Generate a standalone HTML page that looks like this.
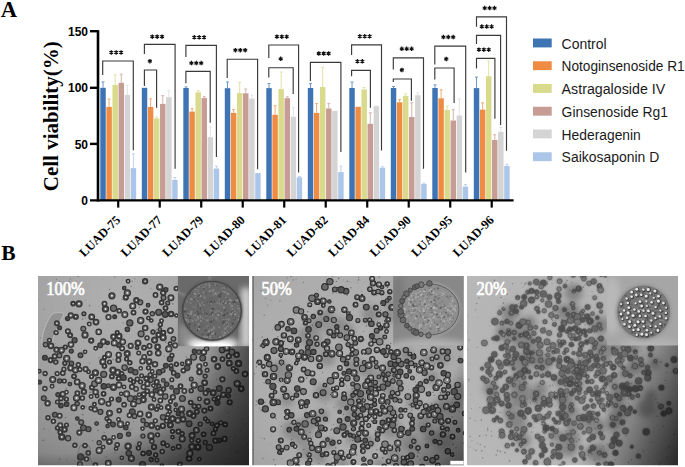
<!DOCTYPE html><html><head><meta charset="utf-8"><style>html,body{margin:0;padding:0;background:#fff;width:685px;height:467px;overflow:hidden}svg{display:block}</style></head><body><svg width="685" height="467" viewBox="0 0 685 467"><text x="0.7" y="16.5" font-family="Liberation Serif" font-weight="bold" font-size="22.6" fill="#000">A</text><text x="1.2" y="260.2" font-family="Liberation Serif" font-weight="bold" font-size="21.5" fill="#000">B</text><text transform="translate(57.6,191.2) rotate(-90)" font-family="Liberation Serif" font-weight="bold" font-size="21" fill="#000">Cell viability(%)</text><rect x="100.30" y="87.80" width="5.45" height="112.50" fill="#3e74b4"/><path d="M103.02 87.80V81.90M101.52 81.90H104.52" stroke="#6a97cf" stroke-width="1" fill="none"/><rect x="106.38" y="106.90" width="5.45" height="93.40" fill="#ef8c43"/><path d="M109.10 106.90V99.10M107.60 99.10H110.60" stroke="#f3aa76" stroke-width="1" fill="none"/><rect x="112.46" y="84.90" width="5.45" height="115.40" fill="#d9da8c"/><path d="M115.18 84.90V74.80M113.68 74.80H116.68" stroke="#e2e2a6" stroke-width="1" fill="none"/><rect x="118.54" y="82.80" width="5.45" height="117.50" fill="#c69c94"/><path d="M121.26 82.80V74.20M119.76 74.20H122.76" stroke="#d4b2ab" stroke-width="1" fill="none"/><rect x="124.62" y="94.90" width="5.45" height="105.40" fill="#d4d4d4"/><path d="M127.34 94.90V85.20M125.84 85.20H128.84" stroke="#e2e2e2" stroke-width="1" fill="none"/><rect x="130.70" y="168.10" width="5.45" height="32.20" fill="#abc6e9"/><path d="M133.42 168.10V153.90M131.92 153.90H134.92" stroke="#bcd2ee" stroke-width="1" fill="none"/><rect x="141.80" y="87.80" width="5.45" height="112.50" fill="#3e74b4"/><rect x="147.88" y="107.00" width="5.45" height="93.30" fill="#ef8c43"/><path d="M150.61 107.00V98.90M149.11 98.90H152.11" stroke="#f3aa76" stroke-width="1" fill="none"/><rect x="153.96" y="118.40" width="5.45" height="81.90" fill="#d9da8c"/><path d="M156.69 118.40V116.90M155.19 116.90H158.19" stroke="#e2e2a6" stroke-width="1" fill="none"/><rect x="160.04" y="103.90" width="5.45" height="96.40" fill="#c69c94"/><path d="M162.77 103.90V95.70M161.27 95.70H164.27" stroke="#d4b2ab" stroke-width="1" fill="none"/><rect x="166.12" y="97.20" width="5.45" height="103.10" fill="#d4d4d4"/><path d="M168.84 97.20V90.70M167.34 90.70H170.34" stroke="#e2e2e2" stroke-width="1" fill="none"/><rect x="172.20" y="180.00" width="5.45" height="20.30" fill="#abc6e9"/><path d="M174.93 180.00V177.60M173.43 177.60H176.43" stroke="#bcd2ee" stroke-width="1" fill="none"/><rect x="183.30" y="88.00" width="5.45" height="112.30" fill="#3e74b4"/><path d="M186.03 88.00V86.90M184.53 86.90H187.53" stroke="#6a97cf" stroke-width="1" fill="none"/><rect x="189.38" y="111.60" width="5.45" height="88.70" fill="#ef8c43"/><path d="M192.11 111.60V108.70M190.61 108.70H193.61" stroke="#f3aa76" stroke-width="1" fill="none"/><rect x="195.46" y="92.30" width="5.45" height="108.00" fill="#d9da8c"/><path d="M198.19 92.30V90.70M196.69 90.70H199.69" stroke="#e2e2a6" stroke-width="1" fill="none"/><rect x="201.54" y="98.10" width="5.45" height="102.20" fill="#c69c94"/><path d="M204.27 98.10V96.70M202.77 96.70H205.77" stroke="#d4b2ab" stroke-width="1" fill="none"/><rect x="207.62" y="137.10" width="5.45" height="63.20" fill="#d4d4d4"/><path d="M210.34 137.10V127.00M208.84 127.00H211.84" stroke="#e2e2e2" stroke-width="1" fill="none"/><rect x="213.70" y="168.50" width="5.45" height="31.80" fill="#abc6e9"/><path d="M216.43 168.50V166.10M214.93 166.10H217.93" stroke="#bcd2ee" stroke-width="1" fill="none"/><rect x="224.80" y="88.20" width="5.45" height="112.10" fill="#3e74b4"/><path d="M227.53 88.20V82.00M226.03 82.00H229.03" stroke="#6a97cf" stroke-width="1" fill="none"/><rect x="230.88" y="112.90" width="5.45" height="87.40" fill="#ef8c43"/><path d="M233.61 112.90V109.70M232.11 109.70H235.11" stroke="#f3aa76" stroke-width="1" fill="none"/><rect x="236.96" y="93.10" width="5.45" height="107.20" fill="#d9da8c"/><path d="M239.69 93.10V82.50M238.19 82.50H241.19" stroke="#e2e2a6" stroke-width="1" fill="none"/><rect x="243.04" y="93.30" width="5.45" height="107.00" fill="#c69c94"/><path d="M245.77 93.30V89.00M244.27 89.00H247.27" stroke="#d4b2ab" stroke-width="1" fill="none"/><rect x="249.12" y="98.60" width="5.45" height="101.70" fill="#d4d4d4"/><path d="M251.84 98.60V95.10M250.34 95.10H253.34" stroke="#e2e2e2" stroke-width="1" fill="none"/><rect x="255.20" y="173.10" width="5.45" height="27.20" fill="#abc6e9"/><rect x="266.30" y="88.10" width="5.45" height="112.20" fill="#3e74b4"/><path d="M269.03 88.10V83.60M267.53 83.60H270.53" stroke="#6a97cf" stroke-width="1" fill="none"/><rect x="272.38" y="114.80" width="5.45" height="85.50" fill="#ef8c43"/><path d="M275.11 114.80V105.80M273.61 105.80H276.61" stroke="#f3aa76" stroke-width="1" fill="none"/><rect x="278.46" y="89.10" width="5.45" height="111.20" fill="#d9da8c"/><path d="M281.19 89.10V72.10M279.69 72.10H282.69" stroke="#e2e2a6" stroke-width="1" fill="none"/><rect x="284.54" y="98.20" width="5.45" height="102.10" fill="#c69c94"/><path d="M287.27 98.20V96.80M285.77 96.80H288.77" stroke="#d4b2ab" stroke-width="1" fill="none"/><rect x="290.62" y="116.70" width="5.45" height="83.60" fill="#d4d4d4"/><path d="M293.35 116.70V107.70M291.85 107.70H294.85" stroke="#e2e2e2" stroke-width="1" fill="none"/><rect x="296.70" y="177.30" width="5.45" height="23.00" fill="#abc6e9"/><path d="M299.43 177.30V176.50M297.93 176.50H300.93" stroke="#bcd2ee" stroke-width="1" fill="none"/><rect x="307.80" y="88.00" width="5.45" height="112.30" fill="#3e74b4"/><path d="M310.53 88.00V83.70M309.03 83.70H312.03" stroke="#6a97cf" stroke-width="1" fill="none"/><rect x="313.88" y="112.90" width="5.45" height="87.40" fill="#ef8c43"/><path d="M316.61 112.90V103.60M315.11 103.60H318.11" stroke="#f3aa76" stroke-width="1" fill="none"/><rect x="319.96" y="87.00" width="5.45" height="113.30" fill="#d9da8c"/><path d="M322.69 87.00V67.40M321.19 67.40H324.19" stroke="#e2e2a6" stroke-width="1" fill="none"/><rect x="326.04" y="108.50" width="5.45" height="91.80" fill="#c69c94"/><path d="M328.77 108.50V103.60M327.27 103.60H330.27" stroke="#d4b2ab" stroke-width="1" fill="none"/><rect x="332.12" y="110.80" width="5.45" height="89.50" fill="#d4d4d4"/><rect x="338.20" y="172.10" width="5.45" height="28.20" fill="#abc6e9"/><path d="M340.93 172.10V166.10M339.43 166.10H342.43" stroke="#bcd2ee" stroke-width="1" fill="none"/><rect x="349.30" y="88.00" width="5.45" height="112.30" fill="#3e74b4"/><path d="M352.03 88.00V82.00M350.53 82.00H353.53" stroke="#6a97cf" stroke-width="1" fill="none"/><rect x="355.38" y="106.80" width="5.45" height="93.50" fill="#ef8c43"/><rect x="361.46" y="89.50" width="5.45" height="110.80" fill="#d9da8c"/><path d="M364.19 89.50V87.50M362.69 87.50H365.69" stroke="#e2e2a6" stroke-width="1" fill="none"/><rect x="367.54" y="123.80" width="5.45" height="76.50" fill="#c69c94"/><path d="M370.27 123.80V112.80M368.77 112.80H371.77" stroke="#d4b2ab" stroke-width="1" fill="none"/><rect x="373.62" y="106.30" width="5.45" height="94.00" fill="#d4d4d4"/><path d="M376.35 106.30V105.80M374.85 105.80H377.85" stroke="#e2e2e2" stroke-width="1" fill="none"/><rect x="379.70" y="167.70" width="5.45" height="32.60" fill="#abc6e9"/><path d="M382.43 167.70V166.80M380.93 166.80H383.93" stroke="#bcd2ee" stroke-width="1" fill="none"/><rect x="390.80" y="88.00" width="5.45" height="112.30" fill="#3e74b4"/><path d="M393.53 88.00V86.60M392.03 86.60H395.03" stroke="#6a97cf" stroke-width="1" fill="none"/><rect x="396.88" y="102.30" width="5.45" height="98.00" fill="#ef8c43"/><path d="M399.61 102.30V99.60M398.11 99.60H401.11" stroke="#f3aa76" stroke-width="1" fill="none"/><rect x="402.96" y="96.00" width="5.45" height="104.30" fill="#d9da8c"/><path d="M405.69 96.00V93.80M404.19 93.80H407.19" stroke="#e2e2a6" stroke-width="1" fill="none"/><rect x="409.04" y="117.00" width="5.45" height="83.30" fill="#c69c94"/><path d="M411.77 117.00V102.80M410.27 102.80H413.27" stroke="#d4b2ab" stroke-width="1" fill="none"/><rect x="415.12" y="95.20" width="5.45" height="105.10" fill="#d4d4d4"/><path d="M417.85 95.20V92.80M416.35 92.80H419.35" stroke="#e2e2e2" stroke-width="1" fill="none"/><rect x="421.20" y="184.00" width="5.45" height="16.30" fill="#abc6e9"/><path d="M423.93 184.00V183.20M422.43 183.20H425.43" stroke="#bcd2ee" stroke-width="1" fill="none"/><rect x="432.30" y="88.00" width="5.45" height="112.30" fill="#3e74b4"/><path d="M435.03 88.00V84.80M433.53 84.80H436.53" stroke="#6a97cf" stroke-width="1" fill="none"/><rect x="438.38" y="98.30" width="5.45" height="102.00" fill="#ef8c43"/><path d="M441.11 98.30V89.80M439.61 89.80H442.61" stroke="#f3aa76" stroke-width="1" fill="none"/><rect x="444.46" y="109.90" width="5.45" height="90.40" fill="#d9da8c"/><path d="M447.19 109.90V106.00M445.69 106.00H448.69" stroke="#e2e2a6" stroke-width="1" fill="none"/><rect x="450.54" y="120.50" width="5.45" height="79.80" fill="#c69c94"/><path d="M453.27 120.50V109.70M451.77 109.70H454.77" stroke="#d4b2ab" stroke-width="1" fill="none"/><rect x="456.62" y="115.50" width="5.45" height="84.80" fill="#d4d4d4"/><path d="M459.35 115.50V98.80M457.85 98.80H460.85" stroke="#e2e2e2" stroke-width="1" fill="none"/><rect x="462.70" y="186.50" width="5.45" height="13.80" fill="#abc6e9"/><path d="M465.43 186.50V184.50M463.93 184.50H466.93" stroke="#bcd2ee" stroke-width="1" fill="none"/><rect x="473.80" y="88.10" width="5.45" height="112.20" fill="#3e74b4"/><path d="M476.53 88.10V77.10M475.03 77.10H478.03" stroke="#6a97cf" stroke-width="1" fill="none"/><rect x="479.88" y="109.60" width="5.45" height="90.70" fill="#ef8c43"/><path d="M482.61 109.60V102.90M481.11 102.90H484.11" stroke="#f3aa76" stroke-width="1" fill="none"/><rect x="485.96" y="76.20" width="5.45" height="124.10" fill="#d9da8c"/><path d="M488.69 76.20V61.00M487.19 61.00H490.19" stroke="#e2e2a6" stroke-width="1" fill="none"/><rect x="492.04" y="140.00" width="5.45" height="60.30" fill="#c69c94"/><path d="M494.77 140.00V134.70M493.27 134.70H496.27" stroke="#d4b2ab" stroke-width="1" fill="none"/><rect x="498.12" y="131.80" width="5.45" height="68.50" fill="#d4d4d4"/><path d="M500.85 131.80V127.50M499.35 127.50H502.35" stroke="#e2e2e2" stroke-width="1" fill="none"/><rect x="504.20" y="165.90" width="5.45" height="34.40" fill="#abc6e9"/><path d="M506.93 165.90V164.20M505.43 164.20H508.43" stroke="#bcd2ee" stroke-width="1" fill="none"/><path d="M102.7 75.0V61.0H133.3V150.2" stroke="#3a3a3a" stroke-width="1.15" fill="none"/><path d="M111.30 50.15L111.30 54.65M113.25 51.27L109.35 53.52M113.25 53.52L109.35 51.27M116.20 50.15L116.20 54.65M118.15 51.27L114.25 53.52M118.15 53.52L114.25 51.27M121.10 50.15L121.10 54.65M123.05 51.27L119.15 53.52M123.05 53.52L119.15 51.27" stroke="#111" stroke-width="1.25" fill="none"/><path d="M144.4 54.0V44.4H175.1V168.8" stroke="#3a3a3a" stroke-width="1.15" fill="none"/><path d="M152.30 34.45L152.30 38.95M154.25 35.58L150.35 37.83M154.25 37.83L150.35 35.58M157.20 34.45L157.20 38.95M159.15 35.58L155.25 37.83M159.15 37.83L155.25 35.58M162.10 34.45L162.10 38.95M164.05 35.58L160.15 37.83M164.05 37.83L160.15 35.58" stroke="#111" stroke-width="1.25" fill="none"/><path d="M144.4 85.9V70.0H156.6V107.8" stroke="#3a3a3a" stroke-width="1.15" fill="none"/><path d="M149.90 58.95L149.90 63.45M151.85 60.08L147.95 62.33M151.85 62.33L147.95 60.08" stroke="#111" stroke-width="1.25" fill="none"/><path d="M185.9 56.9V45.4H216.4V156.9" stroke="#3a3a3a" stroke-width="1.15" fill="none"/><path d="M194.30 35.05L194.30 39.55M196.25 36.17L192.35 38.42M196.25 38.42L192.35 36.17M199.20 35.05L199.20 39.55M201.15 36.17L197.25 38.42M201.15 38.42L197.25 36.17M204.10 35.05L204.10 39.55M206.05 36.17L202.15 38.42M206.05 38.42L202.15 36.17" stroke="#111" stroke-width="1.25" fill="none"/><path d="M185.9 83.2V71.3H210.2V122.7" stroke="#3a3a3a" stroke-width="1.15" fill="none"/><path d="M191.40 60.85L191.40 65.35M193.35 61.98L189.45 64.23M193.35 64.22L189.45 61.98M196.30 60.85L196.30 65.35M198.25 61.98L194.35 64.23M198.25 64.22L194.35 61.98M201.20 60.85L201.20 65.35M203.15 61.98L199.25 64.23M203.15 64.22L199.25 61.98" stroke="#111" stroke-width="1.25" fill="none"/><path d="M227.2 78.1V59.2H257.6V169.2" stroke="#3a3a3a" stroke-width="1.15" fill="none"/><path d="M235.40 47.95L235.40 52.45M237.35 49.08L233.45 51.33M237.35 51.33L233.45 49.08M240.30 47.95L240.30 52.45M242.25 49.08L238.35 51.33M242.25 51.33L238.35 49.08M245.20 47.95L245.20 52.45M247.15 49.08L243.25 51.33M247.15 51.33L243.25 49.08" stroke="#111" stroke-width="1.25" fill="none"/><path d="M268.8 57.9V45.0H298.6V172.5" stroke="#3a3a3a" stroke-width="1.15" fill="none"/><path d="M276.90 34.45L276.90 38.95M278.85 35.58L274.95 37.83M278.85 37.83L274.95 35.58M281.80 34.45L281.80 38.95M283.75 35.58L279.85 37.83M283.75 37.83L279.85 35.58M286.70 34.45L286.70 38.95M288.65 35.58L284.75 37.83M288.65 37.83L284.75 35.58" stroke="#111" stroke-width="1.25" fill="none"/><path d="M268.8 77.5V67.7H293.2V93.9" stroke="#3a3a3a" stroke-width="1.15" fill="none"/><path d="M280.70 56.55L280.70 61.05M282.65 57.67L278.75 59.92M282.65 59.92L278.75 57.67" stroke="#111" stroke-width="1.25" fill="none"/><path d="M310.4 80.9V62.3H340.9V152.1" stroke="#3a3a3a" stroke-width="1.15" fill="none"/><path d="M318.80 51.25L318.80 55.75M320.75 52.38L316.85 54.62M320.75 54.62L316.85 52.38M323.70 51.25L323.70 55.75M325.65 52.38L321.75 54.62M325.65 54.62L321.75 52.38M328.60 51.25L328.60 55.75M330.55 52.38L326.65 54.62M330.55 54.62L326.65 52.38" stroke="#111" stroke-width="1.25" fill="none"/><path d="M351.6 55.0V44.8H381.5V150.4" stroke="#3a3a3a" stroke-width="1.15" fill="none"/><path d="M359.80 34.05L359.80 38.55M361.75 35.17L357.85 37.42M361.75 37.42L357.85 35.17M364.70 34.05L364.70 38.55M366.65 35.17L362.75 37.42M366.65 37.42L362.75 35.17M369.60 34.05L369.60 38.55M371.55 35.17L367.65 37.42M371.55 37.42L367.65 35.17" stroke="#111" stroke-width="1.25" fill="none"/><path d="M351.6 76.2V70.4H370.4V107.8" stroke="#3a3a3a" stroke-width="1.15" fill="none"/><path d="M357.45 59.05L357.45 63.55M359.40 60.17L355.50 62.42M359.40 62.42L355.50 60.17M362.35 59.05L362.35 63.55M364.30 60.17L360.40 62.42M364.30 62.42L360.40 60.17" stroke="#111" stroke-width="1.25" fill="none"/><path d="M393.3 69.4V57.9H423.5V168.7" stroke="#3a3a3a" stroke-width="1.15" fill="none"/><path d="M401.80 46.55L401.80 51.05M403.75 47.67L399.85 49.92M403.75 49.92L399.85 47.67M406.70 46.55L406.70 51.05M408.65 47.67L404.75 49.92M408.65 49.92L404.75 47.67M411.60 46.55L411.60 51.05M413.55 47.67L409.65 49.92M413.55 49.92L409.65 47.67" stroke="#111" stroke-width="1.25" fill="none"/><path d="M393.3 82.0V79.0H411.4V100.7" stroke="#3a3a3a" stroke-width="1.15" fill="none"/><path d="M401.90 67.75L401.90 72.25M403.85 68.88L399.95 71.12M403.85 71.12L399.95 68.88" stroke="#111" stroke-width="1.25" fill="none"/><path d="M434.8 64.6V46.1H465.7V172.5" stroke="#3a3a3a" stroke-width="1.15" fill="none"/><path d="M443.40 34.85L443.40 39.35M445.35 35.98L441.45 38.23M445.35 38.23L441.45 35.98M448.30 34.85L448.30 39.35M450.25 35.98L446.35 38.23M450.25 38.23L446.35 35.98M453.20 34.85L453.20 39.35M455.15 35.98L451.25 38.23M455.15 38.23L451.25 35.98" stroke="#111" stroke-width="1.25" fill="none"/><path d="M434.8 79.6V68.0H454.1V103.1" stroke="#3a3a3a" stroke-width="1.15" fill="none"/><path d="M446.30 56.75L446.30 61.25M448.25 57.88L444.35 60.12M448.25 60.12L444.35 57.88" stroke="#111" stroke-width="1.25" fill="none"/><path d="M476.5 26.7V16.8H506.5V150.8" stroke="#3a3a3a" stroke-width="1.15" fill="none"/><path d="M484.70 5.85L484.70 10.35M486.65 6.97L482.75 9.22M486.65 9.22L482.75 6.98M489.60 5.85L489.60 10.35M491.55 6.97L487.65 9.22M491.55 9.22L487.65 6.98M494.50 5.85L494.50 10.35M496.45 6.97L492.55 9.22M496.45 9.22L492.55 6.98" stroke="#111" stroke-width="1.25" fill="none"/><path d="M476.5 44.0V35.4H500.6V124.9" stroke="#3a3a3a" stroke-width="1.15" fill="none"/><path d="M481.80 24.35L481.80 28.85M483.75 25.48L479.85 27.73M483.75 27.73L479.85 25.48M486.70 24.35L486.70 28.85M488.65 25.48L484.75 27.73M488.65 27.73L484.75 25.48M491.60 24.35L491.60 28.85M493.55 25.48L489.65 27.73M493.55 27.73L489.65 25.48" stroke="#111" stroke-width="1.25" fill="none"/><path d="M476.5 68.6V58.4H494.9V118.8" stroke="#3a3a3a" stroke-width="1.15" fill="none"/><path d="M478.90 47.45L478.90 51.95M480.85 48.58L476.95 50.83M480.85 50.83L476.95 48.58M483.80 47.45L483.80 51.95M485.75 48.58L481.85 50.83M485.75 50.83L481.85 48.58M488.70 47.45L488.70 51.95M490.65 48.58L486.75 50.83M490.65 50.83L486.75 48.58" stroke="#111" stroke-width="1.25" fill="none"/><path d="M98 30.2V201.5" stroke="#000" stroke-width="2.6" fill="none"/><path d="M90 200.35H513.6" stroke="#000" stroke-width="2.4" fill="none"/><path d="M90 31.2H98" stroke="#000" stroke-width="2.4" fill="none"/><path d="M90 87.8H98" stroke="#000" stroke-width="2.4" fill="none"/><path d="M90 143.9H98" stroke="#000" stroke-width="2.4" fill="none"/><text x="88" y="35.80" text-anchor="end" font-family="Liberation Sans" font-weight="bold" font-size="12" fill="#000">150</text><text x="88" y="92.40" text-anchor="end" font-family="Liberation Sans" font-weight="bold" font-size="12" fill="#000">100</text><text x="88" y="148.50" text-anchor="end" font-family="Liberation Sans" font-weight="bold" font-size="12" fill="#000">50</text><text x="88" y="204.95" text-anchor="end" font-family="Liberation Sans" font-weight="bold" font-size="12" fill="#000">0</text><path d="M118.22 200V207.6" stroke="#000" stroke-width="2.2" fill="none"/><text transform="translate(121.12,220.70) rotate(-45)" text-anchor="end" font-family="Liberation Serif" font-weight="bold" font-size="12.5" fill="#000">LUAD-75</text><path d="M159.73 200V207.6" stroke="#000" stroke-width="2.2" fill="none"/><text transform="translate(162.63,220.70) rotate(-45)" text-anchor="end" font-family="Liberation Serif" font-weight="bold" font-size="12.5" fill="#000">LUAD-77</text><path d="M201.23 200V207.6" stroke="#000" stroke-width="2.2" fill="none"/><text transform="translate(204.13,220.70) rotate(-45)" text-anchor="end" font-family="Liberation Serif" font-weight="bold" font-size="12.5" fill="#000">LUAD-79</text><path d="M242.73 200V207.6" stroke="#000" stroke-width="2.2" fill="none"/><text transform="translate(245.63,220.70) rotate(-45)" text-anchor="end" font-family="Liberation Serif" font-weight="bold" font-size="12.5" fill="#000">LUAD-80</text><path d="M284.23 200V207.6" stroke="#000" stroke-width="2.2" fill="none"/><text transform="translate(287.12,220.70) rotate(-45)" text-anchor="end" font-family="Liberation Serif" font-weight="bold" font-size="12.5" fill="#000">LUAD-81</text><path d="M325.73 200V207.6" stroke="#000" stroke-width="2.2" fill="none"/><text transform="translate(328.62,220.70) rotate(-45)" text-anchor="end" font-family="Liberation Serif" font-weight="bold" font-size="12.5" fill="#000">LUAD-82</text><path d="M367.23 200V207.6" stroke="#000" stroke-width="2.2" fill="none"/><text transform="translate(370.12,220.70) rotate(-45)" text-anchor="end" font-family="Liberation Serif" font-weight="bold" font-size="12.5" fill="#000">LUAD-84</text><path d="M408.73 200V207.6" stroke="#000" stroke-width="2.2" fill="none"/><text transform="translate(411.62,220.70) rotate(-45)" text-anchor="end" font-family="Liberation Serif" font-weight="bold" font-size="12.5" fill="#000">LUAD-90</text><path d="M450.23 200V207.6" stroke="#000" stroke-width="2.2" fill="none"/><text transform="translate(453.12,220.70) rotate(-45)" text-anchor="end" font-family="Liberation Serif" font-weight="bold" font-size="12.5" fill="#000">LUAD-95</text><path d="M491.73 200V207.6" stroke="#000" stroke-width="2.2" fill="none"/><text transform="translate(494.62,220.70) rotate(-45)" text-anchor="end" font-family="Liberation Serif" font-weight="bold" font-size="12.5" fill="#000">LUAD-96</text><rect x="533" y="38.50" width="18.7" height="8.9" fill="#3e74b4"/><text x="561.6" y="48.70" font-family="Liberation Sans" font-size="14" textLength="45.0" lengthAdjust="spacingAndGlyphs" fill="#1a1a1a">Control</text><rect x="533" y="61.25" width="18.7" height="8.9" fill="#ef8c43"/><text x="561.6" y="71.45" font-family="Liberation Sans" font-size="14" textLength="123.0" lengthAdjust="spacingAndGlyphs" fill="#1a1a1a">Notoginsenoside R1</text><rect x="533" y="84.00" width="18.7" height="8.9" fill="#d9da8c"/><text x="561.6" y="94.20" font-family="Liberation Sans" font-size="14" textLength="103.6" lengthAdjust="spacingAndGlyphs" fill="#1a1a1a">Astragaloside IV</text><rect x="533" y="106.75" width="18.7" height="8.9" fill="#c69c94"/><text x="561.6" y="116.95" font-family="Liberation Sans" font-size="14" textLength="106.4" lengthAdjust="spacingAndGlyphs" fill="#1a1a1a">Ginsenoside Rg1</text><rect x="533" y="129.50" width="18.7" height="8.9" fill="#d4d4d4"/><text x="561.6" y="139.70" font-family="Liberation Sans" font-size="14" textLength="79.2" lengthAdjust="spacingAndGlyphs" fill="#1a1a1a">Hederagenin</text><rect x="533" y="152.25" width="18.7" height="8.9" fill="#abc6e9"/><text x="561.6" y="162.45" font-family="Liberation Sans" font-size="14" textLength="97.6" lengthAdjust="spacingAndGlyphs" fill="#1a1a1a">Saikosaponin D</text><defs><filter id="bl" x="-5%" y="-5%" width="110%" height="110%"><feGaussianBlur stdDeviation="0.55"/></filter><filter id="bl2" x="-20%" y="-20%" width="140%" height="140%"><feGaussianBlur stdDeviation="1.3"/></filter><filter id="bl3" x="-30%" y="-30%" width="160%" height="160%"><feGaussianBlur stdDeviation="3"/></filter><filter id="bump" x="-5%" y="-5%" width="110%" height="110%"><feTurbulence type="fractalNoise" baseFrequency="0.3" numOctaves="1" seed="3" result="t"/><feDisplacementMap in="SourceGraphic" in2="t" scale="2.0" xChannelSelector="R" yChannelSelector="G" result="d"/><feGaussianBlur in="d" stdDeviation="0.6"/></filter><clipPath id="c0"><rect x="38.0" y="276.0" width="211.0" height="189.4"/></clipPath><clipPath id="ci0"><rect x="177.7" y="276.0" width="71.3" height="70.3"/></clipPath><clipPath id="c1"><rect x="252.2" y="276.0" width="211.6" height="189.4"/></clipPath><clipPath id="ci1"><rect x="393.1" y="276.0" width="70.7" height="69.7"/></clipPath><clipPath id="c2"><rect x="467.0" y="276.0" width="211.0" height="189.4"/></clipPath><clipPath id="ci2"><rect x="606.9" y="276.0" width="71.1" height="69.4"/></clipPath><radialGradient id="g0" gradientUnits="userSpaceOnUse" cx="120" cy="300" r="185"><stop offset="0" stop-color="#b0b0b0"/><stop offset="0.35" stop-color="#a7a7a7"/><stop offset="0.6" stop-color="#9e9e9e"/><stop offset="0.8" stop-color="#929292"/><stop offset="1" stop-color="#808080"/></radialGradient><radialGradient id="l0" gradientUnits="userSpaceOnUse" cx="60" cy="300" r="255"><stop offset="0.6" stop-color="#000" stop-opacity="0"/><stop offset="0.68" stop-color="#000" stop-opacity="0.25"/><stop offset="0.78" stop-color="#000" stop-opacity="0.5"/><stop offset="1" stop-color="#000" stop-opacity="0.75"/></radialGradient><radialGradient id="g1" gradientUnits="userSpaceOnUse" cx="345" cy="365" r="180"><stop offset="0" stop-color="#b0b0b0"/><stop offset="0.5" stop-color="#adadad"/><stop offset="0.75" stop-color="#a4a4a4"/><stop offset="1" stop-color="#969696"/></radialGradient><linearGradient id="l1" gradientUnits="userSpaceOnUse" x1="468.0" y1="351.0" x2="521.6" y2="391.2"><stop offset="0.000" stop-color="#000" stop-opacity="0"/><stop offset="0.373" stop-color="#000" stop-opacity="0.25"/><stop offset="1.000" stop-color="#000" stop-opacity="0.56"/></linearGradient><radialGradient id="g2" gradientUnits="userSpaceOnUse" cx="560" cy="360" r="170"><stop offset="0" stop-color="#b0b0b0"/><stop offset="0.6" stop-color="#b6b6b6"/><stop offset="1" stop-color="#bcbcbc"/></radialGradient><linearGradient id="l2" gradientUnits="userSpaceOnUse" x1="657.7" y1="272.6" x2="739.0" y2="306.3"><stop offset="0.000" stop-color="#000" stop-opacity="0"/><stop offset="0.341" stop-color="#000" stop-opacity="0.25"/><stop offset="0.659" stop-color="#000" stop-opacity="0.52"/><stop offset="1.000" stop-color="#000" stop-opacity="0.76"/></linearGradient></defs><g clip-path="url(#c0)"><rect x="38.0" y="276.0" width="211.0" height="189.4" fill="url(#g0)"/><g filter="url(#bl)"><g fill="#505050" opacity="0.55"><circle cx="236.4" cy="452.4" r="0.80"/><circle cx="89.6" cy="363.1" r="0.67"/><circle cx="165.9" cy="342.2" r="0.85"/><circle cx="103.9" cy="279.7" r="0.40"/><circle cx="82.2" cy="414.4" r="0.77"/><circle cx="46.8" cy="320.9" r="0.47"/><circle cx="204.0" cy="446.0" r="0.48"/><circle cx="59.6" cy="459.1" r="0.84"/><circle cx="189.2" cy="365.5" r="0.72"/><circle cx="199.9" cy="372.5" r="0.49"/><circle cx="148.8" cy="401.4" r="0.51"/><circle cx="172.9" cy="303.8" r="0.84"/><circle cx="82.6" cy="318.9" r="0.83"/><circle cx="238.5" cy="451.2" r="0.77"/><circle cx="217.1" cy="431.5" r="0.63"/><circle cx="53.7" cy="414.6" r="0.77"/><circle cx="50.9" cy="414.4" r="0.59"/><circle cx="226.6" cy="463.6" r="0.57"/><circle cx="180.5" cy="402.0" r="0.70"/><circle cx="115.6" cy="397.1" r="0.38"/><circle cx="227.9" cy="413.0" r="0.75"/><circle cx="135.5" cy="314.8" r="0.58"/><circle cx="181.6" cy="379.8" r="0.40"/><circle cx="38.8" cy="351.3" r="0.47"/><circle cx="85.8" cy="317.9" r="0.56"/><circle cx="184.7" cy="448.9" r="0.69"/><circle cx="42.4" cy="440.3" r="0.65"/><circle cx="192.4" cy="392.2" r="0.53"/><circle cx="109.6" cy="289.5" r="0.68"/><circle cx="49.4" cy="405.0" r="0.81"/><circle cx="178.9" cy="390.8" r="0.75"/><circle cx="240.5" cy="429.9" r="0.85"/><circle cx="135.0" cy="278.8" r="0.66"/><circle cx="172.7" cy="439.5" r="0.66"/><circle cx="114.7" cy="276.9" r="0.77"/><circle cx="169.8" cy="462.6" r="0.65"/><circle cx="217.9" cy="422.3" r="0.85"/><circle cx="135.5" cy="445.9" r="0.55"/><circle cx="40.4" cy="337.7" r="0.53"/><circle cx="247.4" cy="350.8" r="0.49"/><circle cx="102.5" cy="350.8" r="0.41"/><circle cx="164.2" cy="356.1" r="0.75"/><circle cx="109.6" cy="461.1" r="0.45"/><circle cx="150.0" cy="318.9" r="0.36"/><circle cx="101.6" cy="445.6" r="0.50"/><circle cx="141.1" cy="375.2" r="0.48"/><circle cx="150.9" cy="288.4" r="0.52"/><circle cx="98.0" cy="430.4" r="0.74"/><circle cx="185.9" cy="388.7" r="0.78"/><circle cx="65.5" cy="417.7" r="0.77"/><circle cx="246.7" cy="422.8" r="0.43"/><circle cx="157.7" cy="394.2" r="0.65"/><circle cx="66.4" cy="459.4" r="0.61"/><circle cx="94.7" cy="461.8" r="0.54"/><circle cx="52.8" cy="402.7" r="0.48"/><circle cx="84.0" cy="333.3" r="0.65"/><circle cx="105.5" cy="401.9" r="0.80"/><circle cx="247.1" cy="444.4" r="0.81"/><circle cx="91.4" cy="432.1" r="0.39"/><circle cx="160.8" cy="290.3" r="0.40"/><circle cx="189.3" cy="375.8" r="0.35"/><circle cx="225.1" cy="431.0" r="0.60"/><circle cx="132.2" cy="281.3" r="0.70"/><circle cx="46.3" cy="375.6" r="0.81"/><circle cx="190.1" cy="408.9" r="0.51"/><circle cx="200.8" cy="385.6" r="0.56"/><circle cx="148.9" cy="328.2" r="0.49"/><circle cx="78.2" cy="276.3" r="0.83"/><circle cx="196.6" cy="462.0" r="0.64"/><circle cx="51.2" cy="306.9" r="0.37"/><circle cx="167.2" cy="393.8" r="0.83"/><circle cx="100.5" cy="320.2" r="0.46"/><circle cx="69.1" cy="281.4" r="0.60"/><circle cx="126.6" cy="345.7" r="0.83"/><circle cx="104.2" cy="432.7" r="0.62"/><circle cx="59.7" cy="281.6" r="0.65"/><circle cx="183.0" cy="433.8" r="0.71"/><circle cx="89.6" cy="305.6" r="0.83"/><circle cx="231.2" cy="450.9" r="0.62"/><circle cx="48.8" cy="345.8" r="0.81"/><circle cx="52.1" cy="331.9" r="0.37"/><circle cx="55.4" cy="343.5" r="0.45"/><circle cx="129.4" cy="392.7" r="0.68"/><circle cx="58.4" cy="377.2" r="0.38"/><circle cx="131.2" cy="429.0" r="0.48"/><circle cx="121.0" cy="426.1" r="0.35"/><circle cx="154.9" cy="377.6" r="0.71"/><circle cx="238.0" cy="407.5" r="0.46"/><circle cx="80.0" cy="367.3" r="0.49"/><circle cx="154.7" cy="293.0" r="0.70"/><circle cx="125.9" cy="285.5" r="0.41"/><circle cx="235.3" cy="436.8" r="0.79"/><circle cx="120.2" cy="462.4" r="0.44"/><circle cx="191.2" cy="454.4" r="0.45"/><circle cx="38.9" cy="299.9" r="0.39"/><circle cx="207.6" cy="390.8" r="0.59"/><circle cx="62.2" cy="397.7" r="0.42"/><circle cx="66.2" cy="388.5" r="0.67"/><circle cx="207.0" cy="432.6" r="0.42"/><circle cx="102.1" cy="303.3" r="0.60"/><circle cx="44.0" cy="440.3" r="0.69"/><circle cx="208.6" cy="368.5" r="0.81"/><circle cx="214.2" cy="433.0" r="0.75"/><circle cx="83.6" cy="341.4" r="0.38"/><circle cx="199.3" cy="365.7" r="0.84"/><circle cx="99.1" cy="357.7" r="0.78"/><circle cx="242.4" cy="419.4" r="0.79"/><circle cx="168.1" cy="288.0" r="0.69"/><circle cx="239.0" cy="371.8" r="0.42"/><circle cx="158.1" cy="288.4" r="0.58"/><circle cx="54.9" cy="355.1" r="0.76"/><circle cx="194.0" cy="437.7" r="0.58"/><circle cx="131.1" cy="286.4" r="0.74"/><circle cx="158.2" cy="353.3" r="0.42"/><circle cx="134.8" cy="287.9" r="0.41"/><circle cx="54.7" cy="356.5" r="0.42"/><circle cx="212.6" cy="391.5" r="0.78"/><circle cx="154.8" cy="306.2" r="0.49"/><circle cx="215.1" cy="386.8" r="0.67"/><circle cx="171.5" cy="285.1" r="0.45"/><circle cx="129.0" cy="435.9" r="0.82"/><circle cx="162.7" cy="325.1" r="0.37"/><circle cx="155.9" cy="353.5" r="0.82"/><circle cx="81.6" cy="314.8" r="0.36"/><circle cx="44.1" cy="428.9" r="0.79"/><circle cx="70.4" cy="278.9" r="0.64"/><circle cx="90.0" cy="392.4" r="0.81"/><circle cx="166.0" cy="330.8" r="0.73"/><circle cx="92.5" cy="440.7" r="0.69"/><circle cx="239.3" cy="386.3" r="0.48"/><circle cx="174.5" cy="334.8" r="0.41"/><circle cx="46.4" cy="391.6" r="0.47"/><circle cx="59.1" cy="423.1" r="0.42"/><circle cx="114.7" cy="452.6" r="0.76"/><circle cx="214.1" cy="461.7" r="0.65"/><circle cx="235.3" cy="393.9" r="0.64"/><circle cx="106.3" cy="347.8" r="0.63"/><circle cx="90.1" cy="397.6" r="0.78"/><circle cx="43.9" cy="345.5" r="0.57"/><circle cx="216.6" cy="379.6" r="0.61"/><circle cx="165.8" cy="380.7" r="0.69"/><circle cx="155.7" cy="380.7" r="0.47"/><circle cx="64.1" cy="359.3" r="0.79"/><circle cx="159.3" cy="374.2" r="0.58"/><circle cx="75.6" cy="425.5" r="0.39"/><circle cx="86.1" cy="328.8" r="0.45"/><circle cx="78.8" cy="291.1" r="0.61"/><circle cx="74.3" cy="397.7" r="0.65"/><circle cx="169.8" cy="367.0" r="0.66"/><circle cx="100.4" cy="363.9" r="0.69"/><circle cx="83.4" cy="414.9" r="0.64"/><circle cx="243.7" cy="392.7" r="0.62"/><circle cx="116.6" cy="357.9" r="0.72"/><circle cx="239.3" cy="462.0" r="0.60"/><circle cx="248.1" cy="393.7" r="0.54"/><circle cx="56.3" cy="279.3" r="0.65"/><circle cx="189.6" cy="392.6" r="0.74"/><circle cx="130.0" cy="416.5" r="0.65"/><circle cx="171.8" cy="379.9" r="0.68"/><circle cx="156.2" cy="293.2" r="0.69"/><circle cx="186.5" cy="357.0" r="0.83"/><circle cx="139.5" cy="307.5" r="0.61"/><circle cx="113.6" cy="307.3" r="0.79"/><circle cx="75.4" cy="410.9" r="0.44"/><circle cx="147.1" cy="464.8" r="0.39"/><circle cx="244.2" cy="448.1" r="0.57"/><circle cx="172.6" cy="363.1" r="0.43"/><circle cx="113.1" cy="359.5" r="0.78"/><circle cx="62.1" cy="378.1" r="0.59"/><circle cx="154.6" cy="426.1" r="0.65"/><circle cx="106.2" cy="456.8" r="0.65"/><circle cx="95.2" cy="379.7" r="0.78"/><circle cx="47.8" cy="398.7" r="0.59"/><circle cx="98.8" cy="306.2" r="0.47"/><circle cx="130.3" cy="355.9" r="0.65"/><circle cx="95.0" cy="393.4" r="0.59"/><circle cx="205.9" cy="428.4" r="0.47"/><circle cx="244.1" cy="379.5" r="0.52"/><circle cx="91.7" cy="411.0" r="0.57"/><circle cx="221.6" cy="359.0" r="0.55"/><circle cx="159.9" cy="375.0" r="0.62"/><circle cx="156.3" cy="455.9" r="0.72"/><circle cx="57.5" cy="463.1" r="0.36"/><circle cx="49.1" cy="431.0" r="0.49"/><circle cx="44.2" cy="309.3" r="0.60"/><circle cx="72.9" cy="278.4" r="0.38"/><circle cx="104.5" cy="369.0" r="0.83"/><circle cx="174.8" cy="437.9" r="0.65"/><circle cx="230.1" cy="403.5" r="0.47"/><circle cx="116.6" cy="366.8" r="0.40"/><circle cx="233.0" cy="367.5" r="0.45"/><circle cx="141.7" cy="428.5" r="0.49"/><circle cx="162.0" cy="293.3" r="0.47"/><circle cx="77.5" cy="371.7" r="0.69"/><circle cx="86.0" cy="406.5" r="0.64"/><circle cx="196.4" cy="464.6" r="0.52"/><circle cx="248.2" cy="362.2" r="0.60"/><circle cx="75.5" cy="292.1" r="0.67"/><circle cx="59.7" cy="282.6" r="0.39"/><circle cx="152.5" cy="313.1" r="0.48"/><circle cx="199.9" cy="360.5" r="0.42"/><circle cx="181.4" cy="464.4" r="0.66"/><circle cx="131.9" cy="377.9" r="0.70"/><circle cx="214.9" cy="424.8" r="0.47"/><circle cx="65.1" cy="372.1" r="0.44"/><circle cx="156.4" cy="329.8" r="0.82"/><circle cx="129.4" cy="430.5" r="0.82"/><circle cx="133.5" cy="421.6" r="0.60"/><circle cx="122.3" cy="299.5" r="0.68"/><circle cx="232.5" cy="406.3" r="0.51"/><circle cx="148.8" cy="343.5" r="0.55"/><circle cx="139.6" cy="373.0" r="0.42"/><circle cx="123.1" cy="322.9" r="0.65"/><circle cx="128.9" cy="405.5" r="0.56"/><circle cx="203.3" cy="380.4" r="0.40"/><circle cx="141.8" cy="323.9" r="0.50"/><circle cx="238.0" cy="366.9" r="0.72"/><circle cx="70.9" cy="395.2" r="0.41"/><circle cx="84.8" cy="300.1" r="0.36"/><circle cx="229.5" cy="458.7" r="0.53"/></g><path d="M52 314 C56 312 62 312 64 314 C60 322 55 332 52 342 C50 347 44 348 42 345 C41 336 46 322 52 314Z" fill="#929292" stroke="#bcbcbc" stroke-width="0.9"/><path d="M80 446 C86 442 92 446 90 452 C88 458 94 462 92 467 L78 467 C77 458 78 450 80 446Z" fill="#8a8a8a" stroke="#6a6a6a" stroke-width="0.7"/><g fill="#565656" stroke="#343434" stroke-width="1.25"><circle cx="154.6" cy="340.1" r="2.94"/><circle cx="135.3" cy="397.7" r="1.83"/><circle cx="151.3" cy="407.1" r="2.97"/><circle cx="57.9" cy="394.6" r="2.06"/><circle cx="113.5" cy="387.2" r="3.06"/><circle cx="149.2" cy="361.7" r="2.72"/><circle cx="173.1" cy="448.5" r="1.85"/><circle cx="189.1" cy="458.5" r="2.68"/><circle cx="60.3" cy="432.2" r="2.24"/><circle cx="182.1" cy="433.7" r="2.08"/><circle cx="151.2" cy="459.6" r="2.15"/><circle cx="213.3" cy="392.8" r="2.86"/><circle cx="132.3" cy="411.7" r="2.94"/><circle cx="157.7" cy="427.7" r="2.06"/><circle cx="104.2" cy="437.8" r="2.28"/><circle cx="188.5" cy="362.3" r="3.06"/><circle cx="128.5" cy="434.3" r="2.14"/><circle cx="119.2" cy="336.2" r="2.74"/><circle cx="144.1" cy="347.7" r="2.29"/><circle cx="128.1" cy="446.3" r="3.09"/><circle cx="214.1" cy="359.2" r="2.69"/><circle cx="91.0" cy="408.3" r="1.90"/><circle cx="176.4" cy="315.5" r="1.72"/><circle cx="119.9" cy="435.9" r="2.48"/><circle cx="138.4" cy="448.1" r="2.12"/><circle cx="162.8" cy="425.9" r="2.54"/><circle cx="116.1" cy="448.6" r="1.80"/><circle cx="175.7" cy="404.6" r="1.71"/><circle cx="204.6" cy="382.7" r="2.78"/><circle cx="176.5" cy="391.2" r="2.95"/><circle cx="105.5" cy="308.9" r="3.07"/><circle cx="71.3" cy="351.0" r="2.00"/><circle cx="124.2" cy="288.1" r="1.73"/><circle cx="148.4" cy="318.1" r="1.78"/><circle cx="126.6" cy="358.9" r="1.99"/><circle cx="127.4" cy="329.3" r="2.24"/><circle cx="91.9" cy="387.5" r="2.26"/><circle cx="117.6" cy="372.5" r="3.08"/><circle cx="199.5" cy="372.1" r="2.67"/><circle cx="113.5" cy="336.7" r="2.65"/><circle cx="208.0" cy="390.3" r="1.90"/><circle cx="65.3" cy="347.1" r="2.05"/><circle cx="219.3" cy="440.3" r="2.26"/><circle cx="97.1" cy="396.0" r="1.79"/><circle cx="77.3" cy="418.5" r="1.74"/><circle cx="95.4" cy="372.8" r="3.04"/><circle cx="148.8" cy="415.0" r="2.77"/><circle cx="48.0" cy="417.8" r="2.11"/><circle cx="138.0" cy="343.0" r="2.84"/><circle cx="100.2" cy="345.3" r="2.39"/><circle cx="57.5" cy="427.9" r="1.99"/><circle cx="111.9" cy="376.4" r="2.24"/><circle cx="165.5" cy="308.1" r="2.33"/><circle cx="107.6" cy="426.1" r="1.76"/><circle cx="88.5" cy="371.8" r="1.86"/><circle cx="165.2" cy="314.5" r="2.86"/><circle cx="119.0" cy="345.0" r="2.49"/><circle cx="106.9" cy="418.5" r="1.90"/><circle cx="148.1" cy="305.3" r="1.82"/><circle cx="137.1" cy="347.7" r="1.73"/><circle cx="130.8" cy="370.2" r="2.63"/><circle cx="163.1" cy="337.6" r="3.05"/><circle cx="229.7" cy="402.3" r="2.45"/><circle cx="142.5" cy="464.7" r="3.08"/><circle cx="113.1" cy="424.6" r="2.37"/><circle cx="187.1" cy="367.8" r="2.76"/><circle cx="166.7" cy="384.3" r="2.25"/><circle cx="145.5" cy="311.6" r="2.52"/><circle cx="112.9" cy="370.2" r="3.01"/><circle cx="170.0" cy="359.1" r="2.61"/><circle cx="159.1" cy="372.2" r="2.61"/><circle cx="74.6" cy="340.2" r="2.51"/><circle cx="171.9" cy="355.4" r="2.03"/><circle cx="125.8" cy="297.4" r="2.45"/><circle cx="121.8" cy="373.6" r="2.02"/><circle cx="172.5" cy="431.3" r="1.95"/><circle cx="178.4" cy="431.6" r="2.42"/><circle cx="193.5" cy="415.9" r="2.43"/><circle cx="151.3" cy="320.5" r="1.72"/><circle cx="171.4" cy="368.9" r="1.87"/><circle cx="147.2" cy="391.2" r="2.24"/><circle cx="217.7" cy="366.5" r="2.80"/><circle cx="95.5" cy="465.2" r="2.23"/><circle cx="205.3" cy="418.8" r="1.85"/><circle cx="83.9" cy="391.7" r="2.53"/></g><g fill="#626262" stroke="#343434" stroke-width="1.25"><circle cx="96.0" cy="322.1" r="2.78"/><circle cx="95.7" cy="348.3" r="1.85"/><circle cx="172.9" cy="397.2" r="2.48"/><circle cx="183.2" cy="419.3" r="2.72"/><circle cx="163.2" cy="292.9" r="2.50"/><circle cx="88.4" cy="429.1" r="2.55"/><circle cx="133.5" cy="312.6" r="2.32"/><circle cx="228.4" cy="395.8" r="2.03"/><circle cx="130.3" cy="379.8" r="2.02"/><circle cx="66.4" cy="399.1" r="1.99"/><circle cx="55.8" cy="362.1" r="2.15"/><circle cx="56.4" cy="349.7" r="2.49"/><circle cx="45.1" cy="373.5" r="2.06"/><circle cx="121.1" cy="393.8" r="1.71"/><circle cx="108.4" cy="385.7" r="1.86"/><circle cx="219.3" cy="388.6" r="2.88"/><circle cx="216.9" cy="425.4" r="2.26"/><circle cx="71.4" cy="363.5" r="2.30"/><circle cx="129.8" cy="322.9" r="3.07"/><circle cx="128.8" cy="453.3" r="2.72"/><circle cx="69.9" cy="384.1" r="1.80"/><circle cx="117.2" cy="444.7" r="2.17"/><circle cx="200.8" cy="388.6" r="2.82"/><circle cx="77.4" cy="393.2" r="2.32"/><circle cx="202.7" cy="358.1" r="2.89"/><circle cx="61.0" cy="398.5" r="2.20"/><circle cx="170.5" cy="401.4" r="1.92"/><circle cx="205.1" cy="376.1" r="2.07"/><circle cx="199.3" cy="459.1" r="1.71"/><circle cx="191.2" cy="390.8" r="2.07"/><circle cx="103.1" cy="447.0" r="1.75"/><circle cx="53.4" cy="421.3" r="2.15"/><circle cx="215.3" cy="440.7" r="2.46"/><circle cx="140.5" cy="381.8" r="2.04"/><circle cx="222.5" cy="359.1" r="2.28"/><circle cx="155.0" cy="364.3" r="2.67"/><circle cx="161.5" cy="320.7" r="1.86"/><circle cx="229.3" cy="363.2" r="2.79"/><circle cx="70.6" cy="368.0" r="2.78"/><circle cx="215.4" cy="428.9" r="1.94"/><circle cx="146.5" cy="424.6" r="2.18"/><circle cx="176.2" cy="288.5" r="2.12"/><circle cx="160.3" cy="324.6" r="2.06"/><circle cx="109.5" cy="413.2" r="2.84"/><circle cx="135.4" cy="372.3" r="2.57"/><circle cx="128.1" cy="281.2" r="1.87"/><circle cx="83.4" cy="427.8" r="2.77"/><circle cx="79.3" cy="432.6" r="2.46"/><circle cx="161.6" cy="302.6" r="2.26"/><circle cx="124.1" cy="404.7" r="2.22"/><circle cx="204.4" cy="410.6" r="2.51"/><circle cx="111.9" cy="295.8" r="3.02"/><circle cx="102.8" cy="361.8" r="2.92"/><circle cx="192.1" cy="435.6" r="2.96"/><circle cx="194.3" cy="406.1" r="2.26"/><circle cx="224.6" cy="438.9" r="2.49"/><circle cx="189.1" cy="423.7" r="2.83"/><circle cx="236.3" cy="371.1" r="2.38"/><circle cx="85.0" cy="334.9" r="3.01"/><circle cx="173.7" cy="372.9" r="2.25"/><circle cx="111.5" cy="399.0" r="2.00"/><circle cx="50.9" cy="345.8" r="2.77"/><circle cx="158.7" cy="312.3" r="2.98"/><circle cx="158.8" cy="386.1" r="2.07"/><circle cx="56.9" cy="323.2" r="2.34"/><circle cx="80.5" cy="355.3" r="2.39"/><circle cx="156.9" cy="460.1" r="1.91"/><circle cx="171.6" cy="387.4" r="1.73"/><circle cx="79.0" cy="303.8" r="3.02"/><circle cx="109.2" cy="421.3" r="2.05"/><circle cx="148.5" cy="367.8" r="2.05"/><circle cx="78.3" cy="364.7" r="2.13"/><circle cx="47.6" cy="403.3" r="2.64"/><circle cx="161.1" cy="407.7" r="1.74"/><circle cx="131.4" cy="458.4" r="2.91"/><circle cx="149.7" cy="353.1" r="2.35"/><circle cx="54.9" cy="414.8" r="2.37"/><circle cx="121.8" cy="457.8" r="1.76"/><circle cx="183.4" cy="370.6" r="2.31"/><circle cx="91.7" cy="316.9" r="2.79"/><circle cx="96.6" cy="423.6" r="1.83"/><circle cx="59.6" cy="380.9" r="2.12"/><circle cx="207.0" cy="401.6" r="2.81"/></g><g fill="#6e6e6e" stroke="#343434" stroke-width="1.25"><circle cx="212.1" cy="423.9" r="1.74"/><circle cx="141.6" cy="375.8" r="1.89"/><circle cx="61.5" cy="350.3" r="2.82"/><circle cx="62.8" cy="373.1" r="2.32"/><circle cx="228.8" cy="356.1" r="2.55"/><circle cx="163.3" cy="380.4" r="1.83"/><circle cx="108.5" cy="403.7" r="2.39"/><circle cx="119.2" cy="310.8" r="2.18"/><circle cx="223.3" cy="394.8" r="2.56"/><circle cx="163.0" cy="417.3" r="2.64"/><circle cx="155.5" cy="295.0" r="2.27"/><circle cx="145.2" cy="328.0" r="2.71"/><circle cx="150.2" cy="374.9" r="2.08"/><circle cx="66.7" cy="358.5" r="3.04"/><circle cx="103.4" cy="341.6" r="2.66"/><circle cx="120.5" cy="424.3" r="3.08"/><circle cx="64.3" cy="381.0" r="1.97"/><circle cx="137.3" cy="379.2" r="2.06"/><circle cx="160.6" cy="392.4" r="2.83"/><circle cx="44.9" cy="388.6" r="2.17"/><circle cx="170.9" cy="297.7" r="2.94"/><circle cx="191.3" cy="379.1" r="1.93"/><circle cx="66.5" cy="425.0" r="1.90"/><circle cx="245.1" cy="374.0" r="2.70"/><circle cx="130.7" cy="345.9" r="2.49"/><circle cx="163.0" cy="370.6" r="1.99"/><circle cx="67.9" cy="331.3" r="2.34"/><circle cx="159.8" cy="287.1" r="3.10"/><circle cx="222.1" cy="350.0" r="2.77"/><circle cx="132.0" cy="386.9" r="2.44"/><circle cx="226.8" cy="347.8" r="3.10"/><circle cx="178.7" cy="446.7" r="2.29"/><circle cx="100.4" cy="411.8" r="2.52"/><circle cx="182.4" cy="398.5" r="2.90"/><circle cx="103.7" cy="374.3" r="3.03"/><circle cx="85.6" cy="369.0" r="2.50"/><circle cx="171.8" cy="379.7" r="1.95"/><circle cx="70.8" cy="315.5" r="2.52"/><circle cx="85.1" cy="351.8" r="1.75"/><circle cx="133.5" cy="404.0" r="2.90"/><circle cx="222.4" cy="379.3" r="2.49"/><circle cx="118.4" cy="359.9" r="2.38"/><circle cx="147.4" cy="383.9" r="2.58"/><circle cx="218.5" cy="397.5" r="2.00"/><circle cx="157.6" cy="434.8" r="2.01"/><circle cx="86.5" cy="459.0" r="2.14"/><circle cx="113.6" cy="308.2" r="3.05"/><circle cx="143.1" cy="420.4" r="2.15"/><circle cx="198.2" cy="440.6" r="2.08"/><circle cx="108.3" cy="463.3" r="2.87"/><circle cx="139.5" cy="443.8" r="1.87"/><circle cx="139.2" cy="394.7" r="1.79"/><circle cx="43.8" cy="398.3" r="2.40"/><circle cx="154.0" cy="399.5" r="1.85"/><circle cx="91.5" cy="376.6" r="1.99"/><circle cx="79.9" cy="369.5" r="2.01"/><circle cx="52.1" cy="386.3" r="1.84"/><circle cx="95.6" cy="392.0" r="2.64"/><circle cx="200.2" cy="424.1" r="2.07"/><circle cx="191.9" cy="446.7" r="3.05"/><circle cx="158.3" cy="353.1" r="2.77"/><circle cx="54.8" cy="356.2" r="2.37"/><circle cx="127.4" cy="292.9" r="3.04"/><circle cx="214.0" cy="399.1" r="1.90"/><circle cx="57.4" cy="402.0" r="1.91"/><circle cx="82.1" cy="385.8" r="3.06"/><circle cx="151.8" cy="394.6" r="2.65"/><circle cx="151.0" cy="435.9" r="3.09"/><circle cx="181.5" cy="409.2" r="2.99"/><circle cx="153.4" cy="385.6" r="1.79"/><circle cx="52.7" cy="379.5" r="3.00"/><circle cx="75.4" cy="370.1" r="2.80"/><circle cx="39.3" cy="371.3" r="1.81"/><circle cx="77.1" cy="403.8" r="2.17"/><circle cx="77.2" cy="381.9" r="2.77"/><circle cx="109.5" cy="362.0" r="1.95"/><circle cx="62.8" cy="394.1" r="2.60"/><circle cx="166.6" cy="421.0" r="1.96"/><circle cx="49.4" cy="340.2" r="1.94"/><circle cx="82.3" cy="398.0" r="2.22"/><circle cx="198.9" cy="352.0" r="2.22"/><circle cx="203.8" cy="352.2" r="2.68"/></g><g fill="#7a7a7a" stroke="#343434" stroke-width="1.25"><circle cx="68.1" cy="438.3" r="2.60"/><circle cx="199.3" cy="366.4" r="2.50"/><circle cx="140.1" cy="413.9" r="2.74"/><circle cx="108.5" cy="354.5" r="2.98"/><circle cx="141.1" cy="333.8" r="3.00"/><circle cx="142.9" cy="436.1" r="2.05"/><circle cx="167.7" cy="303.0" r="1.98"/><circle cx="134.5" cy="416.2" r="2.28"/><circle cx="94.6" cy="383.7" r="2.87"/><circle cx="124.1" cy="386.9" r="1.74"/><circle cx="59.4" cy="355.6" r="2.38"/><circle cx="70.9" cy="344.6" r="2.76"/><circle cx="193.6" cy="357.1" r="2.99"/><circle cx="66.5" cy="392.2" r="1.73"/><circle cx="124.6" cy="367.6" r="2.72"/><circle cx="152.3" cy="313.8" r="2.14"/><circle cx="213.5" cy="433.3" r="2.29"/><circle cx="177.9" cy="420.4" r="2.66"/><circle cx="191.7" cy="440.3" r="1.81"/><circle cx="81.2" cy="422.3" r="2.41"/><circle cx="129.5" cy="415.3" r="2.27"/><circle cx="168.0" cy="414.5" r="1.88"/><circle cx="155.3" cy="420.8" r="2.04"/><circle cx="136.1" cy="388.9" r="2.22"/><circle cx="122.7" cy="341.8" r="2.79"/><circle cx="114.3" cy="343.0" r="2.97"/><circle cx="73.9" cy="407.7" r="2.96"/><circle cx="98.7" cy="331.9" r="2.69"/><circle cx="101.6" cy="401.6" r="3.06"/><circle cx="104.5" cy="303.8" r="2.32"/><circle cx="181.9" cy="414.8" r="2.35"/><circle cx="119.0" cy="384.9" r="2.87"/><circle cx="118.5" cy="419.5" r="1.84"/><circle cx="144.2" cy="357.1" r="2.37"/><circle cx="130.4" cy="398.6" r="2.92"/><circle cx="140.7" cy="320.5" r="3.09"/><circle cx="173.4" cy="338.9" r="2.31"/><circle cx="175.1" cy="345.3" r="2.46"/><circle cx="89.3" cy="324.1" r="1.87"/><circle cx="233.4" cy="368.5" r="1.95"/><circle cx="113.6" cy="437.4" r="1.74"/><circle cx="149.5" cy="346.1" r="2.38"/><circle cx="124.8" cy="314.6" r="2.92"/><circle cx="143.5" cy="387.0" r="2.39"/><circle cx="167.3" cy="417.8" r="1.76"/><circle cx="150.9" cy="380.0" r="2.39"/><circle cx="163.5" cy="297.7" r="2.37"/><circle cx="179.8" cy="464.4" r="2.20"/><circle cx="126.6" cy="393.9" r="2.94"/><circle cx="184.3" cy="391.0" r="2.29"/><circle cx="209.4" cy="447.5" r="2.98"/><circle cx="152.2" cy="371.4" r="1.75"/><circle cx="162.2" cy="451.6" r="2.11"/><circle cx="205.6" cy="393.0" r="2.38"/><circle cx="158.2" cy="406.0" r="1.85"/><circle cx="98.5" cy="380.4" r="3.09"/><circle cx="159.8" cy="329.4" r="1.73"/><circle cx="118.7" cy="354.9" r="2.56"/><circle cx="45.5" cy="344.6" r="2.23"/><circle cx="99.2" cy="442.8" r="2.13"/><circle cx="122.1" cy="348.4" r="2.28"/><circle cx="142.5" cy="361.2" r="2.62"/><circle cx="165.2" cy="396.6" r="2.61"/><circle cx="220.8" cy="422.7" r="1.90"/><circle cx="205.2" cy="442.5" r="2.02"/><circle cx="170.4" cy="330.5" r="2.75"/><circle cx="194.2" cy="385.1" r="3.05"/><circle cx="59.6" cy="415.7" r="2.42"/><circle cx="228.6" cy="390.2" r="2.61"/><circle cx="83.3" cy="328.7" r="2.40"/><circle cx="140.2" cy="302.3" r="2.52"/><circle cx="237.2" cy="383.6" r="3.05"/><circle cx="132.7" cy="306.0" r="2.93"/><circle cx="207.1" cy="370.3" r="1.89"/><circle cx="99.2" cy="450.4" r="3.01"/><circle cx="231.9" cy="352.1" r="2.90"/><circle cx="108.5" cy="317.1" r="2.53"/><circle cx="91.1" cy="396.6" r="1.87"/><circle cx="154.9" cy="376.0" r="1.96"/><circle cx="138.6" cy="401.2" r="2.62"/><circle cx="80.0" cy="464.3" r="2.38"/><circle cx="138.7" cy="353.0" r="1.90"/><circle cx="160.3" cy="400.5" r="2.30"/><circle cx="56.1" cy="332.6" r="2.08"/><circle cx="206.6" cy="348.7" r="2.17"/><circle cx="168.8" cy="348.9" r="3.04"/><circle cx="189.8" cy="453.5" r="3.03"/><circle cx="76.6" cy="398.1" r="3.09"/><circle cx="151.9" cy="441.3" r="2.14"/><circle cx="94.9" cy="409.4" r="2.41"/><circle cx="57.1" cy="373.6" r="1.97"/><circle cx="205.5" cy="364.2" r="1.84"/><circle cx="140.7" cy="368.3" r="1.75"/><circle cx="182.2" cy="438.8" r="2.98"/><circle cx="198.8" cy="406.4" r="2.02"/><circle cx="60.2" cy="425.2" r="2.38"/><circle cx="127.6" cy="423.6" r="1.81"/><circle cx="63.9" cy="369.2" r="2.00"/><circle cx="167.4" cy="445.5" r="1.89"/><circle cx="199.5" cy="398.9" r="1.82"/><circle cx="147.0" cy="337.9" r="2.08"/><circle cx="196.4" cy="430.1" r="2.85"/></g><g fill="#4c4c4c" stroke="#343434" stroke-width="1.25"><circle cx="143.1" cy="453.4" r="2.22"/><circle cx="104.5" cy="357.4" r="1.95"/><circle cx="180.5" cy="386.2" r="2.32"/><circle cx="114.7" cy="316.7" r="1.90"/><circle cx="194.4" cy="351.3" r="2.14"/><circle cx="156.7" cy="381.9" r="2.46"/><circle cx="165.7" cy="289.7" r="2.19"/><circle cx="103.8" cy="386.4" r="2.68"/><circle cx="67.6" cy="318.6" r="2.06"/><circle cx="172.5" cy="418.7" r="2.95"/><circle cx="83.9" cy="313.8" r="1.94"/><circle cx="217.4" cy="402.7" r="2.50"/><circle cx="107.6" cy="342.9" r="1.81"/><circle cx="157.6" cy="346.9" r="2.70"/><circle cx="44.9" cy="357.8" r="2.40"/><circle cx="171.1" cy="314.0" r="2.70"/><circle cx="170.1" cy="343.6" r="1.82"/><circle cx="75.8" cy="316.8" r="2.45"/><circle cx="118.7" cy="378.6" r="2.29"/><circle cx="168.3" cy="407.3" r="2.68"/><circle cx="50.6" cy="360.1" r="2.45"/><circle cx="154.0" cy="447.0" r="2.52"/><circle cx="151.6" cy="425.5" r="2.85"/><circle cx="60.9" cy="405.6" r="2.27"/><circle cx="172.5" cy="437.0" r="1.72"/><circle cx="196.8" cy="411.7" r="2.40"/><circle cx="225.2" cy="424.4" r="2.30"/><circle cx="177.4" cy="375.6" r="2.43"/><circle cx="143.7" cy="394.3" r="2.44"/><circle cx="158.6" cy="334.8" r="2.62"/><circle cx="109.4" cy="441.6" r="2.74"/><circle cx="94.4" cy="404.3" r="1.84"/><circle cx="155.7" cy="390.5" r="2.49"/><circle cx="118.7" cy="399.6" r="2.53"/><circle cx="189.6" cy="413.4" r="2.90"/><circle cx="175.7" cy="409.9" r="1.74"/><circle cx="88.2" cy="452.9" r="2.17"/><circle cx="64.5" cy="429.5" r="2.63"/><circle cx="61.8" cy="436.9" r="3.01"/><circle cx="197.9" cy="447.1" r="3.07"/><circle cx="103.6" cy="393.8" r="2.29"/><circle cx="133.6" cy="381.8" r="1.96"/><circle cx="241.2" cy="388.7" r="2.82"/><circle cx="125.8" cy="427.5" r="2.25"/><circle cx="91.2" cy="340.6" r="2.50"/><circle cx="85.0" cy="445.5" r="2.21"/><circle cx="190.7" cy="402.5" r="2.21"/><circle cx="171.1" cy="365.7" r="1.92"/><circle cx="70.1" cy="335.2" r="2.36"/><circle cx="236.6" cy="354.8" r="2.68"/><circle cx="74.9" cy="445.3" r="2.12"/><circle cx="163.2" cy="443.2" r="2.28"/><circle cx="127.2" cy="353.6" r="2.90"/><circle cx="176.4" cy="364.2" r="2.08"/><circle cx="64.9" cy="363.2" r="2.08"/><circle cx="163.5" cy="389.1" r="2.13"/><circle cx="66.6" cy="404.2" r="2.29"/><circle cx="148.9" cy="452.8" r="2.50"/><circle cx="59.6" cy="327.7" r="1.91"/><circle cx="73.1" cy="303.6" r="2.20"/><circle cx="163.3" cy="332.7" r="2.34"/><circle cx="161.9" cy="465.7" r="1.72"/><circle cx="238.6" cy="363.5" r="3.09"/><circle cx="203.6" cy="434.3" r="2.23"/><circle cx="143.4" cy="399.8" r="2.81"/><circle cx="207.8" cy="421.2" r="1.90"/><circle cx="156.6" cy="409.3" r="1.94"/><circle cx="178.2" cy="413.8" r="1.94"/><circle cx="170.4" cy="425.1" r="2.85"/><circle cx="155.7" cy="455.0" r="2.08"/><circle cx="169.8" cy="411.6" r="1.85"/><circle cx="119.2" cy="410.5" r="2.25"/><circle cx="123.4" cy="377.7" r="2.77"/><circle cx="80.7" cy="457.0" r="3.09"/><circle cx="153.0" cy="331.9" r="2.10"/><circle cx="146.3" cy="378.5" r="2.42"/><circle cx="145.1" cy="281.2" r="2.57"/><circle cx="39.5" cy="382.1" r="2.02"/><circle cx="142.5" cy="428.6" r="1.80"/><circle cx="136.4" cy="300.2" r="2.57"/><circle cx="82.7" cy="407.4" r="1.77"/><circle cx="117.2" cy="332.6" r="1.92"/><circle cx="74.0" cy="376.3" r="2.26"/><circle cx="182.2" cy="363.8" r="1.71"/><circle cx="104.4" cy="366.0" r="2.18"/><circle cx="210.5" cy="408.6" r="2.37"/><circle cx="165.9" cy="365.8" r="2.39"/><circle cx="129.8" cy="362.8" r="2.17"/></g><g fill="#efefef"><circle cx="154.6" cy="340.1" r="0.94"/><circle cx="96.0" cy="322.1" r="0.89"/><circle cx="143.1" cy="453.4" r="0.71"/><circle cx="199.3" cy="366.4" r="0.80"/><circle cx="151.3" cy="407.1" r="0.95"/><circle cx="140.1" cy="413.9" r="0.88"/><circle cx="95.7" cy="348.3" r="0.60"/><circle cx="104.5" cy="357.4" r="0.62"/><circle cx="172.9" cy="397.2" r="0.79"/><circle cx="108.5" cy="354.5" r="0.95"/><circle cx="180.5" cy="386.2" r="0.74"/><circle cx="113.5" cy="387.2" r="0.98"/><circle cx="183.2" cy="419.3" r="0.87"/><circle cx="156.7" cy="381.9" r="0.79"/><circle cx="163.2" cy="292.9" r="0.80"/><circle cx="149.2" cy="361.7" r="0.87"/><circle cx="133.5" cy="312.6" r="0.74"/><circle cx="172.5" cy="418.7" r="0.95"/><circle cx="83.9" cy="313.8" r="0.62"/><circle cx="124.1" cy="386.9" r="0.60"/><circle cx="141.6" cy="375.8" r="0.60"/><circle cx="173.1" cy="448.5" r="0.60"/><circle cx="157.6" cy="346.9" r="0.86"/><circle cx="130.3" cy="379.8" r="0.65"/><circle cx="189.1" cy="458.5" r="0.86"/><circle cx="60.3" cy="432.2" r="0.72"/><circle cx="61.5" cy="350.3" r="0.90"/><circle cx="66.4" cy="399.1" r="0.64"/><circle cx="171.1" cy="314.0" r="0.87"/><circle cx="55.8" cy="362.1" r="0.69"/><circle cx="170.1" cy="343.6" r="0.60"/><circle cx="75.8" cy="316.8" r="0.78"/><circle cx="62.8" cy="373.1" r="0.74"/><circle cx="70.9" cy="344.6" r="0.88"/><circle cx="56.4" cy="349.7" r="0.80"/><circle cx="45.1" cy="373.5" r="0.66"/><circle cx="228.8" cy="356.1" r="0.82"/><circle cx="182.1" cy="433.7" r="0.67"/><circle cx="121.1" cy="393.8" r="0.60"/><circle cx="108.5" cy="403.7" r="0.76"/><circle cx="118.7" cy="378.6" r="0.73"/><circle cx="66.5" cy="392.2" r="0.60"/><circle cx="168.3" cy="407.3" r="0.86"/><circle cx="213.3" cy="392.8" r="0.91"/><circle cx="50.6" cy="360.1" r="0.78"/><circle cx="154.0" cy="447.0" r="0.81"/><circle cx="213.5" cy="433.3" r="0.73"/><circle cx="177.9" cy="420.4" r="0.85"/><circle cx="151.6" cy="425.5" r="0.91"/><circle cx="119.2" cy="310.8" r="0.70"/><circle cx="223.3" cy="394.8" r="0.82"/><circle cx="191.7" cy="440.3" r="0.60"/><circle cx="172.5" cy="437.0" r="0.60"/><circle cx="155.5" cy="295.0" r="0.73"/><circle cx="145.2" cy="328.0" r="0.87"/><circle cx="150.2" cy="374.9" r="0.67"/><circle cx="129.5" cy="415.3" r="0.73"/><circle cx="196.8" cy="411.7" r="0.77"/><circle cx="216.9" cy="425.4" r="0.72"/><circle cx="157.7" cy="427.7" r="0.66"/><circle cx="104.2" cy="437.8" r="0.73"/><circle cx="66.7" cy="358.5" r="0.97"/><circle cx="188.5" cy="362.3" r="0.98"/><circle cx="103.4" cy="341.6" r="0.85"/><circle cx="120.5" cy="424.3" r="0.99"/><circle cx="225.2" cy="424.4" r="0.74"/><circle cx="143.7" cy="394.3" r="0.78"/><circle cx="119.2" cy="336.2" r="0.88"/><circle cx="168.0" cy="414.5" r="0.60"/><circle cx="155.3" cy="420.8" r="0.65"/><circle cx="64.3" cy="381.0" r="0.63"/><circle cx="137.3" cy="379.2" r="0.66"/><circle cx="136.1" cy="388.9" r="0.71"/><circle cx="160.6" cy="392.4" r="0.91"/><circle cx="144.1" cy="347.7" r="0.73"/><circle cx="158.6" cy="334.8" r="0.84"/><circle cx="109.4" cy="441.6" r="0.88"/><circle cx="94.4" cy="404.3" r="0.60"/><circle cx="122.7" cy="341.8" r="0.89"/><circle cx="114.3" cy="343.0" r="0.95"/><circle cx="73.9" cy="407.7" r="0.95"/><circle cx="128.1" cy="446.3" r="0.99"/><circle cx="189.6" cy="413.4" r="0.93"/><circle cx="117.2" cy="444.7" r="0.69"/><circle cx="175.7" cy="409.9" r="0.60"/><circle cx="44.9" cy="388.6" r="0.70"/><circle cx="88.2" cy="452.9" r="0.69"/><circle cx="214.1" cy="359.2" r="0.86"/><circle cx="64.5" cy="429.5" r="0.84"/><circle cx="170.9" cy="297.7" r="0.94"/><circle cx="98.7" cy="331.9" r="0.86"/><circle cx="91.0" cy="408.3" r="0.61"/><circle cx="101.6" cy="401.6" r="0.98"/><circle cx="77.4" cy="393.2" r="0.74"/><circle cx="61.8" cy="436.9" r="0.96"/><circle cx="197.9" cy="447.1" r="0.98"/><circle cx="103.6" cy="393.8" r="0.73"/><circle cx="66.5" cy="425.0" r="0.61"/><circle cx="245.1" cy="374.0" r="0.87"/><circle cx="133.6" cy="381.8" r="0.63"/><circle cx="104.5" cy="303.8" r="0.74"/><circle cx="61.0" cy="398.5" r="0.71"/><circle cx="176.4" cy="315.5" r="0.60"/><circle cx="130.7" cy="345.9" r="0.80"/><circle cx="241.2" cy="388.7" r="0.90"/><circle cx="119.0" cy="384.9" r="0.92"/><circle cx="170.5" cy="401.4" r="0.61"/><circle cx="205.1" cy="376.1" r="0.66"/><circle cx="118.5" cy="419.5" r="0.60"/><circle cx="138.4" cy="448.1" r="0.68"/><circle cx="91.2" cy="340.6" r="0.80"/><circle cx="144.2" cy="357.1" r="0.76"/><circle cx="199.3" cy="459.1" r="0.60"/><circle cx="85.0" cy="445.5" r="0.71"/><circle cx="67.9" cy="331.3" r="0.75"/><circle cx="159.8" cy="287.1" r="0.99"/><circle cx="132.0" cy="386.9" r="0.78"/><circle cx="191.2" cy="390.8" r="0.66"/><circle cx="103.1" cy="447.0" r="0.60"/><circle cx="140.7" cy="320.5" r="0.99"/><circle cx="53.4" cy="421.3" r="0.69"/><circle cx="162.8" cy="425.9" r="0.81"/><circle cx="116.1" cy="448.6" r="0.60"/><circle cx="215.3" cy="440.7" r="0.79"/><circle cx="226.8" cy="347.8" r="0.99"/><circle cx="175.1" cy="345.3" r="0.79"/><circle cx="178.7" cy="446.7" r="0.73"/><circle cx="89.3" cy="324.1" r="0.60"/><circle cx="140.5" cy="381.8" r="0.65"/><circle cx="222.5" cy="359.1" r="0.73"/><circle cx="155.0" cy="364.3" r="0.85"/><circle cx="161.5" cy="320.7" r="0.60"/><circle cx="233.4" cy="368.5" r="0.62"/><circle cx="85.6" cy="369.0" r="0.80"/><circle cx="171.8" cy="379.7" r="0.62"/><circle cx="70.8" cy="315.5" r="0.81"/><circle cx="229.3" cy="363.2" r="0.89"/><circle cx="113.6" cy="437.4" r="0.60"/><circle cx="70.6" cy="368.0" r="0.89"/><circle cx="204.6" cy="382.7" r="0.89"/><circle cx="149.5" cy="346.1" r="0.76"/><circle cx="85.1" cy="351.8" r="0.60"/><circle cx="124.8" cy="314.6" r="0.94"/><circle cx="143.5" cy="387.0" r="0.77"/><circle cx="167.3" cy="417.8" r="0.60"/><circle cx="215.4" cy="428.9" r="0.62"/><circle cx="190.7" cy="402.5" r="0.71"/><circle cx="105.5" cy="308.9" r="0.98"/><circle cx="133.5" cy="404.0" r="0.93"/><circle cx="171.1" cy="365.7" r="0.62"/><circle cx="222.4" cy="379.3" r="0.80"/><circle cx="70.1" cy="335.2" r="0.76"/><circle cx="118.4" cy="359.9" r="0.76"/><circle cx="179.8" cy="464.4" r="0.71"/><circle cx="126.6" cy="393.9" r="0.94"/><circle cx="148.4" cy="318.1" r="0.60"/><circle cx="184.3" cy="391.0" r="0.73"/><circle cx="126.6" cy="358.9" r="0.64"/><circle cx="147.4" cy="383.9" r="0.83"/><circle cx="176.2" cy="288.5" r="0.68"/><circle cx="236.6" cy="354.8" r="0.86"/><circle cx="160.3" cy="324.6" r="0.66"/><circle cx="74.9" cy="445.3" r="0.68"/><circle cx="152.2" cy="371.4" r="0.60"/><circle cx="109.5" cy="413.2" r="0.91"/><circle cx="218.5" cy="397.5" r="0.64"/><circle cx="163.2" cy="443.2" r="0.73"/><circle cx="157.6" cy="434.8" r="0.64"/><circle cx="86.5" cy="459.0" r="0.68"/><circle cx="91.9" cy="387.5" r="0.72"/><circle cx="127.2" cy="353.6" r="0.93"/><circle cx="117.6" cy="372.5" r="0.98"/><circle cx="198.2" cy="440.6" r="0.66"/><circle cx="162.2" cy="451.6" r="0.67"/><circle cx="199.5" cy="372.1" r="0.85"/><circle cx="176.4" cy="364.2" r="0.67"/><circle cx="113.5" cy="336.7" r="0.85"/><circle cx="128.1" cy="281.2" r="0.60"/><circle cx="205.6" cy="393.0" r="0.76"/><circle cx="108.3" cy="463.3" r="0.92"/><circle cx="79.3" cy="432.6" r="0.79"/><circle cx="139.5" cy="443.8" r="0.60"/><circle cx="139.2" cy="394.7" r="0.60"/><circle cx="65.3" cy="347.1" r="0.66"/><circle cx="64.9" cy="363.2" r="0.67"/><circle cx="161.6" cy="302.6" r="0.72"/><circle cx="98.5" cy="380.4" r="0.99"/><circle cx="97.1" cy="396.0" r="0.60"/><circle cx="163.5" cy="389.1" r="0.68"/><circle cx="124.1" cy="404.7" r="0.71"/><circle cx="204.4" cy="410.6" r="0.80"/><circle cx="118.7" cy="354.9" r="0.82"/><circle cx="154.0" cy="399.5" r="0.60"/><circle cx="91.5" cy="376.6" r="0.64"/><circle cx="79.9" cy="369.5" r="0.64"/><circle cx="95.4" cy="372.8" r="0.97"/><circle cx="111.9" cy="295.8" r="0.97"/><circle cx="148.8" cy="415.0" r="0.89"/><circle cx="73.1" cy="303.6" r="0.71"/><circle cx="163.3" cy="332.7" r="0.75"/><circle cx="102.8" cy="361.8" r="0.93"/><circle cx="48.0" cy="417.8" r="0.68"/><circle cx="122.1" cy="348.4" r="0.73"/><circle cx="52.1" cy="386.3" r="0.60"/><circle cx="142.5" cy="361.2" r="0.84"/><circle cx="161.9" cy="465.7" r="0.60"/><circle cx="192.1" cy="435.6" r="0.95"/><circle cx="95.6" cy="392.0" r="0.84"/><circle cx="238.6" cy="363.5" r="0.99"/><circle cx="194.3" cy="406.1" r="0.72"/><circle cx="138.0" cy="343.0" r="0.91"/><circle cx="224.6" cy="438.9" r="0.80"/><circle cx="220.8" cy="422.7" r="0.61"/><circle cx="203.6" cy="434.3" r="0.71"/><circle cx="57.5" cy="427.9" r="0.64"/><circle cx="200.2" cy="424.1" r="0.66"/><circle cx="143.4" cy="399.8" r="0.90"/><circle cx="111.9" cy="376.4" r="0.72"/><circle cx="170.4" cy="330.5" r="0.88"/><circle cx="194.2" cy="385.1" r="0.98"/><circle cx="191.9" cy="446.7" r="0.98"/><circle cx="158.3" cy="353.1" r="0.89"/><circle cx="54.8" cy="356.2" r="0.76"/><circle cx="207.8" cy="421.2" r="0.61"/><circle cx="127.4" cy="292.9" r="0.97"/><circle cx="214.0" cy="399.1" r="0.61"/><circle cx="59.6" cy="415.7" r="0.77"/><circle cx="165.5" cy="308.1" r="0.75"/><circle cx="57.4" cy="402.0" r="0.61"/><circle cx="88.5" cy="371.8" r="0.60"/><circle cx="82.1" cy="385.8" r="0.98"/><circle cx="156.6" cy="409.3" r="0.62"/><circle cx="170.4" cy="425.1" r="0.91"/><circle cx="155.7" cy="455.0" r="0.67"/><circle cx="237.2" cy="383.6" r="0.97"/><circle cx="106.9" cy="418.5" r="0.61"/><circle cx="151.8" cy="394.6" r="0.85"/><circle cx="132.7" cy="306.0" r="0.94"/><circle cx="236.3" cy="371.1" r="0.76"/><circle cx="207.1" cy="370.3" r="0.60"/><circle cx="99.2" cy="450.4" r="0.96"/><circle cx="85.0" cy="334.9" r="0.96"/><circle cx="169.8" cy="411.6" r="0.60"/><circle cx="173.7" cy="372.9" r="0.72"/><circle cx="119.2" cy="410.5" r="0.72"/><circle cx="111.5" cy="399.0" r="0.64"/><circle cx="108.5" cy="317.1" r="0.81"/><circle cx="151.0" cy="435.9" r="0.99"/><circle cx="153.0" cy="331.9" r="0.67"/><circle cx="91.1" cy="396.6" r="0.60"/><circle cx="154.9" cy="376.0" r="0.63"/><circle cx="138.7" cy="353.0" r="0.61"/><circle cx="50.9" cy="345.8" r="0.89"/><circle cx="181.5" cy="409.2" r="0.96"/><circle cx="146.3" cy="378.5" r="0.77"/><circle cx="145.1" cy="281.2" r="0.82"/><circle cx="160.3" cy="400.5" r="0.74"/><circle cx="163.1" cy="337.6" r="0.98"/><circle cx="229.7" cy="402.3" r="0.78"/><circle cx="142.5" cy="428.6" r="0.60"/><circle cx="56.1" cy="332.6" r="0.66"/><circle cx="153.4" cy="385.6" r="0.60"/><circle cx="136.4" cy="300.2" r="0.82"/><circle cx="52.7" cy="379.5" r="0.96"/><circle cx="56.9" cy="323.2" r="0.75"/><circle cx="168.8" cy="348.9" r="0.97"/><circle cx="82.7" cy="407.4" r="0.60"/><circle cx="117.2" cy="332.6" r="0.61"/><circle cx="189.8" cy="453.5" r="0.97"/><circle cx="76.6" cy="398.1" r="0.99"/><circle cx="156.9" cy="460.1" r="0.61"/><circle cx="74.0" cy="376.3" r="0.72"/><circle cx="151.9" cy="441.3" r="0.68"/><circle cx="79.0" cy="303.8" r="0.97"/><circle cx="109.2" cy="421.3" r="0.66"/><circle cx="94.9" cy="409.4" r="0.77"/><circle cx="75.4" cy="370.1" r="0.90"/><circle cx="57.1" cy="373.6" r="0.63"/><circle cx="148.5" cy="367.8" r="0.65"/><circle cx="78.3" cy="364.7" r="0.68"/><circle cx="145.5" cy="311.6" r="0.80"/><circle cx="47.6" cy="403.3" r="0.85"/><circle cx="205.5" cy="364.2" r="0.60"/><circle cx="140.7" cy="368.3" r="0.60"/><circle cx="161.1" cy="407.7" r="0.60"/><circle cx="112.9" cy="370.2" r="0.96"/><circle cx="182.2" cy="363.8" r="0.60"/><circle cx="182.2" cy="438.8" r="0.95"/><circle cx="77.2" cy="381.9" r="0.89"/><circle cx="109.5" cy="362.0" r="0.62"/><circle cx="104.4" cy="366.0" r="0.70"/><circle cx="171.9" cy="355.4" r="0.65"/><circle cx="131.4" cy="458.4" r="0.93"/><circle cx="62.8" cy="394.1" r="0.83"/><circle cx="149.7" cy="353.1" r="0.75"/><circle cx="125.8" cy="297.4" r="0.79"/><circle cx="210.5" cy="408.6" r="0.76"/><circle cx="121.8" cy="373.6" r="0.65"/><circle cx="166.6" cy="421.0" r="0.63"/><circle cx="172.5" cy="431.3" r="0.62"/><circle cx="178.4" cy="431.6" r="0.77"/><circle cx="198.8" cy="406.4" r="0.65"/><circle cx="60.2" cy="425.2" r="0.76"/><circle cx="193.5" cy="415.9" r="0.78"/><circle cx="121.8" cy="457.8" r="0.60"/><circle cx="49.4" cy="340.2" r="0.62"/><circle cx="151.3" cy="320.5" r="0.60"/><circle cx="127.6" cy="423.6" r="0.60"/><circle cx="183.4" cy="370.6" r="0.74"/><circle cx="63.9" cy="369.2" r="0.64"/><circle cx="167.4" cy="445.5" r="0.61"/><circle cx="91.7" cy="316.9" r="0.89"/><circle cx="82.3" cy="398.0" r="0.71"/><circle cx="147.2" cy="391.2" r="0.72"/><circle cx="199.5" cy="398.9" r="0.60"/><circle cx="147.0" cy="337.9" r="0.67"/><circle cx="207.0" cy="401.6" r="0.90"/><circle cx="217.7" cy="366.5" r="0.90"/><circle cx="196.4" cy="430.1" r="0.91"/><circle cx="95.5" cy="465.2" r="0.71"/><circle cx="203.8" cy="352.2" r="0.86"/><circle cx="205.3" cy="418.8" r="0.60"/><circle cx="129.8" cy="362.8" r="0.69"/><circle cx="83.9" cy="391.7" r="0.81"/></g></g><rect x="38.0" y="276.0" width="211.0" height="189.4" fill="url(#l0)"/></g><g clip-path="url(#ci0)"><rect x="177.7" y="276.0" width="71.3" height="70.3" fill="#6a6a6a"/><rect x="178" y="325" width="20" height="22" fill="#8a8a8a" filter="url(#bl3)"/><rect x="241" y="288" width="10" height="60" fill="#d0d0d0" filter="url(#bl3)"/><ellipse cx="213" cy="344" rx="26" ry="6" fill="#fafafa" filter="url(#bl3)"/><ellipse cx="213" cy="346" rx="20" ry="3" fill="#fff" filter="url(#bl2)"/><circle cx="190" cy="276" r="20" fill="none" stroke="#8a8a8a" stroke-width="2" filter="url(#bl2)"/><circle cx="212" cy="310.8" r="30.5" fill="#555" filter="url(#bl2)"/><circle cx="212" cy="310.8" r="29" fill="#686868"/><g filter="url(#bl)"><g fill="#7c7c7c" ><circle cx="209.1" cy="309.4" r="0.67"/><circle cx="204.7" cy="319.5" r="0.62"/><circle cx="237.9" cy="320.5" r="0.52"/><circle cx="225.7" cy="319.7" r="0.99"/><circle cx="201.6" cy="284.9" r="0.63"/><circle cx="208.9" cy="283.7" r="1.00"/><circle cx="185.2" cy="318.9" r="1.18"/><circle cx="230.6" cy="308.0" r="0.89"/><circle cx="239.4" cy="308.8" r="1.00"/><circle cx="204.2" cy="289.4" r="1.11"/><circle cx="196.6" cy="328.6" r="0.72"/><circle cx="189.0" cy="314.1" r="1.08"/><circle cx="211.1" cy="306.2" r="0.63"/><circle cx="191.0" cy="319.0" r="0.68"/><circle cx="222.5" cy="322.5" r="0.65"/><circle cx="196.0" cy="325.8" r="0.97"/><circle cx="214.0" cy="337.3" r="0.50"/><circle cx="220.7" cy="290.1" r="0.80"/><circle cx="238.6" cy="303.5" r="0.99"/><circle cx="196.3" cy="332.1" r="0.50"/><circle cx="228.4" cy="324.0" r="0.99"/><circle cx="226.1" cy="328.0" r="1.21"/><circle cx="234.7" cy="301.0" r="0.70"/><circle cx="198.7" cy="293.6" r="1.09"/><circle cx="196.1" cy="307.4" r="0.74"/><circle cx="227.8" cy="297.4" r="0.51"/><circle cx="219.4" cy="300.8" r="0.74"/><circle cx="191.4" cy="313.6" r="0.90"/><circle cx="222.6" cy="288.2" r="1.03"/><circle cx="219.2" cy="299.8" r="1.02"/><circle cx="204.9" cy="336.7" r="0.62"/><circle cx="207.3" cy="315.5" r="1.06"/><circle cx="222.2" cy="332.2" r="1.02"/><circle cx="227.3" cy="326.0" r="0.69"/><circle cx="222.3" cy="314.4" r="1.26"/><circle cx="213.5" cy="326.9" r="0.99"/><circle cx="223.0" cy="291.1" r="1.14"/><circle cx="213.6" cy="316.1" r="1.21"/><circle cx="187.8" cy="313.7" r="0.50"/><circle cx="186.1" cy="315.7" r="1.00"/><circle cx="194.8" cy="319.1" r="0.58"/><circle cx="218.3" cy="320.0" r="0.80"/><circle cx="185.2" cy="315.6" r="0.59"/><circle cx="218.9" cy="311.1" r="1.12"/><circle cx="212.3" cy="317.1" r="0.82"/><circle cx="225.2" cy="316.0" r="0.83"/><circle cx="231.1" cy="300.5" r="1.19"/><circle cx="187.1" cy="301.7" r="1.02"/><circle cx="221.6" cy="314.0" r="0.79"/><circle cx="210.5" cy="313.5" r="0.97"/><circle cx="215.0" cy="283.9" r="0.93"/><circle cx="233.2" cy="306.7" r="0.58"/><circle cx="217.0" cy="310.1" r="0.96"/><circle cx="237.5" cy="308.0" r="1.18"/><circle cx="198.9" cy="298.8" r="0.61"/><circle cx="222.1" cy="303.5" r="1.14"/><circle cx="219.0" cy="326.8" r="0.75"/><circle cx="219.3" cy="314.7" r="0.78"/><circle cx="190.6" cy="299.0" r="1.07"/><circle cx="202.6" cy="336.1" r="0.72"/><circle cx="198.8" cy="286.8" r="1.22"/><circle cx="202.2" cy="302.6" r="0.91"/><circle cx="195.1" cy="306.0" r="0.50"/><circle cx="202.9" cy="318.3" r="1.02"/><circle cx="224.7" cy="287.8" r="1.08"/><circle cx="202.4" cy="303.5" r="0.65"/><circle cx="225.3" cy="292.6" r="1.24"/><circle cx="216.7" cy="317.9" r="0.62"/><circle cx="205.8" cy="284.6" r="1.27"/><circle cx="217.7" cy="315.1" r="0.67"/><circle cx="195.5" cy="306.2" r="0.59"/><circle cx="198.0" cy="301.0" r="1.05"/><circle cx="203.9" cy="287.3" r="0.96"/><circle cx="207.4" cy="326.4" r="1.18"/><circle cx="194.0" cy="317.6" r="0.57"/><circle cx="215.3" cy="292.6" r="0.97"/><circle cx="216.2" cy="311.8" r="1.12"/><circle cx="237.3" cy="313.8" r="1.27"/><circle cx="209.5" cy="302.8" r="0.59"/><circle cx="213.2" cy="331.9" r="0.71"/><circle cx="214.4" cy="292.8" r="0.90"/><circle cx="206.5" cy="310.8" r="0.81"/><circle cx="229.0" cy="332.4" r="0.71"/><circle cx="208.0" cy="335.3" r="1.09"/><circle cx="221.4" cy="303.7" r="0.61"/><circle cx="208.6" cy="303.0" r="0.55"/><circle cx="217.4" cy="302.7" r="1.10"/><circle cx="213.0" cy="290.7" r="1.22"/><circle cx="204.8" cy="293.5" r="0.96"/><circle cx="194.6" cy="289.6" r="0.59"/><circle cx="194.6" cy="291.8" r="0.97"/><circle cx="185.0" cy="308.8" r="1.26"/><circle cx="191.2" cy="318.1" r="1.19"/><circle cx="224.1" cy="330.8" r="0.58"/><circle cx="213.4" cy="294.6" r="0.97"/><circle cx="225.0" cy="303.6" r="0.77"/><circle cx="198.3" cy="290.6" r="1.08"/><circle cx="239.2" cy="311.0" r="0.75"/><circle cx="225.7" cy="292.6" r="0.84"/><circle cx="211.0" cy="310.8" r="1.13"/><circle cx="215.5" cy="285.4" r="0.53"/><circle cx="190.2" cy="318.7" r="0.55"/><circle cx="215.2" cy="312.0" r="1.11"/><circle cx="218.3" cy="292.5" r="0.92"/></g><g fill="#4c4c4c" ><circle cx="234.5" cy="302.3" r="1.24"/><circle cx="198.4" cy="313.5" r="0.94"/><circle cx="225.4" cy="331.9" r="0.61"/><circle cx="204.6" cy="304.1" r="0.50"/><circle cx="220.9" cy="301.5" r="0.67"/><circle cx="219.6" cy="336.9" r="1.05"/><circle cx="202.7" cy="334.4" r="0.88"/><circle cx="212.0" cy="285.1" r="0.51"/><circle cx="236.6" cy="299.2" r="0.78"/><circle cx="199.6" cy="326.8" r="1.12"/><circle cx="226.2" cy="302.8" r="1.24"/><circle cx="197.0" cy="306.4" r="0.75"/><circle cx="220.7" cy="294.0" r="0.84"/><circle cx="186.4" cy="311.8" r="0.60"/><circle cx="214.2" cy="301.9" r="0.85"/><circle cx="208.5" cy="335.3" r="1.19"/><circle cx="219.8" cy="296.2" r="1.17"/><circle cx="210.6" cy="299.3" r="1.12"/><circle cx="198.9" cy="313.2" r="0.54"/><circle cx="233.4" cy="315.7" r="0.58"/><circle cx="238.0" cy="304.3" r="0.98"/><circle cx="197.0" cy="311.6" r="0.88"/><circle cx="210.8" cy="321.7" r="1.29"/><circle cx="215.2" cy="292.8" r="0.96"/><circle cx="205.7" cy="293.5" r="0.73"/><circle cx="198.2" cy="299.3" r="0.63"/><circle cx="210.3" cy="331.5" r="0.70"/><circle cx="231.7" cy="322.5" r="0.57"/><circle cx="201.9" cy="325.0" r="0.61"/><circle cx="194.3" cy="299.1" r="1.09"/><circle cx="233.5" cy="302.0" r="1.04"/><circle cx="189.5" cy="326.9" r="0.79"/><circle cx="207.0" cy="314.0" r="0.94"/><circle cx="213.6" cy="320.2" r="0.75"/><circle cx="233.0" cy="323.7" r="1.16"/><circle cx="210.1" cy="305.0" r="0.66"/><circle cx="208.2" cy="327.5" r="0.58"/><circle cx="218.6" cy="294.8" r="0.60"/><circle cx="222.5" cy="315.4" r="0.71"/><circle cx="223.1" cy="289.7" r="0.58"/><circle cx="200.6" cy="308.6" r="1.07"/><circle cx="223.6" cy="321.5" r="1.23"/><circle cx="212.9" cy="327.4" r="0.70"/><circle cx="221.6" cy="293.7" r="0.53"/><circle cx="232.0" cy="312.1" r="0.97"/><circle cx="227.4" cy="313.4" r="0.81"/><circle cx="203.9" cy="289.3" r="0.93"/><circle cx="210.4" cy="303.5" r="1.10"/><circle cx="222.9" cy="302.5" r="1.28"/><circle cx="209.6" cy="332.7" r="1.22"/><circle cx="224.7" cy="302.1" r="0.72"/><circle cx="190.3" cy="293.9" r="0.65"/><circle cx="225.9" cy="287.2" r="0.75"/><circle cx="215.1" cy="334.0" r="1.17"/><circle cx="211.6" cy="302.7" r="0.82"/><circle cx="184.5" cy="311.6" r="1.26"/><circle cx="197.4" cy="329.9" r="1.23"/><circle cx="212.7" cy="308.9" r="1.11"/><circle cx="224.4" cy="315.1" r="1.28"/><circle cx="207.0" cy="337.7" r="1.05"/><circle cx="205.6" cy="310.5" r="0.81"/><circle cx="189.6" cy="324.4" r="1.16"/><circle cx="226.8" cy="302.1" r="1.30"/><circle cx="213.0" cy="284.4" r="0.62"/><circle cx="225.0" cy="310.3" r="0.84"/><circle cx="207.1" cy="302.3" r="0.64"/><circle cx="204.7" cy="312.8" r="0.80"/><circle cx="233.1" cy="295.0" r="0.66"/><circle cx="235.8" cy="297.8" r="0.52"/><circle cx="201.4" cy="297.4" r="0.79"/><circle cx="209.7" cy="314.2" r="0.74"/><circle cx="190.4" cy="317.8" r="1.24"/><circle cx="205.7" cy="330.6" r="1.16"/><circle cx="222.7" cy="323.4" r="0.90"/><circle cx="219.7" cy="313.8" r="0.77"/><circle cx="195.0" cy="325.1" r="0.70"/><circle cx="234.8" cy="318.5" r="0.95"/><circle cx="185.9" cy="311.7" r="0.53"/><circle cx="211.2" cy="326.1" r="0.50"/><circle cx="201.2" cy="313.2" r="0.67"/><circle cx="217.5" cy="285.8" r="0.73"/><circle cx="238.3" cy="319.3" r="0.81"/><circle cx="233.8" cy="320.1" r="0.83"/><circle cx="227.8" cy="298.7" r="0.58"/><circle cx="198.2" cy="304.8" r="0.59"/><circle cx="227.4" cy="324.4" r="0.57"/><circle cx="227.1" cy="302.3" r="1.01"/><circle cx="206.9" cy="334.4" r="0.70"/><circle cx="188.0" cy="315.3" r="0.98"/><circle cx="210.8" cy="301.9" r="1.30"/><circle cx="219.7" cy="319.3" r="0.57"/><circle cx="199.4" cy="295.8" r="1.20"/><circle cx="188.2" cy="324.9" r="0.60"/><circle cx="193.2" cy="294.4" r="0.63"/><circle cx="195.1" cy="325.7" r="0.68"/><circle cx="211.6" cy="313.6" r="1.03"/><circle cx="236.7" cy="314.7" r="1.11"/><circle cx="193.7" cy="292.9" r="0.99"/><circle cx="225.8" cy="320.8" r="0.57"/><circle cx="212.3" cy="312.4" r="0.84"/></g><g fill="#6e6e6e" ><circle cx="194.7" cy="294.0" r="1.14"/><circle cx="226.1" cy="316.9" r="0.98"/><circle cx="204.2" cy="328.6" r="1.06"/><circle cx="230.9" cy="326.0" r="1.14"/><circle cx="215.4" cy="306.7" r="1.26"/><circle cx="215.4" cy="317.8" r="0.62"/><circle cx="200.7" cy="318.4" r="0.98"/><circle cx="237.2" cy="320.0" r="0.53"/><circle cx="203.2" cy="316.9" r="0.80"/><circle cx="196.0" cy="329.8" r="1.12"/><circle cx="187.5" cy="313.0" r="1.05"/><circle cx="209.4" cy="309.3" r="0.94"/><circle cx="221.2" cy="290.2" r="1.14"/><circle cx="194.4" cy="293.5" r="1.01"/><circle cx="213.8" cy="315.8" r="0.87"/><circle cx="199.8" cy="319.1" r="0.83"/><circle cx="196.3" cy="306.2" r="0.96"/><circle cx="236.5" cy="304.2" r="0.84"/><circle cx="225.6" cy="327.6" r="0.95"/><circle cx="198.4" cy="318.8" r="1.29"/><circle cx="205.4" cy="334.7" r="1.16"/><circle cx="206.1" cy="331.8" r="0.88"/><circle cx="230.0" cy="327.3" r="0.74"/><circle cx="211.3" cy="289.3" r="0.53"/><circle cx="206.2" cy="289.3" r="0.89"/><circle cx="215.5" cy="304.5" r="1.17"/><circle cx="217.1" cy="284.6" r="0.61"/><circle cx="214.8" cy="304.0" r="0.68"/><circle cx="235.4" cy="310.6" r="0.54"/><circle cx="207.8" cy="306.7" r="0.59"/><circle cx="206.5" cy="316.0" r="0.55"/><circle cx="190.5" cy="299.8" r="1.20"/><circle cx="196.2" cy="299.3" r="1.25"/><circle cx="213.4" cy="306.2" r="1.08"/><circle cx="206.5" cy="298.8" r="0.59"/><circle cx="234.5" cy="306.9" r="1.16"/><circle cx="205.1" cy="316.1" r="0.53"/><circle cx="192.2" cy="328.1" r="0.62"/><circle cx="211.6" cy="325.5" r="0.63"/><circle cx="208.9" cy="324.0" r="0.89"/><circle cx="225.3" cy="312.9" r="0.56"/><circle cx="204.7" cy="328.5" r="0.73"/><circle cx="232.1" cy="309.5" r="0.78"/><circle cx="185.0" cy="312.3" r="0.54"/><circle cx="223.7" cy="308.7" r="0.91"/><circle cx="195.3" cy="322.6" r="0.57"/><circle cx="208.4" cy="319.3" r="0.93"/><circle cx="205.4" cy="328.3" r="1.16"/><circle cx="212.3" cy="318.9" r="0.84"/><circle cx="199.7" cy="304.3" r="0.55"/><circle cx="221.2" cy="290.1" r="1.26"/><circle cx="208.8" cy="287.6" r="0.71"/><circle cx="229.4" cy="289.8" r="0.99"/><circle cx="219.1" cy="294.1" r="0.54"/><circle cx="185.9" cy="313.8" r="0.81"/><circle cx="215.2" cy="325.2" r="0.66"/><circle cx="196.5" cy="304.4" r="1.10"/><circle cx="201.6" cy="331.5" r="1.19"/><circle cx="188.8" cy="314.3" r="0.82"/><circle cx="237.1" cy="308.0" r="1.24"/><circle cx="217.1" cy="294.7" r="0.97"/><circle cx="202.2" cy="287.1" r="1.09"/><circle cx="233.6" cy="295.0" r="0.99"/><circle cx="205.0" cy="316.8" r="1.05"/><circle cx="189.6" cy="303.0" r="0.80"/><circle cx="223.0" cy="330.1" r="1.11"/><circle cx="213.1" cy="317.7" r="0.95"/><circle cx="193.3" cy="298.2" r="1.05"/><circle cx="205.2" cy="304.8" r="1.11"/><circle cx="192.6" cy="291.3" r="0.58"/><circle cx="233.9" cy="321.5" r="1.08"/><circle cx="209.3" cy="320.0" r="0.88"/><circle cx="205.8" cy="310.0" r="0.84"/><circle cx="210.9" cy="319.4" r="0.88"/><circle cx="232.5" cy="308.8" r="0.81"/><circle cx="219.8" cy="307.4" r="0.78"/><circle cx="209.7" cy="313.5" r="0.70"/><circle cx="230.4" cy="297.9" r="1.01"/><circle cx="209.5" cy="329.8" r="0.73"/><circle cx="212.4" cy="293.7" r="1.12"/><circle cx="223.6" cy="327.3" r="1.28"/><circle cx="189.0" cy="304.1" r="0.61"/><circle cx="192.8" cy="294.8" r="0.54"/><circle cx="198.0" cy="325.6" r="1.07"/><circle cx="208.3" cy="321.6" r="1.25"/><circle cx="194.8" cy="307.7" r="1.24"/><circle cx="209.8" cy="336.9" r="0.85"/><circle cx="217.8" cy="311.2" r="1.16"/><circle cx="203.9" cy="305.7" r="1.08"/><circle cx="220.9" cy="307.9" r="0.55"/><circle cx="190.1" cy="316.4" r="1.21"/><circle cx="210.7" cy="303.5" r="1.01"/><circle cx="209.7" cy="337.9" r="0.66"/><circle cx="216.7" cy="320.1" r="0.89"/><circle cx="196.4" cy="292.8" r="0.71"/><circle cx="198.5" cy="319.5" r="0.58"/><circle cx="216.8" cy="305.7" r="0.74"/><circle cx="203.2" cy="312.7" r="1.11"/><circle cx="220.4" cy="320.2" r="1.06"/><circle cx="193.1" cy="306.5" r="0.60"/><circle cx="213.9" cy="336.2" r="1.02"/><circle cx="196.9" cy="326.3" r="1.11"/><circle cx="210.3" cy="336.4" r="0.62"/><circle cx="206.5" cy="285.6" r="0.99"/><circle cx="238.1" cy="314.1" r="1.29"/><circle cx="214.2" cy="317.7" r="0.77"/></g><g fill="#888" ><circle cx="230.8" cy="314.3" r="1.25"/><circle cx="196.2" cy="289.4" r="0.59"/><circle cx="207.1" cy="337.1" r="1.11"/><circle cx="238.0" cy="307.9" r="0.73"/><circle cx="232.0" cy="305.9" r="1.04"/><circle cx="237.9" cy="305.3" r="0.74"/><circle cx="235.0" cy="311.3" r="0.77"/><circle cx="216.0" cy="294.3" r="0.96"/><circle cx="218.0" cy="311.1" r="0.64"/><circle cx="223.9" cy="307.4" r="1.10"/><circle cx="238.5" cy="319.2" r="0.93"/><circle cx="227.2" cy="331.5" r="0.74"/><circle cx="209.5" cy="291.6" r="0.73"/><circle cx="195.7" cy="310.9" r="0.57"/><circle cx="204.6" cy="337.0" r="1.02"/><circle cx="211.9" cy="333.7" r="0.87"/><circle cx="199.0" cy="329.2" r="1.09"/><circle cx="227.9" cy="293.9" r="1.28"/><circle cx="231.4" cy="305.4" r="0.92"/><circle cx="224.9" cy="332.9" r="1.25"/><circle cx="192.0" cy="299.7" r="0.84"/><circle cx="203.3" cy="290.3" r="0.53"/><circle cx="231.1" cy="327.7" r="0.80"/><circle cx="198.9" cy="323.7" r="0.68"/><circle cx="204.9" cy="337.5" r="0.80"/><circle cx="210.3" cy="338.5" r="0.90"/><circle cx="227.9" cy="326.1" r="0.85"/><circle cx="232.4" cy="312.5" r="0.72"/><circle cx="193.3" cy="307.2" r="0.79"/><circle cx="211.7" cy="329.7" r="1.23"/><circle cx="226.8" cy="301.6" r="0.81"/><circle cx="206.7" cy="320.4" r="0.97"/><circle cx="235.5" cy="314.6" r="1.28"/><circle cx="234.6" cy="303.8" r="0.61"/><circle cx="224.2" cy="324.5" r="0.75"/><circle cx="225.0" cy="328.9" r="0.90"/><circle cx="229.6" cy="299.7" r="1.00"/><circle cx="212.1" cy="290.7" r="0.61"/><circle cx="213.7" cy="327.8" r="1.09"/><circle cx="225.9" cy="297.2" r="0.76"/><circle cx="226.1" cy="327.8" r="0.78"/><circle cx="188.4" cy="321.3" r="0.91"/><circle cx="238.4" cy="316.2" r="0.80"/><circle cx="204.6" cy="297.6" r="1.04"/><circle cx="210.5" cy="299.6" r="0.66"/><circle cx="209.4" cy="287.2" r="0.63"/><circle cx="213.4" cy="333.7" r="1.25"/><circle cx="200.8" cy="296.2" r="1.28"/><circle cx="218.2" cy="315.0" r="1.22"/><circle cx="209.8" cy="316.8" r="0.53"/><circle cx="212.8" cy="314.4" r="0.93"/><circle cx="190.9" cy="312.6" r="0.80"/><circle cx="195.1" cy="293.9" r="1.23"/><circle cx="208.1" cy="320.1" r="0.57"/><circle cx="198.2" cy="318.3" r="1.10"/><circle cx="213.3" cy="289.6" r="0.85"/><circle cx="205.3" cy="297.4" r="0.55"/><circle cx="213.8" cy="290.0" r="0.52"/><circle cx="214.2" cy="329.0" r="0.79"/><circle cx="186.4" cy="319.8" r="1.14"/><circle cx="194.1" cy="315.3" r="0.85"/><circle cx="216.3" cy="318.5" r="1.07"/><circle cx="194.1" cy="293.3" r="0.80"/><circle cx="203.3" cy="292.5" r="0.73"/><circle cx="221.8" cy="302.4" r="0.74"/><circle cx="196.2" cy="319.9" r="0.92"/><circle cx="221.3" cy="312.6" r="0.95"/><circle cx="211.1" cy="303.9" r="0.89"/><circle cx="203.2" cy="312.1" r="0.65"/><circle cx="209.8" cy="285.6" r="1.14"/><circle cx="198.6" cy="324.3" r="1.04"/><circle cx="200.9" cy="321.0" r="0.90"/><circle cx="213.7" cy="333.6" r="0.56"/><circle cx="195.3" cy="315.3" r="0.91"/><circle cx="215.5" cy="293.0" r="1.28"/><circle cx="203.6" cy="304.8" r="0.69"/><circle cx="219.3" cy="327.6" r="0.71"/><circle cx="190.9" cy="313.8" r="1.27"/><circle cx="188.6" cy="313.6" r="0.51"/><circle cx="237.2" cy="300.3" r="1.29"/><circle cx="228.6" cy="319.6" r="1.09"/><circle cx="200.3" cy="305.7" r="0.86"/><circle cx="210.1" cy="336.2" r="1.00"/><circle cx="195.2" cy="296.7" r="0.68"/><circle cx="226.1" cy="319.6" r="0.56"/><circle cx="192.3" cy="320.8" r="1.02"/><circle cx="221.1" cy="305.2" r="0.71"/><circle cx="191.5" cy="311.6" r="1.22"/><circle cx="190.6" cy="303.0" r="0.84"/><circle cx="223.1" cy="319.7" r="0.79"/><circle cx="223.1" cy="301.6" r="1.00"/><circle cx="214.0" cy="294.7" r="0.58"/><circle cx="223.6" cy="335.4" r="1.13"/><circle cx="200.5" cy="317.5" r="0.52"/><circle cx="232.6" cy="309.1" r="0.85"/><circle cx="209.1" cy="331.4" r="1.28"/><circle cx="200.5" cy="316.4" r="0.91"/><circle cx="225.9" cy="303.0" r="1.15"/><circle cx="201.7" cy="308.9" r="0.54"/><circle cx="229.7" cy="303.7" r="0.85"/><circle cx="230.4" cy="300.3" r="0.90"/><circle cx="199.7" cy="304.0" r="0.79"/><circle cx="234.5" cy="318.5" r="0.60"/><circle cx="219.3" cy="303.7" r="0.84"/><circle cx="224.0" cy="291.2" r="0.77"/><circle cx="209.7" cy="291.0" r="1.07"/><circle cx="220.1" cy="337.2" r="1.18"/><circle cx="190.9" cy="299.0" r="0.90"/><circle cx="197.8" cy="317.0" r="1.09"/><circle cx="226.9" cy="322.5" r="0.85"/></g></g><circle cx="212" cy="310.8" r="29.3" fill="none" stroke="#444" stroke-width="1.2" filter="url(#bl)"/></g><g clip-path="url(#c1)"><rect x="252.2" y="276.0" width="211.6" height="189.4" fill="url(#g1)"/><rect x="252.2" y="276.0" width="1.6" height="189.4" fill="#5a5a5a" opacity="0.8"/><g fill="#5a5a5a" opacity="0.4" filter="url(#bl3)"><circle cx="354.1" cy="365.2" r="8.13"/><circle cx="392.5" cy="452.2" r="7.54"/><circle cx="365.3" cy="389.6" r="6.14"/><circle cx="432.3" cy="377.7" r="6.75"/><circle cx="427.0" cy="359.5" r="6.13"/><circle cx="292.0" cy="430.1" r="9.90"/><circle cx="342.3" cy="403.5" r="6.70"/><circle cx="325.8" cy="316.9" r="8.07"/><circle cx="390.6" cy="370.7" r="7.68"/><circle cx="379.7" cy="465.5" r="6.76"/><circle cx="377.7" cy="335.9" r="5.29"/><circle cx="323.1" cy="415.2" r="6.04"/><circle cx="302.4" cy="425.0" r="6.14"/><circle cx="391.8" cy="304.9" r="6.63"/><circle cx="312.6" cy="341.4" r="9.80"/><circle cx="367.8" cy="370.6" r="8.00"/><circle cx="422.3" cy="423.1" r="9.12"/><circle cx="326.9" cy="357.4" r="8.91"/><circle cx="340.5" cy="325.5" r="8.15"/><circle cx="443.2" cy="406.6" r="7.98"/><circle cx="412.6" cy="447.0" r="5.31"/><circle cx="316.1" cy="325.1" r="7.68"/><circle cx="383.7" cy="379.2" r="9.45"/><circle cx="391.7" cy="390.9" r="7.60"/><circle cx="305.1" cy="334.4" r="7.71"/><circle cx="407.8" cy="441.1" r="9.59"/><circle cx="307.7" cy="452.2" r="7.01"/><circle cx="432.0" cy="409.7" r="5.83"/><circle cx="351.5" cy="439.2" r="5.63"/><circle cx="442.3" cy="439.8" r="9.76"/><circle cx="391.3" cy="429.2" r="9.98"/><circle cx="330.1" cy="330.2" r="5.19"/><circle cx="406.3" cy="355.9" r="7.56"/><circle cx="287.1" cy="399.8" r="7.02"/><circle cx="368.6" cy="441.1" r="6.04"/><circle cx="343.2" cy="426.9" r="5.93"/><circle cx="412.2" cy="403.0" r="6.00"/><circle cx="279.7" cy="370.6" r="10.00"/><circle cx="354.4" cy="414.0" r="9.62"/><circle cx="464.8" cy="390.4" r="9.89"/><circle cx="329.5" cy="443.8" r="6.01"/><circle cx="370.7" cy="313.9" r="8.67"/><circle cx="388.8" cy="413.8" r="9.24"/><circle cx="342.3" cy="464.9" r="6.55"/><circle cx="357.6" cy="396.7" r="9.62"/><circle cx="397.5" cy="466.3" r="8.25"/><circle cx="346.3" cy="331.3" r="8.17"/><circle cx="430.8" cy="436.3" r="6.57"/><circle cx="454.1" cy="403.7" r="5.32"/><circle cx="391.0" cy="317.3" r="5.72"/><circle cx="310.5" cy="423.3" r="8.20"/><circle cx="320.0" cy="457.8" r="6.78"/><circle cx="301.9" cy="436.6" r="9.54"/><circle cx="440.0" cy="356.7" r="8.67"/><circle cx="324.3" cy="392.3" r="9.39"/></g><g fill="#444" opacity="0.55" filter="url(#bl)"><circle cx="314.8" cy="379.7" r="0.47"/><circle cx="459.2" cy="356.5" r="0.53"/><circle cx="434.2" cy="395.4" r="0.67"/><circle cx="357.8" cy="377.6" r="0.44"/><circle cx="409.4" cy="404.5" r="0.82"/><circle cx="252.3" cy="403.8" r="0.51"/><circle cx="380.5" cy="310.5" r="0.65"/><circle cx="387.1" cy="323.0" r="0.53"/><circle cx="363.7" cy="421.8" r="0.45"/><circle cx="327.9" cy="288.0" r="0.38"/><circle cx="313.8" cy="414.4" r="0.61"/><circle cx="350.9" cy="287.7" r="0.75"/><circle cx="452.3" cy="406.5" r="0.84"/><circle cx="407.1" cy="354.9" r="0.52"/><circle cx="270.3" cy="444.7" r="0.39"/><circle cx="384.1" cy="344.8" r="0.59"/><circle cx="275.3" cy="464.9" r="0.83"/><circle cx="332.0" cy="335.6" r="0.79"/><circle cx="363.4" cy="443.9" r="0.44"/><circle cx="312.4" cy="325.2" r="0.77"/><circle cx="435.0" cy="455.6" r="0.68"/><circle cx="315.3" cy="416.9" r="0.40"/><circle cx="337.1" cy="413.3" r="0.41"/><circle cx="366.4" cy="369.1" r="0.78"/><circle cx="350.8" cy="320.0" r="0.54"/><circle cx="286.4" cy="350.3" r="0.58"/><circle cx="303.8" cy="449.6" r="0.77"/><circle cx="290.9" cy="276.4" r="0.78"/><circle cx="264.1" cy="382.9" r="0.59"/><circle cx="281.9" cy="458.4" r="0.45"/><circle cx="463.5" cy="443.0" r="0.69"/><circle cx="297.9" cy="358.0" r="0.66"/><circle cx="366.4" cy="326.0" r="0.66"/><circle cx="327.6" cy="421.1" r="0.80"/><circle cx="350.1" cy="368.5" r="0.48"/><circle cx="371.7" cy="400.1" r="0.72"/><circle cx="346.6" cy="386.1" r="0.50"/><circle cx="293.8" cy="311.4" r="0.84"/><circle cx="306.6" cy="378.2" r="0.83"/><circle cx="273.1" cy="293.4" r="0.61"/><circle cx="293.1" cy="399.0" r="0.37"/><circle cx="418.2" cy="452.4" r="0.81"/><circle cx="390.0" cy="414.4" r="0.81"/><circle cx="346.6" cy="324.7" r="0.74"/><circle cx="438.8" cy="388.4" r="0.76"/><circle cx="331.9" cy="425.1" r="0.35"/><circle cx="303.1" cy="282.4" r="0.37"/><circle cx="260.3" cy="345.9" r="0.82"/><circle cx="356.3" cy="448.9" r="0.55"/><circle cx="312.7" cy="436.2" r="0.47"/><circle cx="416.7" cy="374.9" r="0.40"/><circle cx="263.3" cy="282.3" r="0.50"/><circle cx="295.5" cy="330.2" r="0.53"/><circle cx="333.2" cy="424.5" r="0.47"/><circle cx="366.3" cy="418.2" r="0.62"/><circle cx="272.8" cy="329.8" r="0.49"/><circle cx="317.2" cy="290.3" r="0.43"/><circle cx="283.7" cy="354.7" r="0.40"/><circle cx="409.5" cy="373.9" r="0.41"/><circle cx="433.1" cy="392.2" r="0.70"/><circle cx="452.3" cy="417.1" r="0.79"/><circle cx="389.6" cy="313.8" r="0.38"/><circle cx="303.6" cy="282.4" r="0.55"/><circle cx="408.2" cy="422.4" r="0.35"/><circle cx="322.5" cy="386.1" r="0.48"/><circle cx="347.1" cy="295.3" r="0.71"/><circle cx="253.2" cy="449.5" r="0.59"/><circle cx="264.3" cy="438.8" r="0.82"/><circle cx="370.1" cy="437.6" r="0.65"/><circle cx="293.2" cy="279.8" r="0.66"/><circle cx="254.4" cy="373.8" r="0.71"/><circle cx="291.7" cy="439.3" r="0.73"/><circle cx="304.4" cy="411.3" r="0.36"/><circle cx="403.7" cy="414.5" r="0.62"/><circle cx="374.8" cy="332.5" r="0.53"/><circle cx="447.9" cy="436.7" r="0.46"/><circle cx="411.8" cy="407.4" r="0.65"/><circle cx="311.9" cy="464.6" r="0.68"/><circle cx="395.6" cy="460.3" r="0.47"/><circle cx="382.7" cy="300.1" r="0.39"/><circle cx="312.2" cy="351.9" r="0.85"/><circle cx="330.9" cy="430.1" r="0.79"/><circle cx="350.1" cy="403.5" r="0.83"/><circle cx="354.6" cy="337.9" r="0.43"/><circle cx="289.4" cy="324.8" r="0.82"/><circle cx="454.0" cy="397.5" r="0.68"/><circle cx="326.2" cy="278.4" r="0.37"/><circle cx="321.8" cy="297.3" r="0.50"/><circle cx="422.2" cy="350.1" r="0.35"/><circle cx="458.8" cy="378.0" r="0.53"/><circle cx="414.3" cy="363.4" r="0.60"/><circle cx="308.2" cy="395.6" r="0.43"/><circle cx="357.4" cy="438.2" r="0.52"/><circle cx="420.3" cy="459.7" r="0.60"/><circle cx="336.5" cy="281.4" r="0.70"/><circle cx="254.3" cy="326.1" r="0.40"/><circle cx="449.4" cy="397.4" r="0.36"/><circle cx="276.3" cy="398.6" r="0.66"/><circle cx="325.7" cy="404.0" r="0.52"/><circle cx="446.4" cy="378.6" r="0.79"/><circle cx="310.1" cy="432.4" r="0.68"/><circle cx="266.0" cy="283.8" r="0.61"/><circle cx="376.4" cy="294.9" r="0.62"/><circle cx="363.7" cy="331.6" r="0.53"/><circle cx="377.8" cy="456.6" r="0.51"/><circle cx="304.8" cy="388.9" r="0.46"/><circle cx="341.8" cy="348.3" r="0.84"/><circle cx="426.0" cy="439.4" r="0.45"/><circle cx="333.4" cy="289.3" r="0.47"/><circle cx="388.2" cy="413.5" r="0.44"/><circle cx="360.4" cy="413.2" r="0.81"/><circle cx="322.5" cy="372.6" r="0.55"/><circle cx="285.0" cy="387.3" r="0.42"/><circle cx="345.4" cy="383.9" r="0.52"/><circle cx="256.0" cy="405.0" r="0.67"/><circle cx="316.8" cy="414.2" r="0.43"/><circle cx="454.7" cy="460.0" r="0.59"/><circle cx="314.9" cy="395.0" r="0.69"/><circle cx="297.8" cy="343.7" r="0.85"/><circle cx="361.4" cy="366.2" r="0.69"/><circle cx="284.6" cy="364.6" r="0.56"/><circle cx="335.1" cy="390.9" r="0.54"/><circle cx="262.2" cy="337.0" r="0.77"/><circle cx="357.0" cy="282.8" r="0.48"/><circle cx="345.7" cy="337.7" r="0.51"/><circle cx="352.4" cy="391.9" r="0.58"/><circle cx="417.5" cy="456.4" r="0.78"/><circle cx="370.4" cy="345.2" r="0.83"/><circle cx="253.3" cy="376.4" r="0.41"/><circle cx="377.0" cy="449.7" r="0.72"/><circle cx="274.5" cy="289.6" r="0.66"/><circle cx="298.3" cy="342.1" r="0.47"/><circle cx="422.7" cy="379.9" r="0.37"/><circle cx="386.8" cy="344.5" r="0.70"/><circle cx="335.7" cy="448.1" r="0.73"/><circle cx="437.5" cy="382.3" r="0.77"/><circle cx="290.9" cy="423.4" r="0.72"/><circle cx="390.9" cy="456.1" r="0.47"/><circle cx="446.0" cy="390.5" r="0.54"/><circle cx="319.6" cy="419.5" r="0.85"/><circle cx="283.4" cy="343.2" r="0.72"/><circle cx="335.1" cy="320.0" r="0.74"/><circle cx="360.4" cy="388.5" r="0.37"/><circle cx="333.0" cy="276.2" r="0.73"/><circle cx="302.7" cy="391.9" r="0.39"/><circle cx="368.3" cy="389.9" r="0.74"/><circle cx="440.5" cy="392.9" r="0.78"/><circle cx="265.3" cy="401.7" r="0.47"/><circle cx="375.1" cy="368.4" r="0.52"/><circle cx="309.4" cy="415.9" r="0.83"/><circle cx="287.5" cy="430.2" r="0.73"/><circle cx="331.8" cy="428.9" r="0.83"/><circle cx="416.7" cy="388.1" r="0.77"/><circle cx="450.8" cy="424.7" r="0.38"/><circle cx="280.1" cy="403.8" r="0.45"/><circle cx="428.7" cy="405.8" r="0.60"/><circle cx="372.1" cy="319.1" r="0.46"/><circle cx="318.7" cy="463.3" r="0.59"/><circle cx="456.9" cy="451.4" r="0.45"/><circle cx="299.3" cy="305.4" r="0.48"/><circle cx="433.0" cy="361.4" r="0.46"/><circle cx="352.7" cy="446.9" r="0.64"/><circle cx="314.7" cy="385.0" r="0.67"/><circle cx="324.7" cy="303.1" r="0.65"/><circle cx="333.7" cy="407.7" r="0.56"/><circle cx="420.3" cy="430.5" r="0.55"/><circle cx="361.3" cy="449.0" r="0.84"/><circle cx="379.3" cy="277.2" r="0.82"/><circle cx="333.0" cy="398.6" r="0.37"/><circle cx="305.7" cy="404.2" r="0.73"/><circle cx="348.1" cy="419.0" r="0.76"/><circle cx="336.3" cy="353.4" r="0.69"/><circle cx="298.5" cy="393.9" r="0.43"/><circle cx="352.4" cy="465.4" r="0.42"/><circle cx="314.7" cy="393.4" r="0.68"/><circle cx="321.3" cy="359.5" r="0.81"/><circle cx="457.3" cy="429.2" r="0.64"/><circle cx="273.8" cy="459.7" r="0.77"/><circle cx="356.8" cy="455.1" r="0.76"/><circle cx="358.8" cy="277.6" r="0.67"/><circle cx="307.7" cy="311.8" r="0.77"/><circle cx="429.5" cy="368.5" r="0.59"/><circle cx="287.8" cy="381.5" r="0.47"/><circle cx="294.3" cy="419.5" r="0.41"/><circle cx="317.3" cy="415.5" r="0.43"/><circle cx="343.1" cy="279.9" r="0.48"/><circle cx="441.1" cy="354.5" r="0.73"/><circle cx="262.1" cy="331.4" r="0.41"/><circle cx="365.2" cy="459.3" r="0.54"/><circle cx="257.6" cy="339.0" r="0.46"/><circle cx="301.0" cy="363.6" r="0.62"/><circle cx="416.0" cy="366.6" r="0.58"/><circle cx="434.0" cy="364.0" r="0.76"/><circle cx="297.7" cy="340.8" r="0.40"/><circle cx="350.1" cy="425.6" r="0.59"/><circle cx="376.3" cy="338.8" r="0.38"/><circle cx="281.4" cy="426.4" r="0.65"/><circle cx="261.0" cy="438.1" r="0.50"/><circle cx="427.0" cy="426.9" r="0.60"/><circle cx="314.0" cy="382.7" r="0.55"/><circle cx="415.3" cy="381.8" r="0.51"/><circle cx="361.2" cy="291.5" r="0.44"/><circle cx="376.4" cy="339.8" r="0.61"/><circle cx="441.3" cy="411.0" r="0.68"/><circle cx="264.7" cy="402.5" r="0.75"/><circle cx="379.9" cy="326.8" r="0.40"/><circle cx="383.8" cy="382.0" r="0.84"/><circle cx="314.1" cy="317.6" r="0.55"/><circle cx="459.5" cy="411.4" r="0.50"/><circle cx="276.8" cy="391.8" r="0.57"/><circle cx="420.0" cy="382.9" r="0.56"/><circle cx="353.5" cy="309.8" r="0.44"/><circle cx="311.1" cy="423.0" r="0.81"/><circle cx="362.3" cy="304.9" r="0.36"/><circle cx="345.7" cy="392.4" r="0.72"/><circle cx="375.4" cy="430.9" r="0.83"/><circle cx="366.2" cy="443.0" r="0.54"/><circle cx="332.8" cy="293.1" r="0.80"/><circle cx="447.3" cy="398.0" r="0.47"/><circle cx="279.9" cy="300.9" r="0.69"/><circle cx="256.5" cy="400.9" r="0.72"/><circle cx="351.1" cy="424.1" r="0.38"/><circle cx="338.7" cy="278.4" r="0.79"/><circle cx="336.9" cy="293.0" r="0.56"/><circle cx="341.9" cy="310.0" r="0.42"/><circle cx="275.9" cy="418.8" r="0.80"/><circle cx="315.4" cy="338.8" r="0.85"/><circle cx="271.6" cy="360.1" r="0.57"/><circle cx="274.7" cy="366.9" r="0.37"/><circle cx="341.1" cy="459.2" r="0.66"/><circle cx="369.7" cy="343.9" r="0.56"/><circle cx="453.0" cy="444.2" r="0.85"/><circle cx="296.1" cy="279.3" r="0.45"/><circle cx="364.2" cy="339.8" r="0.77"/><circle cx="422.6" cy="352.2" r="0.54"/><circle cx="336.0" cy="335.6" r="0.61"/><circle cx="367.5" cy="434.2" r="0.79"/><circle cx="382.7" cy="457.8" r="0.84"/><circle cx="408.4" cy="435.5" r="0.70"/><circle cx="262.9" cy="458.5" r="0.63"/><circle cx="271.6" cy="436.1" r="0.43"/><circle cx="270.9" cy="300.2" r="0.50"/><circle cx="369.0" cy="432.6" r="0.45"/><circle cx="394.2" cy="441.5" r="0.59"/><circle cx="385.8" cy="389.0" r="0.42"/><circle cx="339.0" cy="356.0" r="0.56"/><circle cx="428.3" cy="408.4" r="0.40"/><circle cx="384.8" cy="306.4" r="0.50"/><circle cx="369.8" cy="349.1" r="0.82"/><circle cx="287.2" cy="278.0" r="0.56"/><circle cx="332.7" cy="390.0" r="0.50"/><circle cx="292.0" cy="343.1" r="0.66"/><circle cx="390.7" cy="343.5" r="0.71"/><circle cx="252.4" cy="340.0" r="0.74"/><circle cx="350.3" cy="282.7" r="0.40"/><circle cx="344.8" cy="329.9" r="0.48"/><circle cx="256.4" cy="366.8" r="0.70"/><circle cx="352.9" cy="440.5" r="0.80"/><circle cx="377.1" cy="411.4" r="0.66"/><circle cx="271.1" cy="428.5" r="0.50"/><circle cx="442.6" cy="393.2" r="0.69"/><circle cx="364.2" cy="447.3" r="0.61"/><circle cx="277.8" cy="336.8" r="0.79"/><circle cx="368.4" cy="343.9" r="0.63"/><circle cx="347.4" cy="281.4" r="0.78"/><circle cx="352.2" cy="388.7" r="0.79"/><circle cx="361.4" cy="440.8" r="0.43"/><circle cx="386.5" cy="321.5" r="0.40"/><circle cx="343.5" cy="414.6" r="0.77"/><circle cx="408.3" cy="389.5" r="0.46"/><circle cx="403.4" cy="383.6" r="0.65"/><circle cx="287.3" cy="460.8" r="0.72"/><circle cx="456.7" cy="360.4" r="0.43"/><circle cx="426.8" cy="418.1" r="0.75"/><circle cx="261.2" cy="410.2" r="0.83"/><circle cx="259.5" cy="408.0" r="0.59"/><circle cx="387.7" cy="399.4" r="0.85"/><circle cx="261.7" cy="370.2" r="0.49"/><circle cx="331.5" cy="440.8" r="0.78"/><circle cx="363.3" cy="435.7" r="0.40"/><circle cx="377.6" cy="378.4" r="0.46"/><circle cx="354.2" cy="453.8" r="0.36"/><circle cx="294.2" cy="314.2" r="0.64"/><circle cx="370.5" cy="339.7" r="0.83"/><circle cx="397.2" cy="461.7" r="0.66"/><circle cx="372.6" cy="428.3" r="0.42"/><circle cx="358.0" cy="347.9" r="0.39"/><circle cx="351.1" cy="379.9" r="0.44"/><circle cx="315.7" cy="342.7" r="0.45"/><circle cx="411.6" cy="410.3" r="0.51"/><circle cx="305.3" cy="319.0" r="0.61"/><circle cx="371.4" cy="452.0" r="0.43"/><circle cx="431.7" cy="403.8" r="0.68"/><circle cx="277.0" cy="338.6" r="0.64"/><circle cx="358.5" cy="279.9" r="0.81"/><circle cx="265.7" cy="298.2" r="0.53"/><circle cx="368.9" cy="415.4" r="0.61"/><circle cx="309.2" cy="402.5" r="0.66"/><circle cx="391.1" cy="317.5" r="0.46"/><circle cx="431.1" cy="348.2" r="0.45"/><circle cx="302.6" cy="320.5" r="0.85"/><circle cx="352.2" cy="390.9" r="0.37"/><circle cx="457.7" cy="392.2" r="0.40"/><circle cx="278.1" cy="439.0" r="0.41"/><circle cx="387.6" cy="297.4" r="0.83"/><circle cx="267.5" cy="305.1" r="0.53"/><circle cx="369.2" cy="301.4" r="0.48"/><circle cx="414.5" cy="358.5" r="0.63"/><circle cx="354.2" cy="411.8" r="0.39"/><circle cx="456.0" cy="447.8" r="0.70"/><circle cx="312.0" cy="345.0" r="0.53"/><circle cx="385.4" cy="403.5" r="0.72"/><circle cx="386.5" cy="407.3" r="0.50"/><circle cx="455.7" cy="463.5" r="0.57"/><circle cx="264.2" cy="315.1" r="0.64"/><circle cx="358.2" cy="396.8" r="0.77"/><circle cx="444.6" cy="426.2" r="0.61"/><circle cx="261.0" cy="290.7" r="0.55"/><circle cx="452.6" cy="399.0" r="0.53"/><circle cx="288.4" cy="390.4" r="0.43"/></g><g filter="url(#bump)"><g fill="#5e5e5e" stroke="#2e2e2e" stroke-width="1.1"><circle cx="411.3" cy="455.7" r="3.02"/><circle cx="292.5" cy="444.3" r="2.21"/><circle cx="318.2" cy="449.6" r="3.28"/><circle cx="358.7" cy="400.8" r="2.10"/><circle cx="331.8" cy="353.8" r="3.28"/><circle cx="371.4" cy="323.7" r="2.79"/><circle cx="363.5" cy="400.4" r="1.85"/><circle cx="454.9" cy="422.3" r="2.01"/><circle cx="393.9" cy="356.7" r="3.01"/><circle cx="452.4" cy="409.0" r="3.29"/><circle cx="384.8" cy="337.1" r="1.94"/><circle cx="278.0" cy="402.2" r="2.41"/><circle cx="309.1" cy="454.9" r="2.06"/><circle cx="325.8" cy="354.2" r="2.31"/><circle cx="428.5" cy="393.7" r="2.25"/><circle cx="381.8" cy="292.7" r="2.21"/><circle cx="382.6" cy="422.7" r="2.61"/><circle cx="343.0" cy="427.0" r="3.10"/><circle cx="319.8" cy="366.0" r="2.70"/><circle cx="307.7" cy="347.5" r="2.28"/><circle cx="308.0" cy="335.8" r="2.30"/><circle cx="406.3" cy="375.8" r="2.35"/><circle cx="385.2" cy="452.3" r="1.97"/><circle cx="460.2" cy="347.6" r="2.48"/><circle cx="279.6" cy="452.3" r="2.07"/><circle cx="313.3" cy="316.6" r="2.18"/><circle cx="296.5" cy="395.1" r="2.36"/><circle cx="454.2" cy="391.7" r="3.14"/><circle cx="458.2" cy="430.3" r="1.90"/><circle cx="360.3" cy="393.7" r="3.21"/><circle cx="387.9" cy="383.8" r="2.56"/><circle cx="327.4" cy="341.7" r="2.68"/><circle cx="428.1" cy="425.0" r="2.05"/><circle cx="341.7" cy="379.7" r="2.00"/><circle cx="407.4" cy="457.4" r="2.05"/><circle cx="396.0" cy="466.0" r="2.56"/><circle cx="354.4" cy="414.6" r="2.23"/><circle cx="426.1" cy="381.3" r="2.19"/><circle cx="352.1" cy="354.3" r="2.16"/><circle cx="259.3" cy="362.4" r="2.40"/><circle cx="324.1" cy="344.6" r="2.74"/><circle cx="416.2" cy="395.4" r="3.07"/><circle cx="327.5" cy="439.7" r="1.83"/><circle cx="436.1" cy="387.4" r="3.15"/><circle cx="374.0" cy="292.5" r="2.37"/><circle cx="367.7" cy="446.7" r="2.19"/><circle cx="368.5" cy="391.9" r="2.10"/><circle cx="374.8" cy="421.8" r="2.01"/><circle cx="361.5" cy="428.6" r="2.52"/><circle cx="371.3" cy="388.7" r="2.46"/><circle cx="401.4" cy="428.9" r="2.70"/><circle cx="344.0" cy="373.2" r="1.96"/><circle cx="297.7" cy="360.1" r="1.81"/><circle cx="377.5" cy="439.2" r="2.16"/><circle cx="316.0" cy="395.2" r="2.72"/><circle cx="325.4" cy="419.1" r="2.08"/><circle cx="298.2" cy="339.9" r="2.86"/><circle cx="355.6" cy="392.4" r="2.20"/><circle cx="382.0" cy="287.1" r="1.90"/><circle cx="336.3" cy="461.4" r="1.87"/><circle cx="308.0" cy="352.5" r="3.03"/><circle cx="382.6" cy="407.3" r="2.21"/><circle cx="362.0" cy="298.6" r="2.97"/><circle cx="422.1" cy="467.0" r="2.77"/><circle cx="412.6" cy="419.1" r="2.02"/><circle cx="307.1" cy="415.2" r="2.55"/><circle cx="375.9" cy="307.7" r="2.30"/><circle cx="304.5" cy="317.3" r="2.86"/><circle cx="429.2" cy="415.2" r="2.49"/><circle cx="448.5" cy="386.2" r="2.23"/><circle cx="400.9" cy="409.9" r="2.11"/><circle cx="417.6" cy="386.7" r="1.81"/><circle cx="353.0" cy="395.3" r="2.22"/><circle cx="456.9" cy="404.9" r="2.77"/><circle cx="313.2" cy="381.7" r="3.00"/><circle cx="280.9" cy="348.9" r="2.52"/><circle cx="452.5" cy="436.7" r="2.43"/><circle cx="374.6" cy="404.4" r="2.13"/><circle cx="265.4" cy="408.9" r="3.03"/><circle cx="348.9" cy="456.2" r="2.21"/><circle cx="331.5" cy="309.6" r="3.29"/><circle cx="287.9" cy="328.8" r="2.36"/><circle cx="431.7" cy="378.3" r="2.51"/><circle cx="322.3" cy="454.8" r="2.09"/><circle cx="389.4" cy="298.2" r="1.83"/><circle cx="355.5" cy="304.7" r="2.42"/><circle cx="366.3" cy="307.1" r="2.92"/><circle cx="287.3" cy="411.8" r="2.45"/><circle cx="281.9" cy="450.1" r="1.80"/><circle cx="353.7" cy="447.1" r="2.83"/><circle cx="271.6" cy="395.7" r="2.38"/><circle cx="388.1" cy="319.6" r="2.39"/><circle cx="415.3" cy="364.9" r="1.84"/><circle cx="415.6" cy="400.2" r="2.42"/><circle cx="291.3" cy="415.3" r="2.66"/><circle cx="383.1" cy="374.4" r="1.99"/><circle cx="357.7" cy="439.2" r="2.98"/><circle cx="309.5" cy="342.6" r="3.00"/><circle cx="390.7" cy="363.7" r="2.81"/><circle cx="363.8" cy="459.2" r="2.15"/><circle cx="333.2" cy="388.9" r="1.86"/><circle cx="432.3" cy="407.5" r="2.09"/><circle cx="333.7" cy="335.7" r="2.36"/><circle cx="390.9" cy="351.9" r="2.26"/><circle cx="346.0" cy="291.2" r="2.84"/></g><g fill="#6a6a6a" stroke="#2e2e2e" stroke-width="1.1"><circle cx="385.4" cy="314.3" r="2.62"/><circle cx="439.7" cy="442.5" r="2.30"/><circle cx="329.9" cy="281.6" r="3.13"/><circle cx="370.6" cy="397.1" r="3.23"/><circle cx="381.8" cy="400.7" r="3.13"/><circle cx="295.7" cy="460.8" r="3.28"/><circle cx="375.5" cy="386.3" r="1.86"/><circle cx="447.8" cy="451.2" r="2.65"/><circle cx="348.3" cy="313.6" r="1.86"/><circle cx="464.8" cy="413.5" r="2.51"/><circle cx="290.7" cy="321.8" r="3.27"/><circle cx="448.1" cy="420.8" r="2.57"/><circle cx="387.6" cy="402.0" r="2.51"/><circle cx="317.0" cy="344.2" r="2.10"/><circle cx="420.4" cy="383.7" r="2.23"/><circle cx="452.3" cy="454.6" r="1.92"/><circle cx="401.2" cy="364.0" r="2.90"/><circle cx="268.2" cy="381.6" r="2.42"/><circle cx="420.7" cy="415.8" r="2.81"/><circle cx="344.2" cy="398.0" r="2.63"/><circle cx="382.9" cy="387.1" r="3.09"/><circle cx="431.4" cy="367.6" r="2.35"/><circle cx="323.1" cy="392.7" r="2.96"/><circle cx="373.0" cy="283.3" r="2.69"/><circle cx="405.3" cy="410.3" r="1.93"/><circle cx="318.7" cy="324.6" r="2.92"/><circle cx="305.1" cy="423.9" r="3.17"/><circle cx="354.1" cy="408.5" r="2.86"/><circle cx="334.8" cy="289.4" r="2.38"/><circle cx="442.3" cy="427.7" r="2.02"/><circle cx="316.8" cy="424.1" r="1.81"/><circle cx="326.3" cy="319.0" r="2.55"/><circle cx="431.6" cy="433.1" r="2.20"/><circle cx="324.9" cy="286.9" r="3.26"/><circle cx="394.7" cy="375.5" r="1.82"/><circle cx="353.4" cy="428.7" r="2.15"/><circle cx="386.4" cy="325.4" r="2.69"/><circle cx="274.0" cy="350.6" r="3.03"/><circle cx="365.9" cy="385.4" r="3.23"/><circle cx="377.7" cy="434.4" r="2.50"/><circle cx="417.4" cy="406.5" r="2.40"/><circle cx="357.1" cy="297.2" r="2.39"/><circle cx="445.3" cy="397.1" r="2.27"/><circle cx="360.6" cy="415.4" r="2.20"/><circle cx="319.2" cy="358.4" r="3.00"/><circle cx="382.6" cy="449.0" r="2.37"/><circle cx="356.6" cy="378.4" r="2.82"/><circle cx="326.4" cy="453.9" r="2.32"/><circle cx="353.6" cy="436.0" r="2.03"/><circle cx="394.3" cy="430.3" r="2.29"/><circle cx="344.0" cy="394.0" r="2.12"/><circle cx="355.3" cy="342.9" r="2.34"/><circle cx="275.0" cy="392.1" r="1.84"/><circle cx="287.1" cy="380.3" r="3.11"/><circle cx="387.1" cy="300.6" r="1.91"/><circle cx="385.4" cy="379.3" r="2.38"/><circle cx="353.9" cy="373.0" r="3.10"/><circle cx="395.1" cy="416.2" r="1.84"/><circle cx="443.8" cy="389.9" r="2.25"/><circle cx="370.2" cy="462.3" r="2.39"/><circle cx="382.3" cy="430.3" r="2.61"/><circle cx="318.5" cy="434.7" r="3.05"/><circle cx="388.5" cy="461.3" r="2.32"/><circle cx="439.9" cy="416.6" r="3.26"/><circle cx="276.0" cy="341.8" r="3.20"/><circle cx="323.2" cy="301.0" r="3.03"/><circle cx="346.5" cy="327.8" r="2.16"/><circle cx="424.5" cy="372.8" r="2.78"/><circle cx="335.4" cy="375.5" r="3.21"/><circle cx="333.1" cy="465.3" r="2.52"/><circle cx="447.8" cy="351.8" r="2.72"/><circle cx="368.8" cy="365.3" r="3.20"/><circle cx="436.0" cy="406.2" r="2.17"/><circle cx="283.9" cy="335.4" r="2.67"/><circle cx="404.0" cy="462.3" r="2.91"/><circle cx="283.6" cy="389.2" r="2.96"/><circle cx="286.2" cy="396.3" r="2.93"/><circle cx="365.5" cy="433.2" r="2.97"/><circle cx="376.7" cy="330.7" r="2.45"/><circle cx="316.5" cy="295.3" r="2.01"/><circle cx="321.3" cy="427.9" r="2.97"/><circle cx="400.3" cy="434.6" r="3.14"/><circle cx="359.8" cy="405.8" r="2.94"/><circle cx="371.1" cy="411.7" r="2.95"/><circle cx="333.8" cy="452.5" r="2.07"/><circle cx="392.6" cy="424.9" r="3.06"/><circle cx="339.6" cy="420.7" r="2.30"/><circle cx="299.2" cy="455.2" r="2.40"/><circle cx="329.8" cy="332.2" r="2.93"/><circle cx="312.6" cy="413.7" r="3.26"/><circle cx="263.3" cy="366.5" r="1.85"/><circle cx="301.2" cy="406.9" r="1.85"/><circle cx="336.8" cy="430.7" r="2.96"/><circle cx="351.1" cy="346.3" r="2.04"/></g><g fill="#767676" stroke="#2e2e2e" stroke-width="1.1"><circle cx="434.9" cy="420.9" r="2.09"/><circle cx="412.4" cy="378.0" r="1.96"/><circle cx="351.4" cy="332.8" r="2.84"/><circle cx="281.4" cy="324.3" r="2.88"/><circle cx="330.5" cy="380.8" r="3.29"/><circle cx="378.9" cy="284.6" r="2.61"/><circle cx="419.5" cy="369.8" r="3.14"/><circle cx="378.8" cy="376.9" r="1.86"/><circle cx="382.8" cy="395.8" r="2.33"/><circle cx="376.9" cy="349.9" r="2.68"/><circle cx="338.9" cy="347.3" r="3.27"/><circle cx="436.7" cy="357.1" r="2.33"/><circle cx="356.2" cy="363.9" r="2.27"/><circle cx="447.8" cy="374.9" r="2.73"/><circle cx="393.1" cy="412.7" r="2.67"/><circle cx="398.4" cy="376.2" r="2.56"/><circle cx="372.3" cy="359.3" r="2.64"/><circle cx="378.7" cy="324.7" r="1.88"/><circle cx="432.6" cy="460.3" r="2.86"/><circle cx="278.6" cy="447.2" r="2.42"/><circle cx="386.5" cy="331.5" r="1.87"/><circle cx="337.3" cy="457.1" r="3.21"/><circle cx="358.9" cy="433.4" r="2.27"/><circle cx="344.4" cy="309.8" r="2.70"/><circle cx="389.9" cy="447.9" r="2.77"/><circle cx="306.1" cy="406.1" r="1.92"/><circle cx="336.8" cy="387.9" r="2.01"/><circle cx="382.5" cy="368.2" r="3.04"/><circle cx="405.8" cy="350.1" r="2.64"/><circle cx="368.4" cy="351.1" r="3.03"/><circle cx="388.2" cy="374.1" r="2.28"/><circle cx="357.2" cy="386.7" r="3.07"/><circle cx="426.0" cy="458.6" r="2.07"/><circle cx="301.5" cy="402.8" r="3.00"/><circle cx="418.0" cy="448.1" r="2.24"/><circle cx="370.8" cy="443.6" r="2.41"/><circle cx="400.9" cy="416.2" r="2.13"/><circle cx="433.5" cy="349.9" r="2.95"/><circle cx="312.0" cy="298.3" r="3.28"/><circle cx="313.9" cy="421.2" r="2.58"/><circle cx="369.9" cy="289.2" r="2.28"/><circle cx="301.3" cy="351.9" r="2.19"/><circle cx="327.9" cy="465.7" r="2.07"/><circle cx="399.5" cy="382.8" r="2.76"/><circle cx="355.7" cy="352.4" r="2.84"/><circle cx="447.2" cy="429.2" r="2.11"/><circle cx="346.8" cy="337.6" r="2.79"/><circle cx="303.6" cy="369.5" r="2.35"/><circle cx="397.7" cy="443.2" r="3.10"/><circle cx="304.2" cy="436.9" r="2.42"/><circle cx="410.6" cy="463.8" r="2.94"/><circle cx="371.2" cy="406.1" r="1.96"/><circle cx="425.8" cy="406.2" r="2.52"/><circle cx="421.7" cy="362.8" r="2.86"/><circle cx="442.6" cy="351.4" r="2.49"/><circle cx="365.3" cy="320.2" r="1.95"/><circle cx="375.2" cy="382.5" r="2.26"/><circle cx="307.8" cy="372.7" r="2.92"/><circle cx="309.5" cy="439.8" r="1.82"/><circle cx="347.4" cy="378.2" r="2.71"/><circle cx="263.0" cy="345.6" r="2.07"/><circle cx="301.2" cy="432.1" r="2.97"/><circle cx="412.0" cy="423.5" r="2.38"/><circle cx="269.1" cy="364.1" r="2.77"/><circle cx="385.6" cy="426.6" r="3.02"/><circle cx="337.0" cy="331.2" r="2.16"/><circle cx="423.8" cy="352.5" r="3.28"/><circle cx="365.8" cy="418.9" r="2.54"/><circle cx="395.2" cy="399.7" r="2.28"/><circle cx="375.1" cy="456.1" r="2.43"/><circle cx="356.4" cy="359.6" r="2.45"/><circle cx="298.5" cy="424.7" r="1.87"/><circle cx="390.1" cy="408.6" r="2.84"/><circle cx="366.9" cy="406.4" r="2.81"/><circle cx="352.7" cy="384.0" r="2.01"/><circle cx="432.0" cy="359.0" r="1.94"/><circle cx="277.8" cy="327.4" r="2.79"/><circle cx="369.6" cy="319.9" r="1.97"/><circle cx="323.0" cy="444.4" r="3.02"/><circle cx="441.3" cy="421.6" r="2.80"/><circle cx="348.1" cy="344.6" r="2.17"/><circle cx="388.1" cy="347.1" r="2.01"/><circle cx="384.7" cy="411.0" r="3.00"/><circle cx="446.4" cy="406.4" r="2.81"/><circle cx="457.7" cy="396.5" r="3.03"/><circle cx="310.8" cy="443.4" r="2.09"/><circle cx="400.7" cy="388.4" r="2.53"/><circle cx="397.8" cy="449.4" r="2.13"/><circle cx="376.4" cy="366.8" r="1.99"/><circle cx="341.7" cy="384.2" r="2.32"/><circle cx="309.8" cy="460.2" r="2.05"/><circle cx="362.9" cy="451.1" r="2.39"/><circle cx="413.8" cy="441.3" r="2.15"/><circle cx="370.7" cy="377.9" r="2.94"/><circle cx="290.3" cy="338.9" r="2.94"/><circle cx="343.1" cy="359.3" r="2.69"/><circle cx="321.4" cy="411.3" r="2.28"/><circle cx="309.7" cy="304.8" r="2.02"/><circle cx="288.4" cy="374.9" r="3.22"/></g><g fill="#828282" stroke="#2e2e2e" stroke-width="1.1"><circle cx="348.0" cy="357.6" r="2.24"/><circle cx="295.2" cy="446.6" r="1.85"/><circle cx="372.1" cy="278.7" r="2.43"/><circle cx="441.0" cy="397.4" r="2.42"/><circle cx="426.7" cy="366.1" r="3.23"/><circle cx="339.6" cy="353.4" r="3.03"/><circle cx="352.3" cy="349.6" r="2.05"/><circle cx="281.5" cy="362.2" r="2.24"/><circle cx="362.6" cy="368.4" r="3.18"/><circle cx="327.0" cy="348.4" r="2.56"/><circle cx="301.3" cy="379.6" r="2.69"/><circle cx="394.7" cy="458.1" r="3.28"/><circle cx="410.2" cy="415.3" r="2.35"/><circle cx="296.4" cy="310.1" r="3.22"/><circle cx="399.9" cy="400.8" r="2.08"/><circle cx="386.0" cy="355.2" r="2.26"/><circle cx="371.0" cy="344.0" r="2.20"/><circle cx="375.7" cy="393.5" r="2.83"/><circle cx="292.3" cy="398.2" r="1.92"/><circle cx="303.4" cy="391.6" r="3.02"/><circle cx="392.4" cy="392.7" r="2.14"/><circle cx="447.0" cy="380.5" r="3.22"/><circle cx="334.6" cy="394.5" r="3.04"/><circle cx="421.4" cy="389.2" r="3.14"/><circle cx="311.1" cy="359.0" r="2.70"/><circle cx="364.2" cy="362.5" r="1.91"/><circle cx="339.9" cy="368.0" r="2.36"/><circle cx="357.9" cy="320.5" r="2.04"/><circle cx="385.0" cy="444.3" r="3.24"/><circle cx="298.5" cy="355.9" r="2.87"/><circle cx="286.7" cy="417.1" r="2.28"/><circle cx="370.1" cy="384.2" r="2.16"/><circle cx="273.1" cy="429.3" r="2.54"/><circle cx="403.0" cy="457.9" r="1.85"/><circle cx="407.8" cy="396.6" r="2.92"/><circle cx="290.5" cy="462.9" r="3.20"/><circle cx="379.7" cy="341.8" r="3.25"/><circle cx="316.1" cy="338.0" r="2.30"/><circle cx="436.7" cy="457.3" r="2.13"/><circle cx="352.6" cy="451.9" r="3.18"/><circle cx="398.5" cy="360.5" r="2.51"/><circle cx="333.8" cy="320.0" r="2.57"/><circle cx="423.7" cy="412.0" r="2.59"/><circle cx="447.3" cy="358.1" r="2.81"/><circle cx="293.9" cy="422.3" r="2.11"/><circle cx="286.7" cy="447.6" r="2.41"/><circle cx="340.2" cy="335.3" r="2.46"/><circle cx="411.1" cy="363.3" r="2.46"/><circle cx="343.3" cy="458.1" r="2.05"/><circle cx="457.6" cy="384.9" r="2.69"/><circle cx="374.9" cy="416.7" r="2.03"/><circle cx="378.2" cy="291.5" r="2.21"/><circle cx="434.4" cy="414.3" r="3.16"/><circle cx="312.1" cy="447.9" r="2.57"/><circle cx="437.9" cy="410.4" r="2.81"/><circle cx="374.3" cy="340.6" r="2.05"/><circle cx="272.9" cy="415.6" r="2.36"/><circle cx="350.8" cy="402.0" r="3.15"/><circle cx="392.9" cy="381.1" r="2.31"/><circle cx="354.3" cy="338.6" r="2.49"/><circle cx="301.1" cy="311.4" r="2.60"/><circle cx="363.8" cy="351.9" r="2.36"/><circle cx="419.7" cy="403.2" r="2.54"/><circle cx="412.9" cy="405.0" r="1.94"/><circle cx="376.1" cy="362.4" r="1.88"/><circle cx="312.4" cy="373.5" r="2.54"/><circle cx="286.2" cy="351.5" r="2.96"/><circle cx="339.3" cy="442.0" r="1.87"/><circle cx="384.2" cy="466.5" r="2.41"/><circle cx="309.0" cy="320.8" r="1.98"/><circle cx="397.7" cy="393.4" r="2.19"/><circle cx="341.0" cy="453.1" r="2.81"/><circle cx="274.0" cy="368.3" r="3.19"/><circle cx="281.2" cy="379.8" r="1.87"/><circle cx="368.7" cy="425.6" r="1.95"/><circle cx="362.1" cy="423.5" r="2.19"/><circle cx="439.0" cy="383.0" r="3.25"/></g><g fill="#525252" stroke="#2e2e2e" stroke-width="1.1"><circle cx="280.8" cy="440.5" r="2.47"/><circle cx="397.2" cy="352.7" r="3.23"/><circle cx="305.4" cy="323.0" r="2.07"/><circle cx="336.8" cy="326.8" r="2.13"/><circle cx="400.1" cy="372.0" r="2.83"/><circle cx="308.5" cy="329.4" r="2.75"/><circle cx="364.2" cy="467.1" r="3.29"/><circle cx="465.3" cy="433.1" r="2.06"/><circle cx="304.5" cy="357.2" r="3.00"/><circle cx="437.8" cy="465.3" r="2.33"/><circle cx="293.9" cy="330.9" r="2.88"/><circle cx="265.0" cy="374.2" r="2.75"/><circle cx="347.6" cy="419.1" r="2.44"/><circle cx="369.3" cy="416.3" r="2.05"/><circle cx="367.6" cy="381.0" r="2.49"/><circle cx="391.8" cy="307.5" r="2.97"/><circle cx="273.3" cy="402.4" r="3.29"/><circle cx="273.5" cy="376.5" r="3.19"/><circle cx="407.6" cy="367.1" r="1.94"/><circle cx="376.0" cy="411.5" r="2.70"/><circle cx="393.8" cy="370.3" r="2.52"/><circle cx="443.7" cy="373.3" r="2.67"/><circle cx="296.4" cy="428.8" r="2.46"/><circle cx="280.9" cy="343.2" r="2.61"/><circle cx="378.7" cy="314.5" r="2.47"/><circle cx="344.3" cy="434.9" r="2.29"/><circle cx="346.6" cy="408.0" r="1.90"/><circle cx="320.1" cy="312.5" r="2.30"/><circle cx="339.7" cy="411.8" r="1.83"/><circle cx="410.9" cy="446.5" r="1.80"/><circle cx="313.4" cy="352.1" r="2.70"/><circle cx="440.4" cy="365.4" r="2.76"/><circle cx="297.6" cy="466.4" r="2.07"/><circle cx="348.9" cy="371.4" r="2.56"/><circle cx="353.4" cy="462.1" r="2.48"/><circle cx="289.4" cy="367.8" r="3.04"/><circle cx="412.3" cy="428.8" r="2.43"/><circle cx="390.8" cy="396.8" r="2.03"/><circle cx="267.3" cy="357.4" r="3.07"/><circle cx="266.0" cy="342.4" r="3.20"/><circle cx="406.0" cy="466.3" r="2.26"/><circle cx="346.5" cy="363.6" r="2.32"/><circle cx="460.5" cy="360.6" r="2.42"/><circle cx="423.2" cy="429.0" r="2.79"/><circle cx="323.3" cy="305.6" r="1.88"/><circle cx="318.0" cy="419.2" r="2.32"/><circle cx="289.3" cy="429.7" r="2.37"/><circle cx="349.5" cy="317.6" r="3.12"/><circle cx="383.3" cy="303.0" r="2.54"/><circle cx="362.8" cy="446.1" r="2.39"/><circle cx="325.2" cy="429.1" r="2.11"/><circle cx="296.6" cy="345.0" r="2.25"/><circle cx="360.7" cy="339.0" r="2.59"/><circle cx="371.9" cy="336.1" r="2.48"/><circle cx="380.7" cy="328.1" r="2.20"/><circle cx="393.6" cy="419.8" r="2.58"/><circle cx="362.9" cy="409.3" r="2.84"/><circle cx="374.5" cy="400.3" r="2.00"/><circle cx="409.8" cy="353.9" r="1.93"/><circle cx="350.2" cy="435.1" r="1.98"/><circle cx="379.9" cy="414.0" r="2.20"/><circle cx="413.5" cy="356.8" r="2.42"/><circle cx="341.1" cy="289.8" r="3.17"/><circle cx="426.9" cy="445.9" r="1.93"/><circle cx="292.0" cy="351.8" r="2.84"/><circle cx="447.9" cy="393.6" r="1.91"/><circle cx="324.9" cy="385.3" r="1.90"/><circle cx="272.9" cy="386.4" r="3.09"/><circle cx="329.3" cy="301.5" r="1.80"/><circle cx="296.2" cy="363.2" r="1.84"/><circle cx="308.1" cy="463.6" r="2.54"/><circle cx="297.3" cy="388.6" r="2.79"/><circle cx="408.2" cy="432.8" r="2.75"/><circle cx="389.8" cy="291.7" r="2.22"/><circle cx="435.0" cy="441.3" r="2.08"/><circle cx="383.3" cy="351.5" r="2.86"/><circle cx="280.7" cy="355.0" r="1.81"/><circle cx="415.5" cy="389.9" r="2.53"/><circle cx="357.5" cy="417.7" r="2.06"/><circle cx="307.1" cy="401.9" r="2.46"/><circle cx="442.9" cy="434.5" r="2.73"/><circle cx="429.0" cy="409.1" r="2.33"/><circle cx="378.7" cy="388.8" r="2.12"/><circle cx="365.2" cy="440.6" r="2.48"/><circle cx="409.7" cy="371.4" r="1.91"/><circle cx="387.1" cy="283.9" r="2.21"/><circle cx="353.7" cy="423.1" r="3.13"/><circle cx="260.9" cy="401.7" r="2.69"/><circle cx="332.5" cy="442.7" r="2.61"/><circle cx="317.5" cy="301.7" r="2.85"/><circle cx="346.9" cy="432.6" r="1.94"/><circle cx="406.9" cy="361.2" r="2.18"/><circle cx="379.1" cy="428.4" r="1.90"/><circle cx="395.0" cy="364.6" r="2.52"/><circle cx="388.3" cy="420.2" r="2.35"/></g></g><g fill="#e8e8e8" filter="url(#bl)"><circle cx="281.1" cy="440.2" r="0.69"/><circle cx="351.7" cy="332.5" r="0.80"/><circle cx="348.3" cy="357.3" r="0.63"/><circle cx="440.0" cy="442.2" r="0.64"/><circle cx="397.5" cy="352.4" r="0.90"/><circle cx="370.9" cy="396.8" r="0.91"/><circle cx="295.5" cy="446.3" r="0.55"/><circle cx="372.4" cy="278.4" r="0.68"/><circle cx="281.7" cy="324.0" r="0.81"/><circle cx="441.3" cy="397.1" r="0.68"/><circle cx="382.1" cy="400.4" r="0.88"/><circle cx="379.2" cy="284.3" r="0.73"/><circle cx="296.0" cy="460.5" r="0.92"/><circle cx="318.5" cy="449.3" r="0.92"/><circle cx="359.0" cy="400.5" r="0.59"/><circle cx="305.7" cy="322.7" r="0.58"/><circle cx="332.1" cy="353.5" r="0.92"/><circle cx="419.8" cy="369.5" r="0.88"/><circle cx="383.1" cy="395.5" r="0.65"/><circle cx="377.2" cy="349.6" r="0.75"/><circle cx="437.0" cy="356.8" r="0.65"/><circle cx="356.5" cy="363.6" r="0.64"/><circle cx="427.0" cy="365.8" r="0.91"/><circle cx="339.9" cy="353.1" r="0.85"/><circle cx="291.0" cy="321.5" r="0.92"/><circle cx="363.8" cy="400.1" r="0.55"/><circle cx="352.6" cy="349.3" r="0.57"/><circle cx="448.4" cy="420.5" r="0.72"/><circle cx="317.3" cy="343.9" r="0.59"/><circle cx="465.6" cy="432.8" r="0.58"/><circle cx="455.2" cy="422.0" r="0.56"/><circle cx="304.8" cy="356.9" r="0.84"/><circle cx="438.1" cy="465.0" r="0.65"/><circle cx="421.0" cy="415.5" r="0.79"/><circle cx="327.3" cy="348.1" r="0.72"/><circle cx="301.6" cy="379.3" r="0.75"/><circle cx="398.7" cy="375.9" r="0.72"/><circle cx="395.0" cy="457.8" r="0.92"/><circle cx="452.7" cy="408.7" r="0.92"/><circle cx="372.6" cy="359.0" r="0.74"/><circle cx="379.0" cy="324.4" r="0.55"/><circle cx="385.1" cy="336.8" r="0.55"/><circle cx="309.4" cy="454.6" r="0.58"/><circle cx="265.3" cy="373.9" r="0.77"/><circle cx="326.1" cy="353.9" r="0.65"/><circle cx="382.1" cy="292.4" r="0.62"/><circle cx="431.7" cy="367.3" r="0.66"/><circle cx="373.3" cy="283.0" r="0.75"/><circle cx="369.6" cy="416.0" r="0.58"/><circle cx="320.1" cy="365.7" r="0.76"/><circle cx="367.9" cy="380.7" r="0.70"/><circle cx="392.1" cy="307.2" r="0.83"/><circle cx="273.6" cy="402.1" r="0.92"/><circle cx="371.3" cy="343.7" r="0.62"/><circle cx="376.0" cy="393.2" r="0.79"/><circle cx="292.6" cy="397.9" r="0.55"/><circle cx="405.6" cy="410.0" r="0.55"/><circle cx="308.3" cy="335.5" r="0.64"/><circle cx="273.8" cy="376.2" r="0.89"/><circle cx="385.5" cy="452.0" r="0.55"/><circle cx="447.3" cy="380.2" r="0.90"/><circle cx="386.8" cy="331.2" r="0.55"/><circle cx="334.9" cy="394.2" r="0.85"/><circle cx="460.5" cy="347.3" r="0.69"/><circle cx="376.3" cy="411.2" r="0.76"/><circle cx="359.2" cy="433.1" r="0.64"/><circle cx="344.7" cy="309.5" r="0.76"/><circle cx="394.1" cy="370.0" r="0.71"/><circle cx="390.2" cy="447.6" r="0.77"/><circle cx="354.4" cy="408.2" r="0.80"/><circle cx="442.6" cy="427.4" r="0.57"/><circle cx="340.2" cy="367.7" r="0.66"/><circle cx="281.2" cy="342.9" r="0.73"/><circle cx="337.1" cy="387.6" r="0.56"/><circle cx="382.8" cy="367.9" r="0.85"/><circle cx="379.0" cy="314.2" r="0.69"/><circle cx="298.8" cy="355.6" r="0.80"/><circle cx="344.6" cy="434.6" r="0.64"/><circle cx="320.4" cy="312.2" r="0.64"/><circle cx="287.0" cy="416.8" r="0.64"/><circle cx="428.4" cy="424.7" r="0.58"/><circle cx="342.0" cy="379.4" r="0.56"/><circle cx="407.7" cy="457.1" r="0.57"/><circle cx="440.7" cy="365.1" r="0.77"/><circle cx="396.3" cy="465.7" r="0.72"/><circle cx="386.7" cy="325.1" r="0.75"/><circle cx="297.9" cy="466.1" r="0.58"/><circle cx="273.4" cy="429.0" r="0.71"/><circle cx="352.4" cy="354.0" r="0.61"/><circle cx="353.7" cy="461.8" r="0.70"/><circle cx="426.3" cy="458.3" r="0.58"/><circle cx="403.3" cy="457.6" r="0.55"/><circle cx="366.2" cy="385.1" r="0.90"/><circle cx="301.8" cy="402.5" r="0.84"/><circle cx="418.3" cy="447.8" r="0.63"/><circle cx="378.0" cy="434.1" r="0.70"/><circle cx="417.7" cy="406.2" r="0.67"/><circle cx="259.6" cy="362.1" r="0.67"/><circle cx="324.4" cy="344.3" r="0.77"/><circle cx="401.2" cy="415.9" r="0.60"/><circle cx="289.7" cy="367.5" r="0.85"/><circle cx="433.8" cy="349.6" r="0.83"/><circle cx="357.4" cy="296.9" r="0.67"/><circle cx="416.5" cy="395.1" r="0.86"/><circle cx="267.6" cy="357.1" r="0.86"/><circle cx="266.3" cy="342.1" r="0.89"/><circle cx="370.2" cy="288.9" r="0.64"/><circle cx="445.6" cy="396.8" r="0.64"/><circle cx="436.4" cy="387.1" r="0.88"/><circle cx="406.3" cy="466.0" r="0.63"/><circle cx="360.9" cy="415.1" r="0.62"/><circle cx="319.5" cy="358.1" r="0.84"/><circle cx="382.9" cy="448.7" r="0.66"/><circle cx="316.4" cy="337.7" r="0.64"/><circle cx="323.6" cy="305.3" r="0.55"/><circle cx="374.3" cy="292.2" r="0.66"/><circle cx="368.0" cy="446.4" r="0.61"/><circle cx="303.9" cy="369.2" r="0.66"/><circle cx="326.7" cy="453.6" r="0.65"/><circle cx="361.8" cy="428.3" r="0.71"/><circle cx="352.9" cy="451.6" r="0.89"/><circle cx="318.3" cy="418.9" r="0.65"/><circle cx="398.0" cy="442.9" r="0.87"/><circle cx="316.3" cy="394.9" r="0.76"/><circle cx="394.6" cy="430.0" r="0.64"/><circle cx="344.3" cy="393.7" r="0.59"/><circle cx="298.5" cy="339.6" r="0.80"/><circle cx="304.5" cy="436.6" r="0.68"/><circle cx="355.9" cy="392.1" r="0.62"/><circle cx="363.1" cy="445.8" r="0.67"/><circle cx="294.2" cy="422.0" r="0.59"/><circle cx="362.3" cy="298.3" r="0.83"/><circle cx="422.4" cy="466.7" r="0.78"/><circle cx="376.2" cy="307.4" r="0.65"/><circle cx="304.8" cy="317.0" r="0.80"/><circle cx="429.5" cy="414.9" r="0.70"/><circle cx="287.4" cy="380.0" r="0.87"/><circle cx="426.1" cy="405.9" r="0.70"/><circle cx="325.5" cy="428.8" r="0.59"/><circle cx="422.0" cy="362.5" r="0.80"/><circle cx="442.9" cy="351.1" r="0.70"/><circle cx="361.0" cy="338.7" r="0.72"/><circle cx="385.7" cy="379.0" r="0.67"/><circle cx="343.6" cy="457.8" r="0.57"/><circle cx="375.2" cy="416.4" r="0.57"/><circle cx="393.9" cy="419.5" r="0.72"/><circle cx="309.8" cy="439.5" r="0.55"/><circle cx="452.8" cy="436.4" r="0.68"/><circle cx="374.8" cy="400.0" r="0.56"/><circle cx="354.2" cy="372.7" r="0.87"/><circle cx="349.2" cy="455.9" r="0.62"/><circle cx="331.8" cy="309.3" r="0.92"/><circle cx="301.5" cy="431.8" r="0.83"/><circle cx="410.1" cy="353.6" r="0.55"/><circle cx="412.3" cy="423.2" r="0.67"/><circle cx="395.4" cy="415.9" r="0.55"/><circle cx="434.7" cy="414.0" r="0.88"/><circle cx="385.9" cy="426.3" r="0.85"/><circle cx="337.3" cy="330.9" r="0.61"/><circle cx="380.2" cy="413.7" r="0.62"/><circle cx="424.1" cy="352.2" r="0.92"/><circle cx="444.1" cy="389.6" r="0.63"/><circle cx="366.1" cy="418.6" r="0.71"/><circle cx="292.3" cy="351.5" r="0.79"/><circle cx="355.8" cy="304.4" r="0.68"/><circle cx="448.2" cy="393.3" r="0.55"/><circle cx="325.2" cy="385.0" r="0.55"/><circle cx="375.4" cy="455.8" r="0.68"/><circle cx="382.6" cy="430.0" r="0.73"/><circle cx="296.5" cy="362.9" r="0.55"/><circle cx="388.8" cy="461.0" r="0.65"/><circle cx="287.6" cy="411.5" r="0.69"/><circle cx="276.3" cy="341.5" r="0.89"/><circle cx="323.5" cy="300.7" r="0.85"/><circle cx="346.8" cy="327.5" r="0.60"/><circle cx="354.6" cy="338.3" r="0.70"/><circle cx="271.9" cy="395.4" r="0.67"/><circle cx="388.4" cy="319.3" r="0.67"/><circle cx="390.1" cy="291.4" r="0.62"/><circle cx="335.7" cy="375.2" r="0.90"/><circle cx="364.1" cy="351.6" r="0.66"/><circle cx="432.3" cy="358.7" r="0.55"/><circle cx="333.4" cy="465.0" r="0.70"/><circle cx="369.9" cy="319.6" r="0.55"/><circle cx="323.3" cy="444.1" r="0.85"/><circle cx="441.6" cy="421.3" r="0.79"/><circle cx="388.4" cy="346.8" r="0.56"/><circle cx="281.0" cy="354.7" r="0.55"/><circle cx="312.7" cy="373.2" r="0.71"/><circle cx="385.0" cy="410.7" r="0.84"/><circle cx="369.1" cy="365.0" r="0.90"/><circle cx="286.5" cy="351.2" r="0.83"/><circle cx="436.3" cy="405.9" r="0.61"/><circle cx="339.6" cy="441.7" r="0.55"/><circle cx="284.2" cy="335.1" r="0.75"/><circle cx="446.7" cy="406.1" r="0.79"/><circle cx="384.5" cy="466.2" r="0.67"/><circle cx="311.1" cy="443.1" r="0.59"/><circle cx="443.2" cy="434.2" r="0.77"/><circle cx="283.9" cy="388.9" r="0.83"/><circle cx="398.0" cy="393.1" r="0.61"/><circle cx="379.0" cy="388.5" r="0.59"/><circle cx="342.0" cy="383.9" r="0.65"/><circle cx="310.1" cy="459.9" r="0.57"/><circle cx="286.5" cy="396.0" r="0.82"/><circle cx="363.2" cy="450.8" r="0.67"/><circle cx="387.4" cy="283.6" r="0.62"/><circle cx="365.8" cy="432.9" r="0.83"/><circle cx="341.3" cy="452.8" r="0.79"/><circle cx="414.1" cy="441.0" r="0.60"/><circle cx="354.0" cy="422.8" r="0.88"/><circle cx="371.0" cy="377.6" r="0.82"/><circle cx="400.6" cy="434.3" r="0.88"/><circle cx="360.1" cy="405.5" r="0.82"/><circle cx="290.6" cy="338.6" r="0.82"/><circle cx="371.4" cy="411.4" r="0.83"/><circle cx="334.1" cy="452.2" r="0.58"/><circle cx="333.5" cy="388.6" r="0.55"/><circle cx="317.8" cy="301.4" r="0.80"/><circle cx="310.0" cy="304.5" r="0.57"/><circle cx="299.5" cy="454.9" r="0.67"/><circle cx="330.1" cy="331.9" r="0.82"/><circle cx="391.2" cy="351.6" r="0.63"/><circle cx="312.9" cy="413.4" r="0.91"/><circle cx="362.4" cy="423.2" r="0.61"/><circle cx="388.6" cy="419.9" r="0.66"/><circle cx="263.6" cy="366.2" r="0.55"/><circle cx="301.5" cy="406.6" r="0.55"/><circle cx="439.3" cy="382.7" r="0.91"/></g><rect x="252.2" y="276.0" width="211.6" height="189.4" fill="url(#l1)"/><rect x="450.3" y="460.8" width="13.5" height="3.8" fill="#fff"/></g><g clip-path="url(#ci1)"><rect x="393.1" y="276.0" width="70.7" height="69.7" fill="#888"/><ellipse cx="430" cy="350" rx="45" ry="12" fill="#b0b0b0" filter="url(#bl3)"/><ellipse cx="398" cy="300" rx="6" ry="25" fill="#7a7a7a" filter="url(#bl3)"/><ellipse cx="430" cy="309.5" rx="30.5" ry="27" fill="#a4a4a4" filter="url(#bl2)"/><ellipse cx="430" cy="309.5" rx="29" ry="25.5" fill="#8e8e8e" stroke="#555" stroke-width="0.9"/><g filter="url(#bl)"><g fill="#a8a8a8" ><circle cx="432.4" cy="295.7" r="1.02"/><circle cx="413.3" cy="320.2" r="0.57"/><circle cx="420.5" cy="305.0" r="0.93"/><circle cx="422.1" cy="304.1" r="0.69"/><circle cx="443.1" cy="316.4" r="1.10"/><circle cx="414.9" cy="301.9" r="0.78"/><circle cx="447.5" cy="319.0" r="0.57"/><circle cx="436.5" cy="294.7" r="1.00"/><circle cx="413.2" cy="324.4" r="0.76"/><circle cx="424.7" cy="301.4" r="1.09"/><circle cx="441.8" cy="328.9" r="1.19"/><circle cx="411.8" cy="323.7" r="0.62"/><circle cx="455.4" cy="310.7" r="0.91"/><circle cx="455.5" cy="306.2" r="1.08"/><circle cx="433.6" cy="308.3" r="0.57"/><circle cx="442.7" cy="313.7" r="0.71"/><circle cx="424.7" cy="319.7" r="0.92"/><circle cx="410.3" cy="313.7" r="0.90"/><circle cx="424.3" cy="297.0" r="0.69"/><circle cx="423.6" cy="309.6" r="1.07"/><circle cx="409.4" cy="304.9" r="1.18"/><circle cx="432.9" cy="314.2" r="1.10"/><circle cx="445.9" cy="306.0" r="0.70"/><circle cx="417.0" cy="308.1" r="0.93"/><circle cx="413.5" cy="293.1" r="0.76"/><circle cx="425.8" cy="308.2" r="1.02"/><circle cx="441.8" cy="293.5" r="0.75"/><circle cx="424.8" cy="299.9" r="0.68"/><circle cx="416.1" cy="293.4" r="0.95"/><circle cx="426.8" cy="310.9" r="0.80"/><circle cx="409.3" cy="312.6" r="0.83"/><circle cx="416.9" cy="294.5" r="0.87"/><circle cx="451.2" cy="305.4" r="1.04"/><circle cx="422.5" cy="323.6" r="1.12"/><circle cx="420.1" cy="326.2" r="1.14"/><circle cx="415.1" cy="317.4" r="1.07"/><circle cx="451.0" cy="315.9" r="0.61"/><circle cx="452.1" cy="306.3" r="0.85"/><circle cx="442.2" cy="321.4" r="0.92"/><circle cx="406.7" cy="316.3" r="1.16"/><circle cx="423.9" cy="302.5" r="0.83"/><circle cx="429.0" cy="323.1" r="1.12"/><circle cx="428.6" cy="304.5" r="1.01"/><circle cx="436.1" cy="330.2" r="0.64"/><circle cx="438.7" cy="324.9" r="0.80"/><circle cx="422.8" cy="294.3" r="0.72"/><circle cx="427.3" cy="323.8" r="1.16"/><circle cx="441.9" cy="307.5" r="0.95"/><circle cx="434.0" cy="314.4" r="0.53"/><circle cx="418.6" cy="292.8" r="0.63"/><circle cx="427.7" cy="294.7" r="0.54"/><circle cx="416.0" cy="317.6" r="0.56"/><circle cx="450.9" cy="303.6" r="0.74"/><circle cx="441.6" cy="319.1" r="0.75"/><circle cx="413.7" cy="300.7" r="0.63"/><circle cx="423.9" cy="318.0" r="0.57"/><circle cx="415.8" cy="297.5" r="1.15"/><circle cx="410.1" cy="323.2" r="0.72"/><circle cx="438.1" cy="315.5" r="0.65"/><circle cx="423.8" cy="304.5" r="1.00"/><circle cx="434.9" cy="311.9" r="0.54"/><circle cx="430.4" cy="305.9" r="0.64"/><circle cx="450.1" cy="311.4" r="1.14"/><circle cx="430.3" cy="300.5" r="0.96"/><circle cx="421.7" cy="302.5" r="1.07"/><circle cx="410.2" cy="308.1" r="0.61"/><circle cx="430.6" cy="319.9" r="1.12"/><circle cx="452.3" cy="313.8" r="1.17"/></g><g fill="#666" ><circle cx="431.4" cy="308.2" r="0.85"/><circle cx="435.9" cy="305.7" r="0.89"/><circle cx="426.1" cy="306.5" r="0.77"/><circle cx="428.7" cy="319.8" r="0.70"/><circle cx="434.2" cy="300.1" r="1.12"/><circle cx="426.0" cy="309.7" r="0.80"/><circle cx="426.7" cy="308.8" r="0.56"/><circle cx="456.0" cy="308.8" r="0.58"/><circle cx="449.6" cy="308.0" r="0.51"/><circle cx="434.6" cy="297.2" r="0.80"/><circle cx="434.2" cy="323.1" r="0.93"/><circle cx="445.1" cy="306.7" r="0.60"/><circle cx="409.6" cy="303.0" r="0.55"/><circle cx="424.5" cy="295.1" r="0.84"/><circle cx="433.5" cy="306.5" r="0.92"/><circle cx="432.8" cy="314.7" r="0.75"/><circle cx="436.9" cy="314.5" r="1.16"/><circle cx="438.0" cy="288.4" r="1.05"/><circle cx="420.4" cy="315.6" r="0.69"/><circle cx="425.1" cy="317.8" r="0.88"/><circle cx="446.6" cy="296.6" r="0.65"/><circle cx="415.5" cy="306.1" r="0.51"/><circle cx="413.1" cy="304.5" r="1.11"/><circle cx="444.1" cy="299.2" r="0.59"/><circle cx="423.1" cy="322.1" r="0.63"/><circle cx="437.4" cy="324.6" r="1.15"/><circle cx="428.0" cy="317.4" r="0.71"/><circle cx="446.1" cy="312.7" r="1.05"/><circle cx="424.8" cy="304.3" r="1.17"/><circle cx="421.0" cy="328.7" r="0.64"/><circle cx="431.4" cy="314.2" r="0.51"/><circle cx="423.2" cy="323.5" r="0.70"/><circle cx="443.8" cy="311.8" r="0.51"/><circle cx="441.0" cy="307.6" r="1.12"/><circle cx="409.1" cy="306.4" r="0.60"/><circle cx="444.1" cy="317.1" r="1.04"/><circle cx="411.9" cy="296.7" r="0.55"/><circle cx="413.8" cy="306.2" r="1.00"/><circle cx="428.4" cy="320.6" r="0.99"/><circle cx="420.8" cy="301.4" r="0.91"/><circle cx="439.1" cy="317.1" r="0.61"/><circle cx="411.0" cy="302.1" r="0.95"/><circle cx="438.6" cy="328.3" r="0.95"/><circle cx="413.5" cy="305.4" r="1.19"/><circle cx="438.5" cy="330.7" r="0.81"/><circle cx="418.3" cy="311.3" r="0.81"/><circle cx="416.5" cy="316.4" r="1.11"/><circle cx="432.2" cy="316.5" r="0.54"/><circle cx="430.2" cy="294.8" r="0.75"/><circle cx="445.2" cy="305.9" r="0.77"/><circle cx="440.5" cy="317.5" r="0.80"/><circle cx="436.7" cy="315.1" r="0.51"/><circle cx="431.4" cy="291.2" r="0.96"/><circle cx="430.8" cy="308.8" r="0.71"/><circle cx="418.2" cy="294.8" r="0.50"/><circle cx="440.4" cy="308.3" r="0.98"/><circle cx="441.9" cy="313.2" r="0.82"/><circle cx="431.1" cy="301.7" r="1.01"/><circle cx="451.9" cy="321.6" r="0.73"/><circle cx="427.5" cy="298.2" r="0.51"/><circle cx="437.9" cy="307.6" r="1.06"/><circle cx="424.3" cy="312.6" r="0.99"/></g><g fill="#9a9a9a" ><circle cx="425.0" cy="295.0" r="1.01"/><circle cx="423.0" cy="288.4" r="0.67"/><circle cx="430.9" cy="306.0" r="1.05"/><circle cx="433.0" cy="331.4" r="0.78"/><circle cx="429.7" cy="314.5" r="1.18"/><circle cx="409.2" cy="315.2" r="1.03"/><circle cx="419.4" cy="307.8" r="0.94"/><circle cx="440.9" cy="310.3" r="0.82"/><circle cx="444.7" cy="298.8" r="0.87"/><circle cx="413.0" cy="324.6" r="0.66"/><circle cx="439.8" cy="292.3" r="0.94"/><circle cx="432.4" cy="296.7" r="1.05"/><circle cx="421.6" cy="301.3" r="0.68"/><circle cx="418.5" cy="308.4" r="0.81"/><circle cx="431.9" cy="304.4" r="0.68"/><circle cx="434.2" cy="315.5" r="1.08"/><circle cx="451.5" cy="310.6" r="0.51"/><circle cx="448.9" cy="305.7" r="1.14"/><circle cx="439.0" cy="305.4" r="0.77"/><circle cx="419.0" cy="310.6" r="1.09"/><circle cx="447.6" cy="311.0" r="0.59"/><circle cx="420.5" cy="299.7" r="1.14"/><circle cx="435.6" cy="293.8" r="1.02"/><circle cx="449.4" cy="322.3" r="1.07"/><circle cx="410.5" cy="323.4" r="1.18"/><circle cx="444.5" cy="321.1" r="0.64"/><circle cx="417.7" cy="300.6" r="0.69"/><circle cx="428.8" cy="303.5" r="0.83"/><circle cx="448.4" cy="303.2" r="0.51"/><circle cx="431.8" cy="295.9" r="1.04"/><circle cx="443.5" cy="328.5" r="0.99"/><circle cx="442.0" cy="291.1" r="0.90"/><circle cx="451.2" cy="320.7" r="0.57"/><circle cx="436.5" cy="312.8" r="0.75"/><circle cx="446.7" cy="297.9" r="0.63"/><circle cx="425.2" cy="291.3" r="0.91"/><circle cx="453.0" cy="309.7" r="1.11"/><circle cx="440.0" cy="315.3" r="0.53"/><circle cx="413.3" cy="312.2" r="1.02"/><circle cx="442.8" cy="312.9" r="0.66"/><circle cx="427.1" cy="330.8" r="0.78"/><circle cx="433.1" cy="308.7" r="0.63"/><circle cx="415.9" cy="319.9" r="0.73"/><circle cx="451.0" cy="316.6" r="1.08"/><circle cx="445.2" cy="291.8" r="0.85"/><circle cx="432.3" cy="322.9" r="0.70"/><circle cx="425.5" cy="309.2" r="1.08"/><circle cx="411.9" cy="298.2" r="0.97"/><circle cx="408.7" cy="304.7" r="0.50"/><circle cx="429.1" cy="313.1" r="0.51"/><circle cx="452.4" cy="301.4" r="1.17"/><circle cx="451.3" cy="305.0" r="0.54"/><circle cx="408.4" cy="298.4" r="0.98"/></g><g fill="#777" ><circle cx="414.5" cy="312.7" r="0.60"/><circle cx="427.4" cy="295.1" r="0.56"/><circle cx="434.4" cy="305.9" r="0.77"/><circle cx="437.2" cy="305.3" r="0.92"/><circle cx="420.8" cy="294.1" r="1.04"/><circle cx="430.2" cy="328.8" r="0.80"/><circle cx="427.8" cy="308.0" r="0.54"/><circle cx="421.1" cy="306.3" r="0.56"/><circle cx="425.1" cy="290.2" r="1.12"/><circle cx="421.8" cy="309.7" r="0.53"/><circle cx="449.8" cy="319.5" r="0.66"/><circle cx="405.9" cy="304.5" r="0.55"/><circle cx="413.8" cy="297.4" r="0.78"/><circle cx="411.3" cy="312.6" r="0.52"/><circle cx="442.1" cy="317.7" r="0.66"/><circle cx="450.5" cy="296.9" r="1.11"/><circle cx="414.7" cy="310.2" r="1.09"/><circle cx="419.6" cy="313.1" r="0.78"/><circle cx="443.3" cy="323.0" r="0.74"/><circle cx="410.9" cy="315.2" r="1.03"/><circle cx="434.7" cy="307.3" r="0.60"/><circle cx="450.9" cy="309.0" r="0.78"/><circle cx="406.0" cy="312.3" r="0.97"/><circle cx="448.9" cy="298.8" r="0.69"/><circle cx="440.8" cy="321.4" r="0.98"/><circle cx="418.4" cy="323.8" r="0.88"/><circle cx="437.9" cy="317.2" r="0.88"/><circle cx="439.9" cy="303.5" r="0.64"/><circle cx="423.4" cy="296.0" r="1.09"/><circle cx="447.4" cy="296.8" r="1.18"/><circle cx="419.8" cy="304.6" r="1.08"/><circle cx="405.5" cy="315.8" r="0.53"/><circle cx="444.6" cy="305.4" r="0.51"/><circle cx="409.6" cy="302.8" r="0.55"/><circle cx="448.3" cy="315.7" r="0.86"/><circle cx="438.9" cy="298.3" r="0.96"/><circle cx="442.3" cy="301.5" r="0.86"/><circle cx="408.8" cy="321.5" r="0.63"/><circle cx="454.8" cy="303.5" r="0.62"/><circle cx="429.2" cy="288.3" r="0.64"/><circle cx="413.8" cy="300.9" r="0.60"/><circle cx="431.0" cy="311.1" r="1.11"/><circle cx="442.7" cy="306.7" r="1.06"/><circle cx="424.9" cy="310.9" r="0.65"/><circle cx="421.5" cy="317.1" r="1.00"/><circle cx="429.2" cy="331.9" r="1.01"/><circle cx="431.5" cy="312.5" r="0.92"/><circle cx="435.8" cy="296.4" r="0.88"/><circle cx="435.6" cy="296.9" r="1.15"/><circle cx="433.6" cy="314.2" r="1.06"/><circle cx="413.4" cy="311.4" r="0.70"/><circle cx="429.5" cy="293.2" r="1.09"/><circle cx="428.2" cy="312.1" r="0.66"/><circle cx="432.1" cy="310.5" r="0.78"/><circle cx="435.4" cy="301.0" r="0.90"/><circle cx="427.6" cy="322.8" r="1.05"/><circle cx="417.2" cy="306.0" r="1.02"/><circle cx="433.3" cy="313.1" r="0.99"/><circle cx="427.7" cy="294.6" r="0.85"/><circle cx="438.9" cy="295.3" r="0.72"/><circle cx="451.1" cy="315.2" r="0.91"/><circle cx="452.9" cy="318.4" r="1.19"/><circle cx="414.1" cy="321.0" r="0.74"/><circle cx="408.7" cy="311.5" r="1.15"/><circle cx="423.6" cy="323.8" r="1.16"/><circle cx="434.5" cy="289.1" r="1.06"/><circle cx="409.5" cy="313.4" r="0.75"/><circle cx="434.8" cy="303.6" r="1.11"/><circle cx="448.0" cy="314.7" r="0.85"/><circle cx="449.0" cy="315.5" r="0.65"/><circle cx="437.8" cy="298.8" r="1.00"/><circle cx="430.6" cy="328.8" r="1.12"/><circle cx="434.4" cy="304.7" r="0.83"/><circle cx="443.9" cy="304.6" r="0.85"/><circle cx="415.1" cy="301.4" r="0.85"/><circle cx="431.8" cy="294.9" r="0.93"/><circle cx="423.5" cy="291.9" r="0.81"/><circle cx="404.8" cy="313.2" r="0.95"/><circle cx="432.7" cy="293.8" r="0.83"/><circle cx="417.5" cy="295.0" r="0.61"/></g><g fill="#b0b0b0" ><circle cx="437.0" cy="318.7" r="0.58"/><circle cx="405.0" cy="308.6" r="0.91"/><circle cx="441.3" cy="316.7" r="0.97"/><circle cx="444.3" cy="321.3" r="1.13"/><circle cx="430.7" cy="311.5" r="0.56"/><circle cx="405.1" cy="309.9" r="0.79"/><circle cx="435.8" cy="308.1" r="0.89"/><circle cx="425.9" cy="306.5" r="0.76"/><circle cx="433.9" cy="324.1" r="0.73"/><circle cx="414.9" cy="304.4" r="0.62"/><circle cx="404.9" cy="312.0" r="0.87"/><circle cx="434.1" cy="308.1" r="1.20"/><circle cx="418.1" cy="296.6" r="0.71"/><circle cx="426.5" cy="290.6" r="0.57"/><circle cx="426.1" cy="305.6" r="0.92"/><circle cx="440.3" cy="313.6" r="0.93"/><circle cx="432.1" cy="299.8" r="0.65"/><circle cx="445.7" cy="307.5" r="1.02"/><circle cx="411.6" cy="312.8" r="0.76"/><circle cx="442.1" cy="295.4" r="0.65"/><circle cx="452.4" cy="298.8" r="0.57"/><circle cx="438.3" cy="327.1" r="0.96"/><circle cx="419.4" cy="327.9" r="0.86"/><circle cx="447.9" cy="320.6" r="0.70"/><circle cx="423.2" cy="308.2" r="0.51"/><circle cx="411.6" cy="295.9" r="0.90"/><circle cx="431.7" cy="322.4" r="1.02"/><circle cx="433.8" cy="307.9" r="0.63"/><circle cx="433.8" cy="291.4" r="0.57"/><circle cx="455.2" cy="309.4" r="1.00"/><circle cx="415.8" cy="318.6" r="0.94"/><circle cx="437.4" cy="308.0" r="0.75"/><circle cx="434.6" cy="317.1" r="0.90"/><circle cx="436.6" cy="327.0" r="0.87"/><circle cx="409.1" cy="299.4" r="1.05"/><circle cx="432.0" cy="314.7" r="0.87"/><circle cx="425.4" cy="319.4" r="0.62"/><circle cx="424.0" cy="291.3" r="1.16"/><circle cx="433.8" cy="306.9" r="1.18"/><circle cx="423.7" cy="311.2" r="1.17"/><circle cx="430.3" cy="291.4" r="0.72"/><circle cx="420.4" cy="291.5" r="0.82"/><circle cx="412.5" cy="299.9" r="0.83"/><circle cx="425.3" cy="327.9" r="0.56"/><circle cx="412.8" cy="308.5" r="0.86"/><circle cx="450.0" cy="319.0" r="1.11"/><circle cx="425.8" cy="324.7" r="0.70"/><circle cx="431.4" cy="289.2" r="0.68"/><circle cx="433.8" cy="301.9" r="0.74"/><circle cx="414.6" cy="312.6" r="0.65"/><circle cx="428.9" cy="318.5" r="1.07"/><circle cx="452.3" cy="318.9" r="0.59"/><circle cx="442.8" cy="305.4" r="0.61"/><circle cx="448.0" cy="310.1" r="1.10"/><circle cx="443.6" cy="293.7" r="0.99"/><circle cx="452.7" cy="300.4" r="0.90"/><circle cx="426.0" cy="296.7" r="0.55"/><circle cx="433.4" cy="317.5" r="1.01"/><circle cx="419.6" cy="324.8" r="0.97"/><circle cx="445.6" cy="324.8" r="0.55"/><circle cx="428.9" cy="330.0" r="0.58"/><circle cx="414.8" cy="308.1" r="0.51"/><circle cx="419.8" cy="311.0" r="0.63"/><circle cx="409.0" cy="303.0" r="0.94"/><circle cx="453.8" cy="308.4" r="1.11"/><circle cx="421.4" cy="294.2" r="0.92"/><circle cx="451.0" cy="297.8" r="0.62"/><circle cx="434.8" cy="312.5" r="1.05"/><circle cx="430.4" cy="325.6" r="0.89"/><circle cx="421.0" cy="294.9" r="1.00"/><circle cx="415.4" cy="307.5" r="0.56"/><circle cx="428.0" cy="308.4" r="0.86"/><circle cx="422.9" cy="317.0" r="1.06"/><circle cx="429.9" cy="289.8" r="0.82"/><circle cx="421.5" cy="325.7" r="0.60"/><circle cx="433.2" cy="293.0" r="1.03"/><circle cx="436.7" cy="326.7" r="1.01"/></g></g><g filter="url(#bl)"><g fill="#6a6a6a" stroke="#3e3e3e" stroke-width="0.8"><circle cx="403.0" cy="320.0" r="2.91"/><circle cx="401.1" cy="314.8" r="3.15"/><circle cx="406.5" cy="293.8" r="3.00"/><circle cx="410.3" cy="290.1" r="2.09"/><circle cx="429.4" cy="283.5" r="2.82"/></g><g fill="#777" stroke="#3e3e3e" stroke-width="0.8"><circle cx="428.5" cy="335.5" r="2.70"/><circle cx="421.0" cy="334.3" r="2.21"/><circle cx="413.9" cy="331.3" r="2.89"/><circle cx="409.7" cy="328.4" r="2.02"/><circle cx="400.8" cy="306.0" r="2.21"/><circle cx="404.0" cy="297.3" r="2.19"/><circle cx="421.3" cy="284.7" r="2.90"/></g><g fill="#606060" stroke="#3e3e3e" stroke-width="0.8"><circle cx="416.0" cy="332.4" r="3.05"/><circle cx="406.8" cy="325.6" r="2.45"/><circle cx="400.6" cy="311.5" r="2.84"/><circle cx="402.1" cy="301.1" r="2.56"/><circle cx="414.8" cy="287.2" r="2.50"/><circle cx="417.1" cy="286.1" r="2.42"/></g></g></g><g clip-path="url(#c2)"><rect x="467.0" y="276.0" width="211.0" height="189.4" fill="url(#g2)"/><g fill="#555" opacity="0.5" filter="url(#bl3)"><circle cx="512.4" cy="334.7" r="9.01"/><circle cx="522.2" cy="389.8" r="8.97"/><circle cx="490.4" cy="388.1" r="7.39"/><circle cx="516.3" cy="383.3" r="8.58"/><circle cx="646.4" cy="407.9" r="9.39"/><circle cx="536.6" cy="397.5" r="7.94"/><circle cx="569.9" cy="449.4" r="7.63"/><circle cx="518.7" cy="398.7" r="9.77"/><circle cx="630.5" cy="347.9" r="8.42"/><circle cx="509.4" cy="412.2" r="6.19"/><circle cx="500.6" cy="336.2" r="5.11"/><circle cx="610.9" cy="348.4" r="5.77"/><circle cx="550.8" cy="359.5" r="5.10"/><circle cx="561.7" cy="449.7" r="5.55"/><circle cx="588.9" cy="420.9" r="8.84"/><circle cx="623.0" cy="373.1" r="6.17"/><circle cx="567.8" cy="413.9" r="6.54"/><circle cx="510.4" cy="313.7" r="9.29"/><circle cx="617.9" cy="406.2" r="5.84"/><circle cx="566.1" cy="399.4" r="8.96"/><circle cx="535.3" cy="357.6" r="9.84"/><circle cx="502.2" cy="329.0" r="5.44"/><circle cx="602.0" cy="348.4" r="9.75"/><circle cx="583.5" cy="364.7" r="7.72"/><circle cx="597.9" cy="452.6" r="8.60"/><circle cx="620.3" cy="347.7" r="5.82"/><circle cx="540.5" cy="388.6" r="6.95"/><circle cx="573.8" cy="311.1" r="7.57"/><circle cx="519.6" cy="341.0" r="6.84"/><circle cx="616.7" cy="415.7" r="8.82"/><circle cx="596.0" cy="425.9" r="8.50"/><circle cx="531.1" cy="342.4" r="6.57"/><circle cx="575.9" cy="369.6" r="7.05"/><circle cx="529.3" cy="322.8" r="7.23"/><circle cx="573.5" cy="292.4" r="9.18"/><circle cx="574.3" cy="411.9" r="5.31"/><circle cx="654.3" cy="363.8" r="5.60"/><circle cx="574.3" cy="377.0" r="7.18"/><circle cx="564.1" cy="312.1" r="8.59"/><circle cx="560.9" cy="381.1" r="5.93"/><circle cx="571.1" cy="439.1" r="9.53"/><circle cx="523.5" cy="440.2" r="7.46"/><circle cx="617.8" cy="394.4" r="8.70"/><circle cx="517.7" cy="361.4" r="9.36"/><circle cx="590.0" cy="452.4" r="6.35"/><circle cx="572.0" cy="425.7" r="5.85"/><circle cx="605.7" cy="357.0" r="6.91"/><circle cx="522.7" cy="370.6" r="6.84"/><circle cx="556.2" cy="436.0" r="6.60"/><circle cx="600.3" cy="325.3" r="9.38"/><circle cx="634.5" cy="366.3" r="8.19"/><circle cx="630.1" cy="386.2" r="5.29"/><circle cx="494.2" cy="395.5" r="5.47"/><circle cx="612.7" cy="383.7" r="6.49"/><circle cx="542.2" cy="364.6" r="8.17"/><circle cx="650.3" cy="395.5" r="6.30"/><circle cx="517.0" cy="421.0" r="9.45"/><circle cx="577.9" cy="385.3" r="6.17"/><circle cx="613.5" cy="424.2" r="7.00"/><circle cx="524.9" cy="331.9" r="6.27"/></g><g fill="#505050" opacity="0.5" filter="url(#bl)"><circle cx="666.1" cy="449.7" r="0.59"/><circle cx="591.9" cy="454.3" r="0.75"/><circle cx="479.7" cy="435.9" r="0.79"/><circle cx="603.6" cy="425.7" r="0.42"/><circle cx="568.7" cy="325.8" r="0.54"/><circle cx="525.7" cy="282.9" r="0.75"/><circle cx="593.4" cy="321.0" r="0.79"/><circle cx="622.7" cy="368.3" r="0.56"/><circle cx="620.5" cy="385.1" r="0.70"/><circle cx="499.2" cy="309.8" r="0.76"/><circle cx="521.7" cy="431.9" r="0.77"/><circle cx="569.6" cy="290.2" r="0.56"/><circle cx="599.6" cy="410.8" r="0.65"/><circle cx="631.0" cy="394.2" r="0.35"/><circle cx="657.7" cy="402.7" r="0.84"/><circle cx="667.3" cy="386.2" r="0.47"/><circle cx="551.7" cy="319.2" r="0.85"/><circle cx="467.2" cy="349.3" r="0.64"/><circle cx="594.6" cy="309.2" r="0.46"/><circle cx="587.6" cy="321.2" r="0.60"/><circle cx="605.5" cy="375.0" r="0.51"/><circle cx="541.0" cy="383.0" r="0.76"/><circle cx="566.4" cy="431.1" r="0.53"/><circle cx="616.1" cy="358.0" r="0.52"/><circle cx="533.6" cy="427.5" r="0.43"/><circle cx="588.3" cy="455.3" r="0.54"/><circle cx="523.3" cy="379.2" r="0.78"/><circle cx="513.8" cy="332.2" r="0.41"/><circle cx="478.9" cy="298.0" r="0.73"/><circle cx="533.2" cy="350.1" r="0.80"/><circle cx="523.2" cy="454.1" r="0.83"/><circle cx="558.4" cy="292.0" r="0.71"/><circle cx="550.5" cy="435.1" r="0.82"/><circle cx="477.5" cy="409.8" r="0.39"/><circle cx="503.5" cy="289.7" r="0.83"/><circle cx="481.7" cy="450.8" r="0.82"/><circle cx="625.3" cy="376.3" r="0.60"/><circle cx="477.9" cy="317.4" r="0.46"/><circle cx="629.3" cy="392.8" r="0.45"/><circle cx="531.8" cy="432.0" r="0.74"/><circle cx="470.1" cy="447.0" r="0.56"/><circle cx="578.4" cy="434.7" r="0.42"/><circle cx="518.4" cy="314.6" r="0.69"/><circle cx="524.9" cy="284.1" r="0.83"/><circle cx="572.0" cy="385.9" r="0.53"/><circle cx="677.2" cy="420.5" r="0.50"/><circle cx="544.0" cy="295.2" r="0.56"/><circle cx="665.4" cy="380.3" r="0.81"/><circle cx="507.4" cy="340.1" r="0.38"/><circle cx="608.6" cy="410.1" r="0.49"/><circle cx="484.8" cy="446.7" r="0.71"/><circle cx="491.4" cy="431.7" r="0.59"/><circle cx="632.1" cy="350.4" r="0.43"/><circle cx="595.2" cy="428.9" r="0.80"/><circle cx="561.2" cy="377.1" r="0.59"/><circle cx="624.4" cy="410.7" r="0.75"/><circle cx="620.6" cy="367.9" r="0.64"/><circle cx="505.4" cy="299.2" r="0.48"/><circle cx="667.0" cy="457.6" r="0.82"/><circle cx="570.6" cy="385.5" r="0.54"/><circle cx="674.3" cy="434.4" r="0.83"/><circle cx="477.1" cy="443.1" r="0.56"/><circle cx="499.5" cy="364.7" r="0.83"/><circle cx="635.2" cy="359.4" r="0.52"/><circle cx="468.9" cy="381.1" r="0.53"/><circle cx="562.4" cy="371.9" r="0.74"/><circle cx="524.1" cy="303.1" r="0.44"/><circle cx="595.8" cy="433.3" r="0.69"/><circle cx="502.1" cy="285.2" r="0.38"/><circle cx="468.7" cy="315.8" r="0.41"/><circle cx="556.5" cy="443.9" r="0.71"/><circle cx="549.1" cy="433.9" r="0.73"/><circle cx="512.2" cy="421.7" r="0.59"/><circle cx="550.7" cy="385.0" r="0.44"/><circle cx="502.5" cy="345.0" r="0.59"/><circle cx="476.6" cy="303.6" r="0.79"/><circle cx="586.7" cy="283.1" r="0.79"/><circle cx="584.8" cy="284.9" r="0.53"/><circle cx="539.0" cy="390.1" r="0.38"/><circle cx="581.0" cy="369.2" r="0.66"/><circle cx="620.5" cy="400.1" r="0.53"/><circle cx="534.6" cy="391.0" r="0.45"/><circle cx="611.2" cy="399.6" r="0.43"/><circle cx="615.6" cy="459.9" r="0.59"/><circle cx="630.5" cy="414.6" r="0.75"/><circle cx="659.3" cy="465.4" r="0.67"/><circle cx="518.5" cy="302.9" r="0.50"/><circle cx="573.0" cy="321.1" r="0.54"/><circle cx="564.0" cy="406.4" r="0.47"/><circle cx="538.5" cy="386.6" r="0.77"/><circle cx="677.7" cy="372.6" r="0.48"/><circle cx="540.0" cy="383.4" r="0.47"/><circle cx="570.8" cy="379.8" r="0.38"/><circle cx="597.7" cy="355.2" r="0.52"/><circle cx="570.5" cy="363.7" r="0.43"/><circle cx="544.3" cy="294.9" r="0.41"/><circle cx="526.8" cy="366.8" r="0.44"/><circle cx="555.7" cy="358.2" r="0.58"/><circle cx="604.8" cy="355.2" r="0.51"/><circle cx="518.1" cy="378.6" r="0.50"/><circle cx="611.0" cy="381.6" r="0.52"/><circle cx="487.8" cy="430.1" r="0.82"/><circle cx="558.4" cy="453.6" r="0.48"/><circle cx="505.0" cy="452.6" r="0.84"/><circle cx="564.6" cy="394.3" r="0.83"/><circle cx="529.9" cy="346.2" r="0.41"/><circle cx="567.0" cy="280.6" r="0.81"/><circle cx="509.1" cy="426.5" r="0.48"/><circle cx="602.9" cy="436.2" r="0.62"/><circle cx="628.8" cy="399.0" r="0.41"/><circle cx="559.7" cy="353.5" r="0.76"/><circle cx="541.0" cy="450.9" r="0.40"/><circle cx="470.1" cy="436.5" r="0.77"/><circle cx="607.1" cy="444.3" r="0.58"/><circle cx="501.3" cy="443.0" r="0.37"/><circle cx="648.3" cy="461.1" r="0.59"/><circle cx="496.2" cy="455.0" r="0.82"/><circle cx="503.7" cy="345.7" r="0.36"/><circle cx="486.1" cy="435.2" r="0.72"/><circle cx="564.8" cy="323.6" r="0.77"/><circle cx="537.6" cy="405.6" r="0.65"/><circle cx="497.5" cy="450.6" r="0.80"/><circle cx="631.3" cy="395.4" r="0.83"/><circle cx="589.4" cy="432.8" r="0.67"/><circle cx="512.6" cy="309.3" r="0.67"/><circle cx="604.9" cy="369.8" r="0.83"/><circle cx="487.6" cy="428.2" r="0.63"/><circle cx="589.1" cy="325.7" r="0.71"/><circle cx="523.7" cy="333.7" r="0.70"/><circle cx="660.9" cy="361.9" r="0.83"/><circle cx="500.7" cy="401.0" r="0.57"/><circle cx="527.4" cy="398.8" r="0.63"/><circle cx="662.1" cy="388.7" r="0.74"/><circle cx="494.7" cy="284.6" r="0.53"/><circle cx="608.9" cy="415.1" r="0.40"/><circle cx="533.6" cy="289.7" r="0.69"/><circle cx="541.2" cy="343.7" r="0.82"/><circle cx="641.2" cy="351.0" r="0.43"/><circle cx="489.8" cy="326.5" r="0.43"/><circle cx="594.5" cy="460.0" r="0.80"/><circle cx="491.6" cy="354.2" r="0.61"/><circle cx="561.9" cy="319.8" r="0.85"/><circle cx="625.9" cy="436.1" r="0.71"/><circle cx="552.0" cy="283.8" r="0.48"/><circle cx="576.6" cy="441.4" r="0.66"/><circle cx="631.2" cy="383.5" r="0.82"/><circle cx="537.0" cy="402.4" r="0.56"/><circle cx="657.6" cy="416.2" r="0.81"/><circle cx="468.9" cy="379.5" r="0.72"/><circle cx="475.5" cy="309.8" r="0.56"/><circle cx="592.0" cy="291.4" r="0.52"/><circle cx="578.4" cy="358.6" r="0.69"/><circle cx="655.9" cy="399.2" r="0.78"/><circle cx="537.3" cy="405.8" r="0.51"/><circle cx="565.6" cy="282.6" r="0.67"/><circle cx="596.2" cy="330.9" r="0.74"/><circle cx="605.4" cy="412.8" r="0.53"/><circle cx="576.7" cy="417.4" r="0.46"/><circle cx="550.0" cy="385.9" r="0.65"/><circle cx="570.0" cy="430.2" r="0.79"/><circle cx="583.3" cy="287.2" r="0.81"/><circle cx="555.1" cy="406.4" r="0.45"/><circle cx="479.9" cy="444.7" r="0.40"/><circle cx="539.1" cy="304.2" r="0.57"/><circle cx="567.4" cy="396.2" r="0.69"/><circle cx="552.7" cy="385.2" r="0.60"/><circle cx="517.1" cy="306.8" r="0.50"/><circle cx="574.1" cy="442.1" r="0.59"/><circle cx="571.4" cy="452.9" r="0.44"/><circle cx="607.3" cy="370.0" r="0.41"/><circle cx="501.1" cy="378.4" r="0.61"/><circle cx="494.4" cy="280.4" r="0.85"/><circle cx="652.9" cy="422.2" r="0.51"/><circle cx="576.9" cy="416.9" r="0.63"/><circle cx="554.9" cy="320.5" r="0.52"/><circle cx="639.4" cy="414.8" r="0.41"/><circle cx="571.5" cy="292.1" r="0.36"/><circle cx="599.8" cy="349.2" r="0.66"/><circle cx="666.1" cy="383.6" r="0.41"/><circle cx="578.9" cy="453.0" r="0.81"/><circle cx="544.0" cy="452.3" r="0.51"/><circle cx="524.2" cy="424.0" r="0.36"/><circle cx="600.8" cy="396.4" r="0.69"/><circle cx="603.2" cy="446.5" r="0.64"/><circle cx="634.2" cy="375.5" r="0.64"/><circle cx="669.2" cy="446.7" r="0.81"/><circle cx="601.0" cy="448.3" r="0.37"/><circle cx="501.6" cy="285.0" r="0.63"/><circle cx="630.8" cy="394.0" r="0.76"/><circle cx="571.9" cy="282.5" r="0.61"/><circle cx="660.3" cy="463.0" r="0.72"/><circle cx="627.8" cy="389.4" r="0.59"/><circle cx="544.5" cy="445.9" r="0.76"/><circle cx="470.4" cy="394.4" r="0.41"/><circle cx="525.8" cy="366.1" r="0.79"/><circle cx="544.9" cy="414.8" r="0.68"/><circle cx="561.0" cy="376.7" r="0.72"/><circle cx="653.3" cy="432.1" r="0.50"/><circle cx="507.7" cy="422.9" r="0.42"/><circle cx="555.0" cy="411.6" r="0.51"/><circle cx="515.2" cy="413.0" r="0.57"/><circle cx="500.2" cy="399.4" r="0.40"/><circle cx="472.0" cy="440.7" r="0.54"/><circle cx="502.9" cy="321.6" r="0.53"/><circle cx="480.4" cy="444.6" r="0.66"/><circle cx="542.1" cy="438.0" r="0.74"/><circle cx="597.4" cy="338.4" r="0.85"/><circle cx="585.1" cy="325.0" r="0.72"/><circle cx="612.2" cy="406.9" r="0.60"/><circle cx="660.0" cy="451.5" r="0.38"/><circle cx="559.1" cy="279.9" r="0.54"/><circle cx="555.4" cy="395.2" r="0.67"/><circle cx="498.6" cy="437.8" r="0.61"/><circle cx="499.7" cy="278.0" r="0.39"/><circle cx="523.2" cy="286.7" r="0.52"/><circle cx="509.5" cy="460.8" r="0.84"/><circle cx="501.1" cy="297.5" r="0.77"/><circle cx="510.0" cy="289.2" r="0.46"/><circle cx="656.4" cy="364.1" r="0.53"/><circle cx="573.9" cy="345.4" r="0.83"/><circle cx="467.1" cy="332.2" r="0.47"/><circle cx="664.9" cy="377.2" r="0.40"/><circle cx="572.0" cy="349.3" r="0.44"/><circle cx="508.6" cy="386.4" r="0.64"/><circle cx="574.9" cy="432.5" r="0.69"/><circle cx="516.0" cy="306.3" r="0.58"/><circle cx="650.3" cy="386.8" r="0.42"/><circle cx="567.8" cy="368.2" r="0.38"/><circle cx="597.9" cy="286.4" r="0.53"/><circle cx="666.7" cy="372.4" r="0.65"/><circle cx="649.0" cy="452.6" r="0.45"/><circle cx="599.4" cy="373.2" r="0.40"/><circle cx="573.5" cy="329.0" r="0.55"/><circle cx="510.3" cy="329.4" r="0.70"/><circle cx="548.2" cy="433.9" r="0.55"/><circle cx="552.6" cy="320.2" r="0.77"/><circle cx="639.4" cy="397.9" r="0.40"/><circle cx="474.0" cy="449.0" r="0.54"/><circle cx="491.6" cy="436.0" r="0.75"/><circle cx="519.7" cy="381.8" r="0.62"/><circle cx="630.1" cy="405.8" r="0.78"/><circle cx="493.2" cy="402.6" r="0.57"/><circle cx="547.8" cy="370.8" r="0.62"/><circle cx="552.6" cy="311.5" r="0.78"/><circle cx="591.1" cy="396.0" r="0.63"/><circle cx="475.2" cy="420.6" r="0.57"/><circle cx="560.6" cy="376.9" r="0.43"/><circle cx="479.9" cy="407.7" r="0.62"/><circle cx="663.6" cy="426.5" r="0.82"/><circle cx="470.0" cy="418.2" r="0.75"/><circle cx="481.3" cy="419.9" r="0.79"/><circle cx="640.7" cy="379.0" r="0.38"/><circle cx="467.0" cy="445.5" r="0.50"/><circle cx="476.2" cy="450.2" r="0.82"/><circle cx="512.5" cy="283.7" r="0.67"/><circle cx="577.3" cy="326.5" r="0.80"/><circle cx="623.7" cy="410.2" r="0.38"/><circle cx="500.3" cy="451.4" r="0.78"/><circle cx="617.2" cy="401.6" r="0.45"/><circle cx="632.6" cy="362.0" r="0.85"/><circle cx="524.8" cy="304.9" r="0.39"/><circle cx="531.3" cy="389.9" r="0.72"/><circle cx="650.4" cy="378.6" r="0.49"/><circle cx="469.2" cy="339.9" r="0.66"/><circle cx="521.1" cy="396.6" r="0.47"/><circle cx="602.6" cy="392.2" r="0.49"/><circle cx="625.2" cy="372.3" r="0.51"/><circle cx="558.6" cy="428.5" r="0.51"/><circle cx="513.0" cy="368.5" r="0.56"/><circle cx="499.9" cy="412.4" r="0.70"/><circle cx="643.9" cy="450.6" r="0.66"/><circle cx="504.4" cy="337.1" r="0.69"/><circle cx="628.7" cy="403.6" r="0.50"/><circle cx="583.0" cy="346.1" r="0.69"/><circle cx="471.7" cy="408.5" r="0.51"/><circle cx="651.7" cy="441.9" r="0.68"/><circle cx="642.7" cy="451.6" r="0.52"/><circle cx="518.5" cy="323.6" r="0.78"/><circle cx="530.3" cy="397.1" r="0.56"/><circle cx="675.8" cy="430.7" r="0.42"/><circle cx="589.9" cy="424.0" r="0.83"/><circle cx="500.4" cy="438.9" r="0.42"/><circle cx="482.7" cy="458.0" r="0.76"/><circle cx="599.9" cy="402.1" r="0.81"/><circle cx="529.5" cy="291.7" r="0.53"/><circle cx="536.8" cy="402.9" r="0.38"/><circle cx="516.2" cy="333.7" r="0.37"/><circle cx="504.4" cy="374.3" r="0.79"/><circle cx="579.0" cy="439.4" r="0.78"/><circle cx="501.3" cy="362.4" r="0.84"/><circle cx="505.3" cy="345.1" r="0.81"/><circle cx="497.6" cy="450.4" r="0.35"/><circle cx="581.4" cy="322.8" r="0.40"/><circle cx="634.7" cy="387.2" r="0.57"/><circle cx="565.1" cy="457.8" r="0.36"/><circle cx="590.2" cy="319.3" r="0.52"/><circle cx="571.5" cy="423.3" r="0.46"/><circle cx="546.4" cy="355.8" r="0.77"/><circle cx="565.9" cy="397.4" r="0.82"/><circle cx="631.3" cy="460.0" r="0.83"/><circle cx="477.3" cy="347.3" r="0.58"/><circle cx="469.9" cy="363.8" r="0.37"/><circle cx="535.7" cy="378.1" r="0.36"/><circle cx="628.6" cy="462.4" r="0.79"/><circle cx="605.8" cy="460.0" r="0.45"/><circle cx="507.1" cy="294.2" r="0.72"/><circle cx="538.7" cy="393.3" r="0.40"/><circle cx="542.6" cy="404.7" r="0.67"/><circle cx="553.7" cy="360.1" r="0.82"/><circle cx="596.3" cy="402.5" r="0.43"/><circle cx="503.4" cy="303.1" r="0.83"/><circle cx="590.2" cy="419.6" r="0.85"/><circle cx="542.4" cy="357.4" r="0.70"/><circle cx="549.3" cy="356.5" r="0.49"/><circle cx="548.6" cy="415.4" r="0.83"/><circle cx="498.3" cy="387.1" r="0.60"/><circle cx="521.3" cy="283.1" r="0.49"/><circle cx="499.5" cy="421.1" r="0.40"/><circle cx="530.3" cy="402.7" r="0.69"/><circle cx="588.2" cy="295.9" r="0.38"/></g><g filter="url(#bl2)" opacity="0.85"><g fill="#3e3e3e" ><circle cx="630.2" cy="375.7" r="2.11"/><circle cx="602.4" cy="378.8" r="3.16"/><circle cx="555.4" cy="308.1" r="2.61"/><circle cx="614.9" cy="351.8" r="3.29"/><circle cx="562.6" cy="399.8" r="3.20"/><circle cx="523.7" cy="303.5" r="3.20"/><circle cx="547.3" cy="461.9" r="3.34"/><circle cx="536.4" cy="374.2" r="2.44"/><circle cx="574.8" cy="460.1" r="2.32"/><circle cx="497.2" cy="417.5" r="1.69"/><circle cx="543.4" cy="283.1" r="3.09"/><circle cx="573.3" cy="274.9" r="2.37"/><circle cx="512.8" cy="349.0" r="2.80"/><circle cx="562.3" cy="413.3" r="2.68"/><circle cx="526.0" cy="334.1" r="3.14"/><circle cx="616.0" cy="418.6" r="1.92"/><circle cx="576.3" cy="384.5" r="2.14"/><circle cx="601.0" cy="352.1" r="2.07"/><circle cx="494.5" cy="404.3" r="1.63"/><circle cx="519.2" cy="325.3" r="3.22"/><circle cx="593.4" cy="406.0" r="2.42"/><circle cx="622.6" cy="386.2" r="3.30"/><circle cx="543.3" cy="294.0" r="3.28"/><circle cx="491.2" cy="359.5" r="2.86"/><circle cx="576.9" cy="370.2" r="2.69"/><circle cx="536.0" cy="393.9" r="2.83"/><circle cx="553.5" cy="352.0" r="1.74"/><circle cx="530.7" cy="377.3" r="2.02"/><circle cx="638.6" cy="380.9" r="3.27"/><circle cx="483.1" cy="378.3" r="2.41"/><circle cx="628.7" cy="389.5" r="3.25"/><circle cx="527.6" cy="292.3" r="1.94"/><circle cx="575.7" cy="339.0" r="2.03"/><circle cx="562.1" cy="417.9" r="2.65"/><circle cx="586.3" cy="368.7" r="2.26"/><circle cx="516.1" cy="438.7" r="1.94"/><circle cx="606.2" cy="364.0" r="2.37"/><circle cx="668.9" cy="410.7" r="3.03"/><circle cx="573.7" cy="380.5" r="1.64"/><circle cx="609.6" cy="397.5" r="3.06"/><circle cx="569.8" cy="383.6" r="3.33"/><circle cx="511.6" cy="431.8" r="1.91"/><circle cx="579.0" cy="418.2" r="2.82"/><circle cx="553.9" cy="377.5" r="2.88"/><circle cx="502.2" cy="435.3" r="2.82"/><circle cx="552.6" cy="456.8" r="2.02"/><circle cx="591.6" cy="356.0" r="2.33"/><circle cx="619.8" cy="414.1" r="2.05"/><circle cx="580.3" cy="349.2" r="2.14"/><circle cx="548.6" cy="304.1" r="3.24"/><circle cx="515.2" cy="378.4" r="1.63"/><circle cx="605.3" cy="275.2" r="1.97"/><circle cx="559.2" cy="365.8" r="2.63"/><circle cx="655.5" cy="361.1" r="1.61"/><circle cx="520.3" cy="374.0" r="3.02"/><circle cx="647.4" cy="367.6" r="2.32"/><circle cx="563.4" cy="342.4" r="2.48"/><circle cx="523.2" cy="402.3" r="2.31"/><circle cx="583.6" cy="417.7" r="3.28"/><circle cx="612.8" cy="424.8" r="2.53"/><circle cx="586.5" cy="341.9" r="2.27"/><circle cx="546.1" cy="427.9" r="3.19"/><circle cx="563.4" cy="368.5" r="3.25"/><circle cx="543.7" cy="418.4" r="1.91"/><circle cx="615.7" cy="405.4" r="2.01"/><circle cx="541.6" cy="439.5" r="3.04"/><circle cx="575.0" cy="328.3" r="2.64"/><circle cx="648.4" cy="372.9" r="2.80"/><circle cx="623.6" cy="368.0" r="1.80"/><circle cx="596.7" cy="359.7" r="2.91"/><circle cx="588.8" cy="360.4" r="2.10"/><circle cx="512.3" cy="307.4" r="2.66"/><circle cx="494.9" cy="321.6" r="3.32"/><circle cx="557.1" cy="350.8" r="2.49"/><circle cx="555.7" cy="397.1" r="1.96"/><circle cx="531.6" cy="451.4" r="2.76"/><circle cx="614.1" cy="375.2" r="2.77"/><circle cx="601.1" cy="311.6" r="1.61"/><circle cx="580.4" cy="426.4" r="2.92"/><circle cx="573.7" cy="314.7" r="2.49"/><circle cx="552.1" cy="428.6" r="2.40"/><circle cx="559.4" cy="360.8" r="2.66"/><circle cx="525.1" cy="362.4" r="3.09"/><circle cx="644.2" cy="372.5" r="2.35"/><circle cx="558.5" cy="301.4" r="2.16"/><circle cx="502.0" cy="323.1" r="2.01"/><circle cx="593.0" cy="394.1" r="2.45"/><circle cx="536.7" cy="292.1" r="2.29"/><circle cx="591.5" cy="340.4" r="3.15"/><circle cx="610.9" cy="403.0" r="2.05"/><circle cx="646.2" cy="431.8" r="3.29"/><circle cx="570.6" cy="320.2" r="3.32"/><circle cx="520.5" cy="335.3" r="1.86"/><circle cx="540.6" cy="360.4" r="2.35"/><circle cx="534.6" cy="399.4" r="1.82"/><circle cx="616.5" cy="434.8" r="2.69"/><circle cx="482.1" cy="368.7" r="1.67"/><circle cx="619.1" cy="398.2" r="2.51"/><circle cx="529.0" cy="371.9" r="1.87"/><circle cx="567.0" cy="359.4" r="3.11"/><circle cx="570.2" cy="407.1" r="1.62"/><circle cx="582.9" cy="275.1" r="3.02"/><circle cx="577.3" cy="398.1" r="2.06"/><circle cx="601.0" cy="338.6" r="2.58"/><circle cx="532.0" cy="360.2" r="2.63"/><circle cx="637.9" cy="395.6" r="1.87"/><circle cx="523.8" cy="377.4" r="1.90"/><circle cx="590.3" cy="352.4" r="2.51"/><circle cx="508.5" cy="330.4" r="1.65"/><circle cx="591.8" cy="381.5" r="2.22"/><circle cx="573.5" cy="353.1" r="1.69"/><circle cx="635.3" cy="351.8" r="2.01"/></g><g fill="#484848" ><circle cx="589.8" cy="330.8" r="2.27"/><circle cx="624.3" cy="392.9" r="3.30"/><circle cx="564.5" cy="309.7" r="2.01"/><circle cx="536.1" cy="419.7" r="2.22"/><circle cx="605.8" cy="464.0" r="2.15"/><circle cx="564.0" cy="323.1" r="2.99"/><circle cx="536.9" cy="308.6" r="2.35"/><circle cx="636.0" cy="357.4" r="1.61"/><circle cx="625.4" cy="430.9" r="2.98"/><circle cx="561.7" cy="328.8" r="3.37"/><circle cx="614.9" cy="386.8" r="2.49"/><circle cx="587.5" cy="381.6" r="2.16"/><circle cx="538.3" cy="408.2" r="3.30"/><circle cx="592.5" cy="313.6" r="1.85"/><circle cx="593.7" cy="281.5" r="2.68"/><circle cx="584.2" cy="331.3" r="2.58"/><circle cx="589.6" cy="389.8" r="3.06"/><circle cx="560.3" cy="345.1" r="2.35"/><circle cx="507.0" cy="321.5" r="2.36"/><circle cx="596.5" cy="356.1" r="2.06"/><circle cx="497.0" cy="399.7" r="3.11"/><circle cx="531.5" cy="300.0" r="3.20"/><circle cx="524.0" cy="451.5" r="2.53"/><circle cx="562.9" cy="437.9" r="3.25"/><circle cx="506.5" cy="362.4" r="3.19"/><circle cx="622.4" cy="422.4" r="2.49"/><circle cx="567.9" cy="371.2" r="2.44"/><circle cx="624.6" cy="353.8" r="3.15"/><circle cx="549.1" cy="333.0" r="2.51"/><circle cx="537.6" cy="436.5" r="2.44"/><circle cx="577.4" cy="317.0" r="3.30"/><circle cx="514.2" cy="332.5" r="2.23"/><circle cx="508.5" cy="405.4" r="2.83"/><circle cx="524.7" cy="370.4" r="3.06"/><circle cx="499.4" cy="374.2" r="3.29"/><circle cx="608.0" cy="405.2" r="2.03"/><circle cx="599.7" cy="305.4" r="2.99"/><circle cx="609.3" cy="378.8" r="3.11"/><circle cx="514.2" cy="338.6" r="1.73"/><circle cx="570.9" cy="361.6" r="2.86"/><circle cx="488.5" cy="371.8" r="2.69"/><circle cx="535.8" cy="327.4" r="1.83"/><circle cx="600.9" cy="328.8" r="1.61"/><circle cx="543.7" cy="398.5" r="2.32"/><circle cx="595.0" cy="343.2" r="2.76"/><circle cx="604.5" cy="455.0" r="2.47"/><circle cx="578.7" cy="288.7" r="2.79"/><circle cx="564.4" cy="376.9" r="2.00"/><circle cx="530.4" cy="327.9" r="2.43"/><circle cx="511.2" cy="436.7" r="2.88"/><circle cx="553.7" cy="419.3" r="1.71"/><circle cx="529.7" cy="424.8" r="2.10"/><circle cx="650.7" cy="348.3" r="2.99"/><circle cx="522.3" cy="358.5" r="2.70"/><circle cx="529.8" cy="283.5" r="1.61"/><circle cx="507.3" cy="445.7" r="2.34"/><circle cx="640.8" cy="359.8" r="2.43"/><circle cx="536.3" cy="282.1" r="2.89"/><circle cx="582.8" cy="319.7" r="2.60"/><circle cx="581.6" cy="313.5" r="2.15"/><circle cx="611.9" cy="445.7" r="2.90"/><circle cx="561.9" cy="395.5" r="2.94"/><circle cx="666.8" cy="365.1" r="1.61"/><circle cx="508.2" cy="356.0" r="2.46"/><circle cx="538.4" cy="311.9" r="1.76"/><circle cx="567.9" cy="314.4" r="1.91"/><circle cx="501.6" cy="403.6" r="2.64"/><circle cx="535.6" cy="462.9" r="2.41"/><circle cx="602.5" cy="399.7" r="1.71"/><circle cx="507.2" cy="399.1" r="2.67"/><circle cx="570.0" cy="329.3" r="2.64"/><circle cx="551.4" cy="315.1" r="2.61"/><circle cx="591.0" cy="368.4" r="2.45"/><circle cx="519.4" cy="437.1" r="2.61"/><circle cx="513.8" cy="384.9" r="1.64"/><circle cx="619.1" cy="443.1" r="3.07"/><circle cx="549.0" cy="361.7" r="3.23"/><circle cx="548.1" cy="374.3" r="2.80"/><circle cx="563.4" cy="463.1" r="1.63"/><circle cx="602.5" cy="390.6" r="2.45"/><circle cx="524.8" cy="383.2" r="1.67"/><circle cx="598.3" cy="464.9" r="2.14"/><circle cx="516.7" cy="428.9" r="2.00"/><circle cx="531.5" cy="290.9" r="2.68"/><circle cx="501.1" cy="332.3" r="1.89"/><circle cx="589.8" cy="451.3" r="1.60"/><circle cx="512.8" cy="444.4" r="1.68"/><circle cx="650.5" cy="354.9" r="2.03"/><circle cx="647.7" cy="377.9" r="3.11"/><circle cx="490.3" cy="399.9" r="3.30"/><circle cx="490.5" cy="375.3" r="1.66"/><circle cx="493.4" cy="383.0" r="2.09"/><circle cx="554.1" cy="452.0" r="2.63"/><circle cx="613.2" cy="348.5" r="1.73"/><circle cx="564.2" cy="352.9" r="1.61"/><circle cx="531.7" cy="353.0" r="1.94"/><circle cx="622.4" cy="360.3" r="1.87"/><circle cx="498.7" cy="362.6" r="2.70"/><circle cx="613.2" cy="367.2" r="2.97"/><circle cx="635.4" cy="388.7" r="3.30"/><circle cx="594.4" cy="348.0" r="1.89"/><circle cx="511.9" cy="363.1" r="2.32"/><circle cx="638.4" cy="456.1" r="2.16"/><circle cx="589.6" cy="413.9" r="2.94"/><circle cx="579.3" cy="393.0" r="1.79"/><circle cx="592.9" cy="447.7" r="2.79"/><circle cx="524.3" cy="297.0" r="2.57"/><circle cx="661.4" cy="387.6" r="2.69"/><circle cx="589.9" cy="321.1" r="3.35"/><circle cx="588.9" cy="420.2" r="2.24"/><circle cx="597.8" cy="414.1" r="2.23"/><circle cx="616.3" cy="395.6" r="2.28"/><circle cx="522.2" cy="405.6" r="1.95"/><circle cx="511.3" cy="416.5" r="2.68"/><circle cx="594.7" cy="328.8" r="3.09"/><circle cx="565.4" cy="415.8" r="2.77"/><circle cx="506.7" cy="395.0" r="2.69"/><circle cx="528.5" cy="356.2" r="2.18"/><circle cx="592.5" cy="418.1" r="1.66"/></g><g fill="#545454" ><circle cx="547.0" cy="341.9" r="3.07"/><circle cx="494.2" cy="420.1" r="2.04"/><circle cx="599.4" cy="452.8" r="2.07"/><circle cx="555.9" cy="394.3" r="1.99"/><circle cx="542.3" cy="300.4" r="1.64"/><circle cx="516.1" cy="311.3" r="2.46"/><circle cx="517.7" cy="297.6" r="2.21"/><circle cx="505.0" cy="372.0" r="1.94"/><circle cx="562.7" cy="407.0" r="3.17"/><circle cx="623.3" cy="348.5" r="2.34"/><circle cx="549.9" cy="277.6" r="2.10"/><circle cx="579.2" cy="366.2" r="2.56"/><circle cx="620.3" cy="364.6" r="2.41"/><circle cx="526.7" cy="351.5" r="3.32"/><circle cx="559.1" cy="289.0" r="2.29"/><circle cx="634.7" cy="411.7" r="1.87"/><circle cx="548.7" cy="349.5" r="2.24"/><circle cx="625.5" cy="373.6" r="2.95"/><circle cx="542.4" cy="445.6" r="3.11"/><circle cx="496.7" cy="338.2" r="2.59"/><circle cx="520.9" cy="413.3" r="3.25"/><circle cx="524.0" cy="429.4" r="3.02"/><circle cx="597.4" cy="393.5" r="3.36"/><circle cx="571.3" cy="447.2" r="3.25"/><circle cx="660.9" cy="406.6" r="2.58"/><circle cx="598.1" cy="365.8" r="2.57"/><circle cx="557.9" cy="296.0" r="3.38"/><circle cx="580.7" cy="371.8" r="2.69"/><circle cx="551.4" cy="436.0" r="2.19"/><circle cx="584.0" cy="374.2" r="2.44"/><circle cx="539.3" cy="417.1" r="3.20"/><circle cx="566.4" cy="350.2" r="2.37"/><circle cx="507.3" cy="341.9" r="2.37"/><circle cx="574.0" cy="291.1" r="1.93"/><circle cx="544.0" cy="403.4" r="3.12"/><circle cx="505.7" cy="386.9" r="2.99"/><circle cx="571.3" cy="344.6" r="2.42"/><circle cx="555.8" cy="422.3" r="1.97"/><circle cx="500.4" cy="420.6" r="2.48"/><circle cx="596.3" cy="387.4" r="1.93"/><circle cx="597.3" cy="317.7" r="1.87"/><circle cx="526.2" cy="345.9" r="3.10"/><circle cx="581.8" cy="400.4" r="3.11"/><circle cx="606.8" cy="393.2" r="1.77"/><circle cx="587.6" cy="307.1" r="2.66"/><circle cx="603.4" cy="348.6" r="2.54"/><circle cx="668.8" cy="403.3" r="1.99"/><circle cx="581.2" cy="447.8" r="2.00"/><circle cx="587.3" cy="376.5" r="1.85"/><circle cx="565.0" cy="286.1" r="1.95"/><circle cx="555.8" cy="431.2" r="2.47"/><circle cx="536.7" cy="367.0" r="1.82"/><circle cx="581.4" cy="344.2" r="2.77"/><circle cx="495.5" cy="387.5" r="2.10"/><circle cx="523.9" cy="441.3" r="2.41"/><circle cx="543.4" cy="423.4" r="1.94"/><circle cx="486.4" cy="380.7" r="2.76"/><circle cx="585.7" cy="392.8" r="1.77"/><circle cx="549.0" cy="400.2" r="2.91"/><circle cx="496.0" cy="378.2" r="2.14"/><circle cx="520.8" cy="444.5" r="1.85"/><circle cx="599.5" cy="286.1" r="2.54"/><circle cx="556.7" cy="316.8" r="1.88"/><circle cx="579.6" cy="383.3" r="2.17"/><circle cx="579.7" cy="362.1" r="1.65"/><circle cx="630.4" cy="358.1" r="3.02"/><circle cx="594.7" cy="297.8" r="1.99"/><circle cx="487.8" cy="365.2" r="3.03"/><circle cx="627.1" cy="383.8" r="1.99"/><circle cx="516.1" cy="434.3" r="1.69"/><circle cx="574.2" cy="390.5" r="2.33"/><circle cx="549.4" cy="413.1" r="1.95"/><circle cx="593.9" cy="365.5" r="2.36"/><circle cx="521.3" cy="345.1" r="2.90"/><circle cx="584.0" cy="278.8" r="2.37"/><circle cx="537.0" cy="297.1" r="1.99"/><circle cx="499.6" cy="312.7" r="2.02"/><circle cx="579.1" cy="353.9" r="2.74"/><circle cx="604.5" cy="386.7" r="1.76"/><circle cx="534.1" cy="416.7" r="2.21"/><circle cx="541.6" cy="455.3" r="2.45"/><circle cx="578.9" cy="377.0" r="3.13"/><circle cx="570.9" cy="378.5" r="2.37"/><circle cx="573.5" cy="335.3" r="1.81"/><circle cx="544.5" cy="431.6" r="1.76"/><circle cx="587.4" cy="316.4" r="2.70"/><circle cx="503.4" cy="334.4" r="2.02"/><circle cx="528.2" cy="410.7" r="3.37"/><circle cx="553.3" cy="359.4" r="2.06"/><circle cx="592.7" cy="436.9" r="3.02"/><circle cx="599.1" cy="402.4" r="1.94"/><circle cx="580.5" cy="334.2" r="1.75"/><circle cx="511.2" cy="313.1" r="2.39"/><circle cx="610.8" cy="465.0" r="3.13"/><circle cx="533.9" cy="333.4" r="2.20"/><circle cx="524.1" cy="417.2" r="1.87"/><circle cx="522.1" cy="387.5" r="3.04"/><circle cx="583.9" cy="397.3" r="1.80"/><circle cx="600.6" cy="289.9" r="3.01"/><circle cx="533.2" cy="341.3" r="2.00"/><circle cx="559.1" cy="341.4" r="1.85"/><circle cx="501.7" cy="431.4" r="2.58"/><circle cx="585.7" cy="335.6" r="1.81"/><circle cx="490.0" cy="405.1" r="2.36"/><circle cx="614.2" cy="439.8" r="3.34"/><circle cx="597.8" cy="398.4" r="2.54"/><circle cx="558.9" cy="422.5" r="1.79"/><circle cx="502.6" cy="390.4" r="2.33"/></g><g fill="#606060" ><circle cx="559.6" cy="281.3" r="2.46"/><circle cx="573.3" cy="364.0" r="1.80"/><circle cx="566.5" cy="422.9" r="2.99"/><circle cx="599.3" cy="324.8" r="2.32"/><circle cx="585.5" cy="362.9" r="2.91"/><circle cx="509.3" cy="424.4" r="2.92"/><circle cx="566.5" cy="379.7" r="2.77"/><circle cx="600.5" cy="433.3" r="2.20"/><circle cx="579.1" cy="388.9" r="2.70"/><circle cx="628.0" cy="349.4" r="3.07"/><circle cx="540.1" cy="345.1" r="3.14"/><circle cx="663.6" cy="413.6" r="2.75"/><circle cx="628.6" cy="393.9" r="2.53"/><circle cx="595.8" cy="375.8" r="1.86"/><circle cx="618.2" cy="361.0" r="3.20"/><circle cx="516.4" cy="375.7" r="2.60"/><circle cx="538.5" cy="339.6" r="2.83"/><circle cx="528.5" cy="456.8" r="2.69"/><circle cx="508.7" cy="333.5" r="2.39"/><circle cx="575.6" cy="366.1" r="1.70"/><circle cx="522.7" cy="433.1" r="2.47"/><circle cx="578.9" cy="338.3" r="2.24"/><circle cx="554.5" cy="324.4" r="2.12"/><circle cx="572.0" cy="338.1" r="2.17"/><circle cx="549.6" cy="404.6" r="2.76"/><circle cx="583.8" cy="432.6" r="1.71"/><circle cx="522.4" cy="398.5" r="2.87"/><circle cx="505.1" cy="355.7" r="1.77"/><circle cx="500.6" cy="366.5" r="2.76"/><circle cx="593.3" cy="412.9" r="1.64"/><circle cx="573.3" cy="308.1" r="1.79"/><circle cx="582.1" cy="454.5" r="2.97"/><circle cx="560.1" cy="466.9" r="2.06"/><circle cx="542.3" cy="382.6" r="2.13"/><circle cx="559.7" cy="357.2" r="1.84"/><circle cx="549.4" cy="297.1" r="2.65"/><circle cx="489.9" cy="391.5" r="3.03"/><circle cx="541.9" cy="367.6" r="2.53"/><circle cx="570.2" cy="335.4" r="2.29"/><circle cx="566.7" cy="391.1" r="2.40"/><circle cx="601.1" cy="274.7" r="1.85"/><circle cx="514.4" cy="394.8" r="2.83"/><circle cx="503.5" cy="308.9" r="1.64"/><circle cx="558.5" cy="413.6" r="2.63"/><circle cx="548.0" cy="355.1" r="1.98"/><circle cx="574.1" cy="423.2" r="2.36"/><circle cx="640.1" cy="388.0" r="2.71"/><circle cx="631.8" cy="446.7" r="1.63"/><circle cx="589.0" cy="430.2" r="2.99"/><circle cx="528.9" cy="337.1" r="2.38"/><circle cx="570.3" cy="365.6" r="2.90"/><circle cx="501.8" cy="347.8" r="2.87"/><circle cx="560.8" cy="381.9" r="2.75"/><circle cx="516.0" cy="306.1" r="1.69"/><circle cx="603.1" cy="370.8" r="3.38"/><circle cx="602.2" cy="405.9" r="2.78"/><circle cx="577.7" cy="322.0" r="3.23"/><circle cx="505.7" cy="346.3" r="2.94"/><circle cx="513.7" cy="368.5" r="1.68"/><circle cx="603.9" cy="409.7" r="1.85"/><circle cx="492.2" cy="410.3" r="3.40"/><circle cx="496.6" cy="394.3" r="2.13"/><circle cx="543.0" cy="330.5" r="2.67"/><circle cx="571.5" cy="440.4" r="2.23"/><circle cx="578.5" cy="331.1" r="3.30"/><circle cx="596.5" cy="420.3" r="2.21"/><circle cx="515.9" cy="354.5" r="3.09"/><circle cx="569.3" cy="420.1" r="1.65"/><circle cx="559.6" cy="335.0" r="2.36"/><circle cx="551.9" cy="444.6" r="1.77"/><circle cx="571.5" cy="409.8" r="2.60"/><circle cx="486.0" cy="410.2" r="3.35"/><circle cx="571.7" cy="393.5" r="2.39"/><circle cx="553.0" cy="345.5" r="3.06"/><circle cx="572.4" cy="304.1" r="2.39"/><circle cx="527.9" cy="322.4" r="2.40"/><circle cx="608.2" cy="402.6" r="1.67"/><circle cx="675.6" cy="371.0" r="2.60"/><circle cx="630.3" cy="408.5" r="2.34"/><circle cx="508.0" cy="351.5" r="2.35"/><circle cx="544.6" cy="450.0" r="2.88"/><circle cx="635.0" cy="366.1" r="2.76"/><circle cx="573.6" cy="372.2" r="1.88"/><circle cx="632.3" cy="397.0" r="2.42"/><circle cx="559.1" cy="455.9" r="3.40"/><circle cx="584.9" cy="408.2" r="2.18"/><circle cx="583.1" cy="310.9" r="1.71"/><circle cx="551.5" cy="394.8" r="2.91"/><circle cx="511.1" cy="323.3" r="1.97"/><circle cx="521.5" cy="307.2" r="2.11"/><circle cx="591.1" cy="400.3" r="1.70"/><circle cx="491.2" cy="368.9" r="2.23"/><circle cx="584.1" cy="458.9" r="1.61"/><circle cx="567.0" cy="331.7" r="1.85"/><circle cx="589.1" cy="283.4" r="2.36"/><circle cx="545.0" cy="321.7" r="2.20"/><circle cx="525.1" cy="404.8" r="1.78"/><circle cx="541.2" cy="286.5" r="2.42"/><circle cx="600.0" cy="426.7" r="2.26"/><circle cx="612.5" cy="417.9" r="2.38"/><circle cx="585.2" cy="355.1" r="2.85"/><circle cx="560.8" cy="391.4" r="2.94"/><circle cx="598.1" cy="372.8" r="2.87"/><circle cx="576.4" cy="373.4" r="1.90"/><circle cx="539.4" cy="352.9" r="3.25"/><circle cx="610.3" cy="363.1" r="1.98"/><circle cx="589.3" cy="439.7" r="2.30"/><circle cx="603.4" cy="365.5" r="1.80"/><circle cx="544.2" cy="310.7" r="2.18"/><circle cx="587.5" cy="406.3" r="2.04"/><circle cx="627.6" cy="412.6" r="3.35"/><circle cx="603.3" cy="358.5" r="2.36"/><circle cx="615.5" cy="452.9" r="2.78"/><circle cx="561.6" cy="403.6" r="1.76"/><circle cx="606.2" cy="383.7" r="1.77"/><circle cx="582.6" cy="367.4" r="2.09"/><circle cx="623.0" cy="408.1" r="2.93"/><circle cx="620.5" cy="355.4" r="3.03"/><circle cx="571.5" cy="404.7" r="2.07"/><circle cx="509.6" cy="380.1" r="3.38"/><circle cx="674.0" cy="359.6" r="3.09"/><circle cx="542.2" cy="375.6" r="2.13"/><circle cx="484.4" cy="343.0" r="2.93"/><circle cx="516.9" cy="450.2" r="1.67"/><circle cx="561.8" cy="373.4" r="3.03"/><circle cx="494.4" cy="354.4" r="2.89"/><circle cx="514.7" cy="358.4" r="2.27"/><circle cx="568.5" cy="436.3" r="3.03"/><circle cx="641.6" cy="364.6" r="2.37"/><circle cx="573.1" cy="432.0" r="2.28"/><circle cx="547.6" cy="416.1" r="2.50"/><circle cx="558.8" cy="447.2" r="3.13"/><circle cx="508.5" cy="413.5" r="2.03"/><circle cx="565.6" cy="384.3" r="1.91"/><circle cx="493.3" cy="338.5" r="1.65"/><circle cx="602.3" cy="437.5" r="2.38"/><circle cx="522.8" cy="321.9" r="3.20"/><circle cx="525.0" cy="461.7" r="2.41"/></g></g><g filter="url(#bump)" opacity="0.7"><g fill="#4a4a4a" stroke="#3a3a3a" stroke-width="0.7"><circle cx="573.3" cy="364.0" r="1.80"/><circle cx="602.4" cy="378.8" r="3.16"/><circle cx="564.5" cy="309.7" r="2.01"/><circle cx="494.2" cy="420.1" r="2.04"/><circle cx="497.2" cy="417.5" r="1.69"/><circle cx="561.7" cy="328.8" r="3.37"/><circle cx="587.5" cy="381.6" r="2.16"/><circle cx="516.1" cy="311.3" r="2.46"/><circle cx="600.5" cy="433.3" r="2.20"/><circle cx="584.2" cy="331.3" r="2.58"/><circle cx="663.6" cy="413.6" r="2.75"/><circle cx="519.2" cy="325.3" r="3.22"/><circle cx="507.0" cy="321.5" r="2.36"/><circle cx="516.4" cy="375.7" r="2.60"/><circle cx="622.6" cy="386.2" r="3.30"/><circle cx="508.7" cy="333.5" r="2.39"/><circle cx="634.7" cy="411.7" r="1.87"/><circle cx="491.2" cy="359.5" r="2.86"/><circle cx="496.7" cy="338.2" r="2.59"/><circle cx="553.5" cy="352.0" r="1.74"/><circle cx="573.3" cy="308.1" r="1.79"/><circle cx="520.9" cy="413.3" r="3.25"/><circle cx="530.7" cy="377.3" r="2.02"/><circle cx="628.7" cy="389.5" r="3.25"/><circle cx="597.4" cy="393.5" r="3.36"/><circle cx="489.9" cy="391.5" r="3.03"/><circle cx="541.9" cy="367.6" r="2.53"/><circle cx="640.1" cy="388.0" r="2.71"/><circle cx="575.7" cy="339.0" r="2.03"/><circle cx="508.5" cy="405.4" r="2.83"/><circle cx="524.7" cy="370.4" r="3.06"/><circle cx="562.1" cy="417.9" r="2.65"/><circle cx="608.0" cy="405.2" r="2.03"/><circle cx="631.8" cy="446.7" r="1.63"/><circle cx="574.0" cy="291.1" r="1.93"/><circle cx="501.8" cy="347.8" r="2.87"/><circle cx="569.8" cy="383.6" r="3.33"/><circle cx="571.3" cy="344.6" r="2.42"/><circle cx="511.6" cy="431.8" r="1.91"/><circle cx="555.8" cy="422.3" r="1.97"/><circle cx="578.7" cy="288.7" r="2.79"/><circle cx="513.7" cy="368.5" r="1.68"/><circle cx="597.3" cy="317.7" r="1.87"/><circle cx="603.9" cy="409.7" r="1.85"/><circle cx="578.5" cy="331.1" r="3.30"/><circle cx="650.7" cy="348.3" r="2.99"/><circle cx="522.3" cy="358.5" r="2.70"/><circle cx="569.3" cy="420.1" r="1.65"/><circle cx="586.5" cy="341.9" r="2.27"/><circle cx="587.3" cy="376.5" r="1.85"/><circle cx="546.1" cy="427.9" r="3.19"/><circle cx="561.9" cy="395.5" r="2.94"/><circle cx="536.7" cy="367.0" r="1.82"/><circle cx="575.0" cy="328.3" r="2.64"/><circle cx="571.7" cy="393.5" r="2.39"/><circle cx="538.4" cy="311.9" r="1.76"/><circle cx="623.6" cy="368.0" r="1.80"/><circle cx="570.0" cy="329.3" r="2.64"/><circle cx="599.5" cy="286.1" r="2.54"/><circle cx="630.3" cy="408.5" r="2.34"/><circle cx="544.6" cy="450.0" r="2.88"/><circle cx="555.7" cy="397.1" r="1.96"/><circle cx="630.4" cy="358.1" r="3.02"/><circle cx="574.2" cy="390.5" r="2.33"/><circle cx="552.1" cy="428.6" r="2.40"/><circle cx="521.5" cy="307.2" r="2.11"/><circle cx="584.1" cy="458.9" r="1.61"/><circle cx="567.0" cy="331.7" r="1.85"/><circle cx="531.5" cy="290.9" r="2.68"/><circle cx="501.1" cy="332.3" r="1.89"/><circle cx="531.7" cy="353.0" r="1.94"/><circle cx="541.6" cy="455.3" r="2.45"/><circle cx="587.4" cy="316.4" r="2.70"/><circle cx="536.7" cy="292.1" r="2.29"/><circle cx="613.2" cy="367.2" r="2.97"/><circle cx="635.4" cy="388.7" r="3.30"/><circle cx="528.2" cy="410.7" r="3.37"/><circle cx="553.3" cy="359.4" r="2.06"/><circle cx="520.5" cy="335.3" r="1.86"/><circle cx="615.5" cy="452.9" r="2.78"/><circle cx="606.2" cy="383.7" r="1.77"/><circle cx="534.6" cy="399.4" r="1.82"/><circle cx="524.3" cy="297.0" r="2.57"/><circle cx="610.8" cy="465.0" r="3.13"/><circle cx="482.1" cy="368.7" r="1.67"/><circle cx="567.0" cy="359.4" r="3.11"/><circle cx="516.9" cy="450.2" r="1.67"/><circle cx="589.9" cy="321.1" r="3.35"/><circle cx="514.7" cy="358.4" r="2.27"/><circle cx="597.8" cy="414.1" r="2.23"/><circle cx="616.3" cy="395.6" r="2.28"/><circle cx="585.7" cy="335.6" r="1.81"/><circle cx="558.8" cy="447.2" r="3.13"/><circle cx="508.5" cy="330.4" r="1.65"/><circle cx="635.3" cy="351.8" r="2.01"/><circle cx="502.6" cy="390.4" r="2.33"/><circle cx="525.0" cy="461.7" r="2.41"/></g><g fill="#555" stroke="#3a3a3a" stroke-width="0.7"><circle cx="536.1" cy="419.7" r="2.22"/><circle cx="566.5" cy="422.9" r="2.99"/><circle cx="543.4" cy="283.1" r="3.09"/><circle cx="538.3" cy="408.2" r="3.30"/><circle cx="517.7" cy="297.6" r="2.21"/><circle cx="566.5" cy="379.7" r="2.77"/><circle cx="526.0" cy="334.1" r="3.14"/><circle cx="579.1" cy="388.9" r="2.70"/><circle cx="628.0" cy="349.4" r="3.07"/><circle cx="589.6" cy="389.8" r="3.06"/><circle cx="576.3" cy="384.5" r="2.14"/><circle cx="628.6" cy="393.9" r="2.53"/><circle cx="595.8" cy="375.8" r="1.86"/><circle cx="562.7" cy="407.0" r="3.17"/><circle cx="560.3" cy="345.1" r="2.35"/><circle cx="579.2" cy="366.2" r="2.56"/><circle cx="538.5" cy="339.6" r="2.83"/><circle cx="526.7" cy="351.5" r="3.32"/><circle cx="531.5" cy="300.0" r="3.20"/><circle cx="562.9" cy="437.9" r="3.25"/><circle cx="578.9" cy="338.3" r="2.24"/><circle cx="554.5" cy="324.4" r="2.12"/><circle cx="506.5" cy="362.4" r="3.19"/><circle cx="542.4" cy="445.6" r="3.11"/><circle cx="622.4" cy="422.4" r="2.49"/><circle cx="549.4" cy="297.1" r="2.65"/><circle cx="527.6" cy="292.3" r="1.94"/><circle cx="598.1" cy="365.8" r="2.57"/><circle cx="557.9" cy="296.0" r="3.38"/><circle cx="601.1" cy="274.7" r="1.85"/><circle cx="503.5" cy="308.9" r="1.64"/><circle cx="558.5" cy="413.6" r="2.63"/><circle cx="580.7" cy="371.8" r="2.69"/><circle cx="499.4" cy="374.2" r="3.29"/><circle cx="514.2" cy="338.6" r="1.73"/><circle cx="544.0" cy="403.4" r="3.12"/><circle cx="560.8" cy="381.9" r="2.75"/><circle cx="516.0" cy="306.1" r="1.69"/><circle cx="505.7" cy="386.9" r="2.99"/><circle cx="553.9" cy="377.5" r="2.88"/><circle cx="591.6" cy="356.0" r="2.33"/><circle cx="619.8" cy="414.1" r="2.05"/><circle cx="526.2" cy="345.9" r="3.10"/><circle cx="605.3" cy="275.2" r="1.97"/><circle cx="492.2" cy="410.3" r="3.40"/><circle cx="553.7" cy="419.3" r="1.71"/><circle cx="587.6" cy="307.1" r="2.66"/><circle cx="529.7" cy="424.8" r="2.10"/><circle cx="563.4" cy="342.4" r="2.48"/><circle cx="515.9" cy="354.5" r="3.09"/><circle cx="583.6" cy="417.7" r="3.28"/><circle cx="612.8" cy="424.8" r="2.53"/><circle cx="559.6" cy="335.0" r="2.36"/><circle cx="582.8" cy="319.7" r="2.60"/><circle cx="565.0" cy="286.1" r="1.95"/><circle cx="666.8" cy="365.1" r="1.61"/><circle cx="543.7" cy="418.4" r="1.91"/><circle cx="581.4" cy="344.2" r="2.77"/><circle cx="523.9" cy="441.3" r="2.41"/><circle cx="567.9" cy="314.4" r="1.91"/><circle cx="501.6" cy="403.6" r="2.64"/><circle cx="496.0" cy="378.2" r="2.14"/><circle cx="520.8" cy="444.5" r="1.85"/><circle cx="596.7" cy="359.7" r="2.91"/><circle cx="588.8" cy="360.4" r="2.10"/><circle cx="614.1" cy="375.2" r="2.77"/><circle cx="559.1" cy="455.9" r="3.40"/><circle cx="548.1" cy="374.3" r="2.80"/><circle cx="593.9" cy="365.5" r="2.36"/><circle cx="591.1" cy="400.3" r="1.70"/><circle cx="589.8" cy="451.3" r="1.60"/><circle cx="512.8" cy="444.4" r="1.68"/><circle cx="600.0" cy="426.7" r="2.26"/><circle cx="613.2" cy="348.5" r="1.73"/><circle cx="560.8" cy="391.4" r="2.94"/><circle cx="564.2" cy="352.9" r="1.61"/><circle cx="576.4" cy="373.4" r="1.90"/><circle cx="578.9" cy="377.0" r="3.13"/><circle cx="558.5" cy="301.4" r="2.16"/><circle cx="603.4" cy="365.5" r="1.80"/><circle cx="587.5" cy="406.3" r="2.04"/><circle cx="592.7" cy="436.9" r="3.02"/><circle cx="603.3" cy="358.5" r="2.36"/><circle cx="589.6" cy="413.9" r="2.94"/><circle cx="623.0" cy="408.1" r="2.93"/><circle cx="620.5" cy="355.4" r="3.03"/><circle cx="571.5" cy="404.7" r="2.07"/><circle cx="592.9" cy="447.7" r="2.79"/><circle cx="509.6" cy="380.1" r="3.38"/><circle cx="674.0" cy="359.6" r="3.09"/><circle cx="542.2" cy="375.6" r="2.13"/><circle cx="661.4" cy="387.6" r="2.69"/><circle cx="529.0" cy="371.9" r="1.87"/><circle cx="533.2" cy="341.3" r="2.00"/><circle cx="601.0" cy="338.6" r="2.58"/><circle cx="494.4" cy="354.4" r="2.89"/><circle cx="490.0" cy="405.1" r="2.36"/><circle cx="614.2" cy="439.8" r="3.34"/><circle cx="493.3" cy="338.5" r="1.65"/><circle cx="592.5" cy="418.1" r="1.66"/></g><g fill="#606060" stroke="#3a3a3a" stroke-width="0.7"><circle cx="589.8" cy="330.8" r="2.27"/><circle cx="630.2" cy="375.7" r="2.11"/><circle cx="624.3" cy="392.9" r="3.30"/><circle cx="599.3" cy="324.8" r="2.32"/><circle cx="564.0" cy="323.1" r="2.99"/><circle cx="536.9" cy="308.6" r="2.35"/><circle cx="574.8" cy="460.1" r="2.32"/><circle cx="585.5" cy="362.9" r="2.91"/><circle cx="512.8" cy="349.0" r="2.80"/><circle cx="562.3" cy="413.3" r="2.68"/><circle cx="505.0" cy="372.0" r="1.94"/><circle cx="623.3" cy="348.5" r="2.34"/><circle cx="494.5" cy="404.3" r="1.63"/><circle cx="593.4" cy="406.0" r="2.42"/><circle cx="618.2" cy="361.0" r="3.20"/><circle cx="596.5" cy="356.1" r="2.06"/><circle cx="497.0" cy="399.7" r="3.11"/><circle cx="575.6" cy="366.1" r="1.70"/><circle cx="524.0" cy="451.5" r="2.53"/><circle cx="522.7" cy="433.1" r="2.47"/><circle cx="549.6" cy="404.6" r="2.76"/><circle cx="576.9" cy="370.2" r="2.69"/><circle cx="505.1" cy="355.7" r="1.77"/><circle cx="536.0" cy="393.9" r="2.83"/><circle cx="483.1" cy="378.3" r="2.41"/><circle cx="567.9" cy="371.2" r="2.44"/><circle cx="514.2" cy="332.5" r="2.23"/><circle cx="668.9" cy="410.7" r="3.03"/><circle cx="584.0" cy="374.2" r="2.44"/><circle cx="599.7" cy="305.4" r="2.99"/><circle cx="570.9" cy="361.6" r="2.86"/><circle cx="566.4" cy="350.2" r="2.37"/><circle cx="528.9" cy="337.1" r="2.38"/><circle cx="488.5" cy="371.8" r="2.69"/><circle cx="500.4" cy="420.6" r="2.48"/><circle cx="604.5" cy="455.0" r="2.47"/><circle cx="505.7" cy="346.3" r="2.94"/><circle cx="552.6" cy="456.8" r="2.02"/><circle cx="580.3" cy="349.2" r="2.14"/><circle cx="511.2" cy="436.7" r="2.88"/><circle cx="668.8" cy="403.3" r="1.99"/><circle cx="523.2" cy="402.3" r="2.31"/><circle cx="571.5" cy="409.8" r="2.60"/><circle cx="615.7" cy="405.4" r="2.01"/><circle cx="648.4" cy="372.9" r="2.80"/><circle cx="508.2" cy="356.0" r="2.46"/><circle cx="495.5" cy="387.5" r="2.10"/><circle cx="572.4" cy="304.1" r="2.39"/><circle cx="486.4" cy="380.7" r="2.76"/><circle cx="549.0" cy="400.2" r="2.91"/><circle cx="602.5" cy="399.7" r="1.71"/><circle cx="507.2" cy="399.1" r="2.67"/><circle cx="579.6" cy="383.3" r="2.17"/><circle cx="579.7" cy="362.1" r="1.65"/><circle cx="512.3" cy="307.4" r="2.66"/><circle cx="573.6" cy="372.2" r="1.88"/><circle cx="627.1" cy="383.8" r="1.99"/><circle cx="601.1" cy="311.6" r="1.61"/><circle cx="519.4" cy="437.1" r="2.61"/><circle cx="619.1" cy="443.1" r="3.07"/><circle cx="573.7" cy="314.7" r="2.49"/><circle cx="584.9" cy="408.2" r="2.18"/><circle cx="559.4" cy="360.8" r="2.66"/><circle cx="524.8" cy="383.2" r="1.67"/><circle cx="598.3" cy="464.9" r="2.14"/><circle cx="545.0" cy="321.7" r="2.20"/><circle cx="525.1" cy="404.8" r="1.78"/><circle cx="650.5" cy="354.9" r="2.03"/><circle cx="490.5" cy="375.3" r="1.66"/><circle cx="579.1" cy="353.9" r="2.74"/><circle cx="585.2" cy="355.1" r="2.85"/><circle cx="644.2" cy="372.5" r="2.35"/><circle cx="598.1" cy="372.8" r="2.87"/><circle cx="534.1" cy="416.7" r="2.21"/><circle cx="570.9" cy="378.5" r="2.37"/><circle cx="544.5" cy="431.6" r="1.76"/><circle cx="593.0" cy="394.1" r="2.45"/><circle cx="610.9" cy="403.0" r="2.05"/><circle cx="646.2" cy="431.8" r="3.29"/><circle cx="589.3" cy="439.7" r="2.30"/><circle cx="561.6" cy="403.6" r="1.76"/><circle cx="579.3" cy="393.0" r="1.79"/><circle cx="580.5" cy="334.2" r="1.75"/><circle cx="511.2" cy="313.1" r="2.39"/><circle cx="524.1" cy="417.2" r="1.87"/><circle cx="570.2" cy="407.1" r="1.62"/><circle cx="577.3" cy="398.1" r="2.06"/><circle cx="588.9" cy="420.2" r="2.24"/><circle cx="637.9" cy="395.6" r="1.87"/><circle cx="506.7" cy="395.0" r="2.69"/><circle cx="590.3" cy="352.4" r="2.51"/><circle cx="573.5" cy="353.1" r="1.69"/><circle cx="558.9" cy="422.5" r="1.79"/></g><g fill="#6c6c6c" stroke="#3a3a3a" stroke-width="0.7"><circle cx="555.4" cy="308.1" r="2.61"/><circle cx="614.9" cy="351.8" r="3.29"/><circle cx="599.4" cy="452.8" r="2.07"/><circle cx="523.7" cy="303.5" r="3.20"/><circle cx="614.9" cy="386.8" r="2.49"/><circle cx="509.3" cy="424.4" r="2.92"/><circle cx="593.7" cy="281.5" r="2.68"/><circle cx="540.1" cy="345.1" r="3.14"/><circle cx="543.3" cy="294.0" r="3.28"/><circle cx="528.5" cy="456.8" r="2.69"/><circle cx="572.0" cy="338.1" r="2.17"/><circle cx="583.8" cy="432.6" r="1.71"/><circle cx="625.5" cy="373.6" r="2.95"/><circle cx="500.6" cy="366.5" r="2.76"/><circle cx="524.0" cy="429.4" r="3.02"/><circle cx="638.6" cy="380.9" r="3.27"/><circle cx="582.1" cy="454.5" r="2.97"/><circle cx="559.7" cy="357.2" r="1.84"/><circle cx="571.3" cy="447.2" r="3.25"/><circle cx="514.4" cy="394.8" r="2.83"/><circle cx="537.6" cy="436.5" r="2.44"/><circle cx="574.1" cy="423.2" r="2.36"/><circle cx="606.2" cy="364.0" r="2.37"/><circle cx="609.3" cy="378.8" r="3.11"/><circle cx="570.3" cy="365.6" r="2.90"/><circle cx="609.6" cy="397.5" r="3.06"/><circle cx="535.8" cy="327.4" r="1.83"/><circle cx="600.9" cy="328.8" r="1.61"/><circle cx="603.1" cy="370.8" r="3.38"/><circle cx="579.0" cy="418.2" r="2.82"/><circle cx="595.0" cy="343.2" r="2.76"/><circle cx="564.4" cy="376.9" r="2.00"/><circle cx="530.4" cy="327.9" r="2.43"/><circle cx="543.0" cy="330.5" r="2.67"/><circle cx="571.5" cy="440.4" r="2.23"/><circle cx="655.5" cy="361.1" r="1.61"/><circle cx="520.3" cy="374.0" r="3.02"/><circle cx="647.4" cy="367.6" r="2.32"/><circle cx="603.4" cy="348.6" r="2.54"/><circle cx="581.2" cy="447.8" r="2.00"/><circle cx="529.8" cy="283.5" r="1.61"/><circle cx="536.3" cy="282.1" r="2.89"/><circle cx="581.6" cy="313.5" r="2.15"/><circle cx="611.9" cy="445.7" r="2.90"/><circle cx="551.9" cy="444.6" r="1.77"/><circle cx="555.8" cy="431.2" r="2.47"/><circle cx="563.4" cy="368.5" r="3.25"/><circle cx="486.0" cy="410.2" r="3.35"/><circle cx="541.6" cy="439.5" r="3.04"/><circle cx="553.0" cy="345.5" r="3.06"/><circle cx="527.9" cy="322.4" r="2.40"/><circle cx="585.7" cy="392.8" r="1.77"/><circle cx="535.6" cy="462.9" r="2.41"/><circle cx="608.2" cy="402.6" r="1.67"/><circle cx="556.7" cy="316.8" r="1.88"/><circle cx="591.0" cy="368.4" r="2.45"/><circle cx="508.0" cy="351.5" r="2.35"/><circle cx="494.9" cy="321.6" r="3.32"/><circle cx="557.1" cy="350.8" r="2.49"/><circle cx="531.6" cy="451.4" r="2.76"/><circle cx="487.8" cy="365.2" r="3.03"/><circle cx="513.8" cy="384.9" r="1.64"/><circle cx="632.3" cy="397.0" r="2.42"/><circle cx="549.4" cy="413.1" r="1.95"/><circle cx="563.4" cy="463.1" r="1.63"/><circle cx="583.1" cy="310.9" r="1.71"/><circle cx="521.3" cy="345.1" r="2.90"/><circle cx="537.0" cy="297.1" r="1.99"/><circle cx="647.7" cy="377.9" r="3.11"/><circle cx="499.6" cy="312.7" r="2.02"/><circle cx="554.1" cy="452.0" r="2.63"/><circle cx="604.5" cy="386.7" r="1.76"/><circle cx="610.3" cy="363.1" r="1.98"/><circle cx="502.0" cy="323.1" r="2.01"/><circle cx="498.7" cy="362.6" r="2.70"/><circle cx="594.4" cy="348.0" r="1.89"/><circle cx="511.9" cy="363.1" r="2.32"/><circle cx="627.6" cy="412.6" r="3.35"/><circle cx="638.4" cy="456.1" r="2.16"/><circle cx="599.1" cy="402.4" r="1.94"/><circle cx="582.6" cy="367.4" r="2.09"/><circle cx="533.9" cy="333.4" r="2.20"/><circle cx="616.5" cy="434.8" r="2.69"/><circle cx="619.1" cy="398.2" r="2.51"/><circle cx="582.9" cy="275.1" r="3.02"/><circle cx="561.8" cy="373.4" r="3.03"/><circle cx="522.1" cy="387.5" r="3.04"/><circle cx="532.0" cy="360.2" r="2.63"/><circle cx="568.5" cy="436.3" r="3.03"/><circle cx="501.7" cy="431.4" r="2.58"/><circle cx="641.6" cy="364.6" r="2.37"/><circle cx="511.3" cy="416.5" r="2.68"/><circle cx="594.7" cy="328.8" r="3.09"/><circle cx="565.4" cy="415.8" r="2.77"/><circle cx="547.6" cy="416.1" r="2.50"/><circle cx="591.8" cy="381.5" r="2.22"/><circle cx="565.6" cy="384.3" r="1.91"/><circle cx="597.8" cy="398.4" r="2.54"/><circle cx="602.3" cy="437.5" r="2.38"/><circle cx="522.8" cy="321.9" r="3.20"/></g><g fill="#787878" stroke="#3a3a3a" stroke-width="0.7"><circle cx="559.6" cy="281.3" r="2.46"/><circle cx="547.0" cy="341.9" r="3.07"/><circle cx="605.8" cy="464.0" r="2.15"/><circle cx="555.9" cy="394.3" r="1.99"/><circle cx="562.6" cy="399.8" r="3.20"/><circle cx="636.0" cy="357.4" r="1.61"/><circle cx="547.3" cy="461.9" r="3.34"/><circle cx="625.4" cy="430.9" r="2.98"/><circle cx="542.3" cy="300.4" r="1.64"/><circle cx="536.4" cy="374.2" r="2.44"/><circle cx="573.3" cy="274.9" r="2.37"/><circle cx="592.5" cy="313.6" r="1.85"/><circle cx="616.0" cy="418.6" r="1.92"/><circle cx="601.0" cy="352.1" r="2.07"/><circle cx="549.9" cy="277.6" r="2.10"/><circle cx="620.3" cy="364.6" r="2.41"/><circle cx="559.1" cy="289.0" r="2.29"/><circle cx="548.7" cy="349.5" r="2.24"/><circle cx="522.4" cy="398.5" r="2.87"/><circle cx="593.3" cy="412.9" r="1.64"/><circle cx="560.1" cy="466.9" r="2.06"/><circle cx="542.3" cy="382.6" r="2.13"/><circle cx="624.6" cy="353.8" r="3.15"/><circle cx="549.1" cy="333.0" r="2.51"/><circle cx="660.9" cy="406.6" r="2.58"/><circle cx="570.2" cy="335.4" r="2.29"/><circle cx="566.7" cy="391.1" r="2.40"/><circle cx="548.0" cy="355.1" r="1.98"/><circle cx="577.4" cy="317.0" r="3.30"/><circle cx="551.4" cy="436.0" r="2.19"/><circle cx="586.3" cy="368.7" r="2.26"/><circle cx="516.1" cy="438.7" r="1.94"/><circle cx="589.0" cy="430.2" r="2.99"/><circle cx="573.7" cy="380.5" r="1.64"/><circle cx="539.3" cy="417.1" r="3.20"/><circle cx="507.3" cy="341.9" r="2.37"/><circle cx="543.7" cy="398.5" r="2.32"/><circle cx="602.2" cy="405.9" r="2.78"/><circle cx="577.7" cy="322.0" r="3.23"/><circle cx="502.2" cy="435.3" r="2.82"/><circle cx="596.3" cy="387.4" r="1.93"/><circle cx="548.6" cy="304.1" r="3.24"/><circle cx="515.2" cy="378.4" r="1.63"/><circle cx="581.8" cy="400.4" r="3.11"/><circle cx="606.8" cy="393.2" r="1.77"/><circle cx="496.6" cy="394.3" r="2.13"/><circle cx="559.2" cy="365.8" r="2.63"/><circle cx="596.5" cy="420.3" r="2.21"/><circle cx="507.3" cy="445.7" r="2.34"/><circle cx="640.8" cy="359.8" r="2.43"/><circle cx="543.4" cy="423.4" r="1.94"/><circle cx="551.4" cy="315.1" r="2.61"/><circle cx="675.6" cy="371.0" r="2.60"/><circle cx="635.0" cy="366.1" r="2.76"/><circle cx="594.7" cy="297.8" r="1.99"/><circle cx="516.1" cy="434.3" r="1.69"/><circle cx="580.4" cy="426.4" r="2.92"/><circle cx="549.0" cy="361.7" r="3.23"/><circle cx="551.5" cy="394.8" r="2.91"/><circle cx="511.1" cy="323.3" r="1.97"/><circle cx="602.5" cy="390.6" r="2.45"/><circle cx="491.2" cy="368.9" r="2.23"/><circle cx="584.0" cy="278.8" r="2.37"/><circle cx="516.7" cy="428.9" r="2.00"/><circle cx="589.1" cy="283.4" r="2.36"/><circle cx="490.3" cy="399.9" r="3.30"/><circle cx="541.2" cy="286.5" r="2.42"/><circle cx="612.5" cy="417.9" r="2.38"/><circle cx="525.1" cy="362.4" r="3.09"/><circle cx="493.4" cy="383.0" r="2.09"/><circle cx="622.4" cy="360.3" r="1.87"/><circle cx="539.4" cy="352.9" r="3.25"/><circle cx="573.5" cy="335.3" r="1.81"/><circle cx="591.5" cy="340.4" r="3.15"/><circle cx="503.4" cy="334.4" r="2.02"/><circle cx="570.6" cy="320.2" r="3.32"/><circle cx="544.2" cy="310.7" r="2.18"/><circle cx="540.6" cy="360.4" r="2.35"/><circle cx="484.4" cy="343.0" r="2.93"/><circle cx="583.9" cy="397.3" r="1.80"/><circle cx="600.6" cy="289.9" r="3.01"/><circle cx="559.1" cy="341.4" r="1.85"/><circle cx="523.8" cy="377.4" r="1.90"/><circle cx="522.2" cy="405.6" r="1.95"/><circle cx="573.1" cy="432.0" r="2.28"/><circle cx="528.5" cy="356.2" r="2.18"/><circle cx="508.5" cy="413.5" r="2.03"/></g></g><g fill="#9a9a9a" filter="url(#bl)"><circle cx="558.7" cy="281.5" r="0.50"/><circle cx="572.8" cy="364.4" r="0.50"/><circle cx="603.3" cy="378.8" r="0.50"/><circle cx="624.3" cy="392.3" r="0.50"/><circle cx="555.2" cy="307.2" r="0.50"/><circle cx="566.2" cy="422.9" r="0.50"/><circle cx="493.5" cy="420.2" r="0.50"/><circle cx="606.0" cy="464.0" r="0.50"/><circle cx="598.5" cy="453.8" r="0.50"/><circle cx="599.4" cy="325.7" r="0.50"/><circle cx="556.0" cy="394.6" r="0.50"/><circle cx="564.3" cy="323.2" r="0.50"/><circle cx="536.1" cy="309.0" r="0.50"/><circle cx="635.8" cy="356.9" r="0.50"/><circle cx="523.1" cy="302.9" r="0.50"/><circle cx="536.7" cy="373.4" r="0.50"/><circle cx="614.5" cy="386.2" r="0.50"/><circle cx="538.0" cy="407.3" r="0.50"/><circle cx="509.6" cy="425.2" r="0.50"/><circle cx="517.7" cy="298.4" r="0.50"/><circle cx="563.2" cy="412.8" r="0.50"/><circle cx="583.3" cy="332.0" r="0.50"/><circle cx="526.0" cy="334.5" r="0.50"/><circle cx="504.8" cy="371.8" r="0.50"/><circle cx="540.9" cy="344.4" r="0.50"/><circle cx="664.6" cy="412.7" r="0.50"/><circle cx="576.7" cy="384.6" r="0.50"/><circle cx="628.4" cy="394.1" r="0.50"/><circle cx="595.9" cy="376.4" r="0.50"/><circle cx="623.3" cy="348.0" r="0.50"/><circle cx="600.6" cy="353.0" r="0.50"/><circle cx="518.6" cy="325.4" r="0.50"/><circle cx="594.3" cy="406.6" r="0.50"/><circle cx="549.0" cy="278.3" r="0.50"/><circle cx="617.6" cy="360.4" r="0.50"/><circle cx="559.5" cy="346.0" r="0.50"/><circle cx="579.8" cy="366.2" r="0.50"/><circle cx="507.9" cy="320.9" r="0.50"/><circle cx="516.2" cy="376.2" r="0.50"/><circle cx="538.1" cy="339.9" r="0.50"/><circle cx="525.8" cy="351.1" r="0.50"/><circle cx="509.1" cy="333.0" r="0.50"/><circle cx="559.1" cy="288.9" r="0.50"/><circle cx="496.5" cy="400.6" r="0.50"/><circle cx="532.0" cy="300.3" r="0.50"/><circle cx="576.5" cy="366.2" r="0.50"/><circle cx="523.6" cy="451.4" r="0.50"/><circle cx="522.8" cy="432.9" r="0.50"/><circle cx="554.2" cy="323.8" r="0.50"/><circle cx="550.6" cy="404.4" r="0.50"/><circle cx="549.4" cy="348.8" r="0.50"/><circle cx="576.8" cy="369.5" r="0.50"/><circle cx="507.2" cy="361.7" r="0.50"/><circle cx="522.5" cy="399.1" r="0.50"/><circle cx="505.0" cy="355.9" r="0.50"/><circle cx="536.5" cy="393.6" r="0.50"/><circle cx="553.1" cy="352.7" r="0.50"/><circle cx="573.4" cy="308.1" r="0.50"/><circle cx="521.7" cy="413.1" r="0.50"/><circle cx="583.1" cy="453.7" r="0.50"/><circle cx="483.3" cy="379.0" r="0.50"/><circle cx="541.5" cy="382.2" r="0.50"/><circle cx="560.2" cy="357.2" r="0.50"/><circle cx="526.6" cy="292.2" r="0.50"/><circle cx="542.6" cy="368.1" r="0.50"/><circle cx="598.1" cy="366.3" r="0.50"/><circle cx="570.5" cy="336.0" r="0.50"/><circle cx="557.4" cy="296.6" r="0.50"/><circle cx="514.5" cy="394.7" r="0.50"/><circle cx="503.6" cy="308.6" r="0.50"/><circle cx="641.0" cy="388.5" r="0.50"/><circle cx="514.1" cy="332.4" r="0.50"/><circle cx="508.2" cy="405.0" r="0.50"/><circle cx="524.7" cy="369.9" r="0.50"/><circle cx="498.5" cy="373.9" r="0.50"/><circle cx="605.9" cy="364.2" r="0.50"/><circle cx="668.6" cy="411.3" r="0.50"/><circle cx="584.6" cy="373.6" r="0.50"/><circle cx="607.4" cy="406.0" r="0.50"/><circle cx="599.6" cy="305.2" r="0.50"/><circle cx="610.2" cy="378.0" r="0.50"/><circle cx="574.4" cy="380.6" r="0.50"/><circle cx="567.2" cy="349.7" r="0.50"/><circle cx="528.4" cy="336.5" r="0.50"/><circle cx="574.1" cy="292.0" r="0.50"/><circle cx="569.9" cy="383.4" r="0.50"/><circle cx="505.5" cy="386.9" r="0.50"/><circle cx="534.8" cy="327.7" r="0.50"/><circle cx="544.1" cy="399.3" r="0.50"/><circle cx="579.0" cy="417.3" r="0.50"/><circle cx="601.9" cy="406.2" r="0.50"/><circle cx="554.9" cy="422.6" r="0.50"/><circle cx="553.2" cy="377.2" r="0.50"/><circle cx="577.0" cy="321.5" r="0.50"/><circle cx="499.8" cy="420.3" r="0.50"/><circle cx="605.2" cy="455.1" r="0.50"/><circle cx="505.0" cy="346.1" r="0.50"/><circle cx="591.3" cy="355.1" r="0.50"/><circle cx="578.3" cy="288.0" r="0.50"/><circle cx="529.7" cy="328.3" r="0.50"/><circle cx="514.2" cy="367.8" r="0.50"/><circle cx="511.3" cy="437.3" r="0.50"/><circle cx="515.2" cy="379.2" r="0.50"/><circle cx="604.7" cy="409.7" r="0.50"/><circle cx="526.4" cy="345.0" r="0.50"/><circle cx="604.8" cy="276.2" r="0.50"/><circle cx="607.2" cy="392.4" r="0.50"/><circle cx="492.5" cy="409.5" r="0.50"/><circle cx="497.2" cy="395.2" r="0.50"/><circle cx="560.1" cy="366.5" r="0.50"/><circle cx="528.8" cy="425.8" r="0.50"/><circle cx="578.5" cy="331.3" r="0.50"/><circle cx="651.4" cy="348.2" r="0.50"/><circle cx="655.5" cy="361.0" r="0.50"/><circle cx="596.8" cy="421.0" r="0.50"/><circle cx="603.6" cy="348.5" r="0.50"/><circle cx="562.8" cy="341.5" r="0.50"/><circle cx="508.2" cy="446.6" r="0.50"/><circle cx="522.3" cy="401.6" r="0.50"/><circle cx="559.5" cy="334.1" r="0.50"/><circle cx="587.5" cy="376.8" r="0.50"/><circle cx="612.4" cy="445.9" r="0.50"/><circle cx="561.6" cy="395.1" r="0.50"/><circle cx="666.0" cy="364.6" r="0.50"/><circle cx="536.9" cy="367.4" r="0.50"/><circle cx="543.1" cy="418.7" r="0.50"/><circle cx="580.6" cy="344.4" r="0.50"/><circle cx="615.9" cy="405.4" r="0.50"/><circle cx="542.4" cy="438.5" r="0.50"/><circle cx="575.1" cy="328.9" r="0.50"/><circle cx="508.0" cy="356.8" r="0.50"/><circle cx="495.2" cy="388.0" r="0.50"/><circle cx="523.8" cy="440.7" r="0.50"/><circle cx="553.0" cy="345.2" r="0.50"/><circle cx="573.1" cy="303.6" r="0.50"/><circle cx="501.1" cy="402.8" r="0.50"/><circle cx="528.9" cy="322.0" r="0.50"/><circle cx="543.5" cy="423.4" r="0.50"/><circle cx="487.3" cy="379.7" r="0.50"/><circle cx="536.4" cy="462.5" r="0.50"/><circle cx="603.3" cy="400.1" r="0.50"/><circle cx="623.9" cy="368.4" r="0.50"/><circle cx="495.3" cy="378.5" r="0.50"/><circle cx="520.8" cy="444.5" r="0.50"/><circle cx="608.5" cy="402.5" r="0.50"/><circle cx="599.3" cy="285.4" r="0.50"/><circle cx="551.0" cy="315.5" r="0.50"/><circle cx="556.3" cy="316.6" r="0.50"/><circle cx="676.5" cy="370.4" r="0.50"/><circle cx="579.9" cy="384.1" r="0.50"/><circle cx="630.1" cy="409.0" r="0.50"/><circle cx="556.3" cy="398.0" r="0.50"/><circle cx="595.4" cy="297.0" r="0.50"/><circle cx="531.1" cy="451.3" r="0.50"/><circle cx="614.8" cy="374.7" r="0.50"/><circle cx="601.3" cy="311.0" r="0.50"/><circle cx="514.7" cy="385.3" r="0.50"/><circle cx="573.6" cy="390.1" r="0.50"/><circle cx="579.8" cy="425.7" r="0.50"/><circle cx="573.8" cy="314.3" r="0.50"/><circle cx="547.9" cy="374.6" r="0.50"/><circle cx="562.6" cy="464.0" r="0.50"/><circle cx="552.5" cy="394.1" r="0.50"/><circle cx="602.4" cy="390.8" r="0.50"/><circle cx="520.9" cy="344.3" r="0.50"/><circle cx="490.6" cy="369.3" r="0.50"/><circle cx="525.4" cy="384.1" r="0.50"/><circle cx="516.5" cy="429.1" r="0.50"/><circle cx="531.3" cy="290.9" r="0.50"/><circle cx="500.9" cy="332.8" r="0.50"/><circle cx="536.3" cy="296.6" r="0.50"/><circle cx="544.8" cy="321.9" r="0.50"/><circle cx="491.1" cy="400.7" r="0.50"/><circle cx="599.3" cy="427.4" r="0.50"/><circle cx="498.6" cy="311.9" r="0.50"/><circle cx="490.0" cy="375.0" r="0.50"/><circle cx="579.5" cy="353.3" r="0.50"/><circle cx="524.3" cy="362.1" r="0.50"/><circle cx="554.6" cy="451.5" r="0.50"/><circle cx="605.0" cy="387.6" r="0.50"/><circle cx="585.6" cy="354.7" r="0.50"/><circle cx="561.0" cy="390.5" r="0.50"/><circle cx="563.3" cy="352.7" r="0.50"/><circle cx="643.6" cy="373.3" r="0.50"/><circle cx="597.5" cy="373.2" r="0.50"/><circle cx="539.1" cy="353.7" r="0.50"/><circle cx="578.8" cy="377.0" r="0.50"/><circle cx="572.9" cy="335.9" r="0.50"/><circle cx="543.5" cy="431.7" r="0.50"/><circle cx="501.3" cy="323.7" r="0.50"/><circle cx="592.1" cy="393.6" r="0.50"/><circle cx="537.0" cy="292.3" r="0.50"/><circle cx="499.7" cy="362.0" r="0.50"/><circle cx="613.9" cy="367.6" r="0.50"/><circle cx="611.3" cy="403.8" r="0.50"/><circle cx="503.6" cy="335.2" r="0.50"/><circle cx="569.8" cy="320.7" r="0.50"/><circle cx="528.0" cy="410.7" r="0.50"/><circle cx="521.5" cy="335.6" r="0.50"/><circle cx="511.8" cy="362.7" r="0.50"/><circle cx="603.9" cy="358.7" r="0.50"/><circle cx="579.8" cy="393.0" r="0.50"/><circle cx="534.5" cy="400.2" r="0.50"/><circle cx="580.2" cy="334.0" r="0.50"/><circle cx="622.1" cy="408.7" r="0.50"/><circle cx="572.3" cy="404.3" r="0.50"/><circle cx="509.5" cy="379.2" r="0.50"/><circle cx="511.6" cy="312.8" r="0.50"/><circle cx="542.2" cy="375.1" r="0.50"/><circle cx="481.9" cy="369.2" r="0.50"/><circle cx="523.6" cy="417.6" r="0.50"/><circle cx="567.7" cy="359.5" r="0.50"/><circle cx="569.5" cy="407.0" r="0.50"/><circle cx="582.3" cy="274.2" r="0.50"/><circle cx="583.4" cy="396.7" r="0.50"/><circle cx="600.5" cy="290.6" r="0.50"/><circle cx="601.0" cy="338.6" r="0.50"/><circle cx="532.9" cy="359.3" r="0.50"/><circle cx="559.5" cy="340.5" r="0.50"/><circle cx="589.4" cy="320.9" r="0.50"/><circle cx="514.1" cy="358.5" r="0.50"/><circle cx="569.2" cy="436.7" r="0.50"/><circle cx="638.4" cy="395.2" r="0.50"/><circle cx="616.4" cy="395.3" r="0.50"/><circle cx="642.1" cy="364.5" r="0.50"/><circle cx="506.9" cy="394.8" r="0.50"/><circle cx="508.7" cy="329.5" r="0.50"/><circle cx="591.5" cy="381.2" r="0.50"/><circle cx="507.6" cy="413.8" r="0.50"/><circle cx="566.3" cy="384.7" r="0.50"/><circle cx="597.7" cy="398.4" r="0.50"/><circle cx="603.2" cy="436.6" r="0.50"/><circle cx="523.8" cy="322.1" r="0.50"/><circle cx="635.5" cy="352.2" r="0.50"/><circle cx="558.8" cy="423.4" r="0.50"/><circle cx="502.2" cy="389.8" r="0.50"/><circle cx="525.1" cy="462.4" r="0.50"/></g><rect x="467.0" y="276.0" width="211.0" height="189.4" fill="url(#l2)"/></g><g clip-path="url(#ci2)"><rect x="606.9" y="276.0" width="71.1" height="69.4" fill="#a6a6a6"/><ellipse cx="612" cy="305" rx="9" ry="30" fill="#b8b8b8" filter="url(#bl3)"/><ellipse cx="650" cy="345" rx="30" ry="6" fill="#b4b4b4" filter="url(#bl3)"/><circle cx="643.7" cy="312" r="28.5" fill="#9a9a9a" filter="url(#bl2)"/><circle cx="643.7" cy="312" r="26.5" fill="#767676" filter="url(#bl)"/><g filter="url(#bl)"><g fill="#525252" ><circle cx="657.8" cy="330.6" r="1.17"/><circle cx="651.5" cy="290.7" r="1.12"/><circle cx="636.5" cy="317.5" r="0.94"/><circle cx="658.6" cy="307.5" r="1.10"/><circle cx="619.1" cy="312.5" r="0.96"/><circle cx="636.1" cy="321.7" r="0.80"/><circle cx="637.8" cy="316.4" r="1.13"/><circle cx="642.4" cy="311.1" r="1.14"/><circle cx="650.0" cy="328.1" r="0.99"/><circle cx="658.8" cy="329.6" r="0.68"/><circle cx="640.2" cy="314.9" r="0.69"/><circle cx="633.0" cy="324.7" r="1.21"/><circle cx="659.1" cy="328.3" r="0.83"/><circle cx="631.1" cy="330.5" r="0.75"/><circle cx="639.7" cy="292.0" r="1.25"/><circle cx="621.7" cy="307.2" r="0.97"/><circle cx="642.5" cy="303.9" r="1.10"/><circle cx="635.4" cy="334.0" r="0.95"/><circle cx="643.1" cy="291.9" r="0.90"/><circle cx="657.9" cy="330.0" r="0.71"/><circle cx="623.0" cy="318.8" r="0.84"/><circle cx="644.7" cy="317.5" r="1.09"/><circle cx="653.0" cy="291.2" r="1.08"/><circle cx="640.0" cy="291.9" r="1.01"/><circle cx="638.8" cy="308.6" r="1.05"/><circle cx="629.9" cy="300.6" r="1.14"/><circle cx="658.9" cy="305.2" r="1.27"/><circle cx="649.0" cy="287.7" r="0.91"/><circle cx="627.8" cy="322.0" r="1.12"/><circle cx="664.5" cy="314.1" r="0.63"/><circle cx="621.8" cy="309.1" r="0.72"/><circle cx="639.3" cy="296.3" r="0.90"/><circle cx="642.0" cy="304.4" r="1.06"/><circle cx="656.0" cy="331.6" r="1.28"/><circle cx="643.1" cy="334.5" r="0.75"/><circle cx="642.8" cy="293.3" r="1.04"/><circle cx="645.9" cy="294.6" r="0.99"/><circle cx="665.7" cy="314.8" r="0.84"/><circle cx="625.1" cy="325.3" r="1.02"/><circle cx="633.5" cy="308.3" r="0.77"/><circle cx="621.4" cy="317.9" r="0.71"/><circle cx="664.8" cy="324.7" r="1.01"/><circle cx="653.1" cy="309.8" r="1.16"/><circle cx="642.5" cy="305.7" r="0.97"/><circle cx="651.7" cy="329.0" r="0.64"/><circle cx="656.1" cy="327.5" r="1.05"/><circle cx="650.5" cy="293.8" r="0.60"/><circle cx="644.6" cy="328.6" r="1.08"/><circle cx="637.5" cy="314.4" r="1.22"/><circle cx="622.5" cy="302.1" r="0.93"/><circle cx="639.7" cy="315.6" r="0.81"/><circle cx="637.7" cy="315.0" r="1.03"/><circle cx="643.8" cy="290.1" r="1.07"/><circle cx="654.7" cy="316.0" r="0.85"/><circle cx="634.7" cy="317.5" r="0.81"/><circle cx="637.4" cy="295.9" r="0.65"/><circle cx="628.0" cy="317.2" r="0.86"/><circle cx="658.6" cy="308.7" r="0.80"/><circle cx="649.0" cy="321.9" r="1.13"/><circle cx="658.0" cy="302.2" r="1.02"/><circle cx="621.0" cy="316.6" r="1.11"/><circle cx="653.8" cy="295.4" r="1.21"/><circle cx="658.4" cy="307.0" r="1.05"/><circle cx="660.2" cy="317.4" r="0.95"/><circle cx="632.2" cy="332.3" r="1.24"/><circle cx="630.1" cy="311.5" r="0.81"/><circle cx="656.2" cy="307.7" r="1.04"/><circle cx="630.5" cy="306.6" r="0.65"/><circle cx="628.2" cy="315.6" r="0.75"/><circle cx="652.1" cy="326.9" r="1.29"/><circle cx="652.3" cy="323.3" r="1.30"/><circle cx="628.4" cy="302.7" r="1.26"/><circle cx="628.7" cy="310.8" r="0.75"/><circle cx="662.8" cy="311.0" r="1.10"/></g><g fill="#7e7e7e" ><circle cx="642.5" cy="332.7" r="1.08"/><circle cx="650.8" cy="321.5" r="1.11"/><circle cx="641.4" cy="310.1" r="0.79"/><circle cx="653.9" cy="297.9" r="1.13"/><circle cx="631.0" cy="318.0" r="0.68"/><circle cx="648.7" cy="322.1" r="0.97"/><circle cx="653.0" cy="299.8" r="1.10"/><circle cx="641.7" cy="300.7" r="1.03"/><circle cx="641.7" cy="297.5" r="0.81"/><circle cx="644.7" cy="318.5" r="1.05"/><circle cx="668.7" cy="312.5" r="0.69"/><circle cx="648.9" cy="301.5" r="0.81"/><circle cx="619.9" cy="309.0" r="0.91"/><circle cx="626.2" cy="321.0" r="1.18"/><circle cx="640.8" cy="298.8" r="1.13"/><circle cx="631.0" cy="314.3" r="1.15"/><circle cx="642.3" cy="312.5" r="0.62"/><circle cx="642.9" cy="326.4" r="1.26"/><circle cx="644.1" cy="335.0" r="1.20"/><circle cx="658.7" cy="301.4" r="0.74"/><circle cx="660.4" cy="317.8" r="1.25"/><circle cx="644.4" cy="330.2" r="0.61"/><circle cx="663.0" cy="326.1" r="1.25"/><circle cx="654.7" cy="301.2" r="1.17"/><circle cx="624.8" cy="312.1" r="0.89"/><circle cx="637.5" cy="298.0" r="0.65"/><circle cx="650.0" cy="335.3" r="0.81"/><circle cx="635.0" cy="319.5" r="0.71"/><circle cx="650.4" cy="289.9" r="0.71"/><circle cx="644.1" cy="325.3" r="1.01"/><circle cx="660.3" cy="324.8" r="1.00"/><circle cx="635.5" cy="316.4" r="0.60"/><circle cx="646.6" cy="310.1" r="0.85"/><circle cx="627.5" cy="319.1" r="1.23"/><circle cx="640.5" cy="292.7" r="0.88"/><circle cx="635.9" cy="302.6" r="0.68"/><circle cx="650.0" cy="332.4" r="0.95"/><circle cx="637.9" cy="332.0" r="1.27"/><circle cx="634.9" cy="296.8" r="1.02"/><circle cx="643.9" cy="329.1" r="0.68"/><circle cx="659.4" cy="298.7" r="1.30"/><circle cx="633.4" cy="311.2" r="1.03"/><circle cx="646.4" cy="324.9" r="0.98"/><circle cx="655.4" cy="321.6" r="1.03"/><circle cx="657.8" cy="308.2" r="1.12"/><circle cx="630.5" cy="331.5" r="1.13"/><circle cx="653.1" cy="309.0" r="1.00"/><circle cx="638.8" cy="334.0" r="0.89"/><circle cx="647.3" cy="322.4" r="1.00"/><circle cx="622.1" cy="322.2" r="0.69"/><circle cx="649.1" cy="310.6" r="0.71"/><circle cx="645.8" cy="319.5" r="1.29"/><circle cx="661.6" cy="297.8" r="1.19"/><circle cx="641.9" cy="310.0" r="1.12"/><circle cx="625.8" cy="321.3" r="1.21"/><circle cx="660.7" cy="323.0" r="0.88"/><circle cx="650.3" cy="328.7" r="0.69"/><circle cx="657.7" cy="330.1" r="0.85"/><circle cx="653.2" cy="294.8" r="1.04"/><circle cx="648.9" cy="330.1" r="1.20"/><circle cx="655.2" cy="306.5" r="0.81"/><circle cx="658.6" cy="300.5" r="0.78"/><circle cx="629.6" cy="317.4" r="1.14"/><circle cx="642.5" cy="321.7" r="1.25"/><circle cx="636.9" cy="309.7" r="0.75"/><circle cx="623.8" cy="322.3" r="1.20"/><circle cx="644.5" cy="298.5" r="0.90"/><circle cx="664.3" cy="298.8" r="1.13"/><circle cx="641.7" cy="293.1" r="0.91"/><circle cx="648.4" cy="289.0" r="0.97"/><circle cx="633.0" cy="301.6" r="0.75"/><circle cx="633.4" cy="290.5" r="0.67"/><circle cx="630.9" cy="295.4" r="1.26"/><circle cx="643.6" cy="336.1" r="0.62"/><circle cx="639.5" cy="318.8" r="0.99"/><circle cx="624.9" cy="301.5" r="0.95"/><circle cx="639.2" cy="320.9" r="0.64"/></g><g fill="#8a8a8a" ><circle cx="639.2" cy="327.8" r="1.19"/><circle cx="636.9" cy="294.7" r="1.12"/><circle cx="657.3" cy="327.4" r="0.91"/><circle cx="639.2" cy="317.0" r="1.06"/><circle cx="648.4" cy="309.9" r="0.70"/><circle cx="651.6" cy="290.5" r="1.05"/><circle cx="659.8" cy="330.7" r="1.02"/><circle cx="626.9" cy="302.6" r="0.85"/><circle cx="654.3" cy="329.8" r="0.68"/><circle cx="626.4" cy="305.6" r="0.63"/><circle cx="639.6" cy="324.3" r="1.02"/><circle cx="658.8" cy="320.0" r="0.86"/><circle cx="642.8" cy="299.3" r="1.08"/><circle cx="653.9" cy="326.0" r="0.86"/><circle cx="626.1" cy="303.2" r="1.19"/><circle cx="636.2" cy="335.3" r="0.81"/><circle cx="648.6" cy="315.0" r="0.62"/><circle cx="660.4" cy="293.4" r="1.17"/><circle cx="622.2" cy="324.5" r="1.13"/><circle cx="631.5" cy="324.2" r="0.73"/><circle cx="639.6" cy="310.0" r="1.17"/><circle cx="621.1" cy="308.9" r="0.75"/><circle cx="647.3" cy="311.1" r="1.20"/><circle cx="642.9" cy="329.4" r="1.03"/><circle cx="622.3" cy="322.6" r="1.12"/><circle cx="643.3" cy="321.1" r="1.11"/><circle cx="627.8" cy="314.2" r="1.17"/><circle cx="637.5" cy="324.2" r="1.28"/><circle cx="650.8" cy="335.6" r="0.66"/><circle cx="645.9" cy="330.7" r="1.22"/><circle cx="632.4" cy="294.3" r="1.09"/><circle cx="641.0" cy="319.5" r="0.91"/><circle cx="625.2" cy="322.1" r="0.76"/><circle cx="650.4" cy="290.4" r="0.91"/><circle cx="631.5" cy="310.4" r="0.71"/><circle cx="643.9" cy="290.4" r="0.67"/><circle cx="631.6" cy="317.8" r="0.99"/><circle cx="642.8" cy="288.4" r="0.99"/><circle cx="658.0" cy="315.9" r="1.12"/><circle cx="664.0" cy="317.1" r="0.91"/><circle cx="650.1" cy="305.6" r="1.27"/><circle cx="620.8" cy="319.8" r="0.96"/><circle cx="622.5" cy="323.6" r="1.21"/><circle cx="639.1" cy="313.0" r="1.18"/><circle cx="643.1" cy="308.8" r="1.00"/><circle cx="663.2" cy="315.4" r="1.10"/><circle cx="621.8" cy="308.8" r="1.10"/><circle cx="637.4" cy="309.0" r="1.11"/><circle cx="641.8" cy="333.1" r="0.92"/><circle cx="647.4" cy="293.3" r="0.90"/><circle cx="642.5" cy="321.2" r="1.22"/><circle cx="660.7" cy="320.6" r="1.08"/><circle cx="642.5" cy="309.7" r="1.26"/><circle cx="650.0" cy="291.4" r="1.12"/><circle cx="643.9" cy="335.3" r="0.96"/><circle cx="663.3" cy="320.6" r="0.77"/><circle cx="647.6" cy="325.9" r="0.72"/><circle cx="633.4" cy="289.7" r="0.93"/><circle cx="629.8" cy="319.5" r="0.86"/><circle cx="632.0" cy="327.0" r="0.89"/><circle cx="619.5" cy="309.5" r="0.68"/><circle cx="649.1" cy="335.1" r="1.25"/><circle cx="652.6" cy="290.6" r="0.67"/><circle cx="648.6" cy="324.4" r="1.19"/><circle cx="649.5" cy="324.8" r="0.66"/><circle cx="640.0" cy="309.8" r="0.66"/><circle cx="628.4" cy="304.4" r="0.85"/><circle cx="649.1" cy="323.0" r="0.65"/><circle cx="627.8" cy="307.8" r="0.66"/><circle cx="627.8" cy="309.2" r="0.82"/><circle cx="648.4" cy="330.0" r="0.61"/><circle cx="619.9" cy="317.8" r="0.60"/><circle cx="633.8" cy="327.2" r="0.63"/><circle cx="645.9" cy="316.4" r="1.23"/><circle cx="650.8" cy="325.8" r="0.84"/><circle cx="649.3" cy="304.1" r="1.04"/><circle cx="634.0" cy="319.9" r="1.19"/></g><g fill="#5e5e5e" ><circle cx="650.0" cy="303.3" r="0.76"/><circle cx="656.2" cy="325.3" r="0.75"/><circle cx="664.9" cy="305.0" r="0.78"/><circle cx="628.6" cy="305.6" r="0.85"/><circle cx="653.2" cy="291.8" r="1.29"/><circle cx="643.3" cy="328.9" r="1.02"/><circle cx="644.8" cy="324.1" r="0.74"/><circle cx="652.3" cy="325.6" r="1.21"/><circle cx="660.6" cy="297.3" r="0.74"/><circle cx="630.1" cy="317.4" r="0.66"/><circle cx="644.7" cy="310.4" r="0.83"/><circle cx="623.5" cy="315.3" r="0.81"/><circle cx="661.1" cy="315.5" r="1.24"/><circle cx="651.1" cy="301.7" r="1.01"/><circle cx="647.9" cy="326.2" r="0.63"/><circle cx="637.0" cy="323.7" r="0.90"/><circle cx="648.9" cy="311.7" r="0.97"/><circle cx="658.1" cy="300.5" r="0.69"/><circle cx="656.1" cy="312.4" r="1.21"/><circle cx="650.5" cy="306.9" r="0.70"/><circle cx="654.4" cy="320.8" r="1.30"/><circle cx="631.0" cy="313.3" r="0.92"/><circle cx="647.2" cy="319.2" r="1.01"/><circle cx="632.9" cy="329.4" r="1.24"/><circle cx="653.9" cy="317.6" r="0.70"/><circle cx="650.5" cy="317.8" r="0.65"/><circle cx="662.3" cy="318.6" r="0.96"/><circle cx="621.3" cy="304.1" r="0.80"/><circle cx="636.3" cy="325.1" r="0.60"/><circle cx="649.3" cy="307.2" r="0.67"/><circle cx="664.6" cy="304.2" r="1.02"/><circle cx="651.8" cy="294.1" r="0.86"/><circle cx="623.0" cy="304.1" r="0.91"/><circle cx="622.6" cy="307.1" r="1.11"/><circle cx="645.9" cy="295.7" r="1.00"/><circle cx="658.6" cy="317.6" r="1.16"/><circle cx="642.0" cy="293.3" r="0.90"/><circle cx="637.6" cy="311.7" r="1.16"/><circle cx="647.9" cy="320.3" r="0.77"/><circle cx="644.1" cy="325.9" r="0.92"/><circle cx="643.8" cy="303.8" r="0.91"/><circle cx="645.6" cy="332.4" r="1.17"/><circle cx="631.5" cy="291.7" r="0.72"/><circle cx="639.9" cy="295.3" r="1.10"/><circle cx="658.3" cy="293.8" r="1.02"/><circle cx="660.7" cy="309.3" r="1.08"/><circle cx="645.9" cy="320.5" r="1.03"/><circle cx="653.8" cy="313.3" r="0.83"/><circle cx="652.6" cy="334.7" r="1.28"/><circle cx="662.2" cy="326.3" r="0.91"/><circle cx="638.5" cy="330.0" r="0.65"/><circle cx="660.7" cy="328.5" r="0.67"/><circle cx="642.0" cy="303.4" r="1.19"/><circle cx="629.8" cy="322.6" r="0.96"/><circle cx="631.6" cy="331.8" r="0.78"/><circle cx="651.0" cy="321.6" r="1.06"/><circle cx="640.7" cy="313.8" r="0.78"/><circle cx="645.0" cy="309.1" r="0.89"/><circle cx="667.5" cy="306.1" r="0.83"/><circle cx="626.4" cy="321.1" r="0.88"/><circle cx="647.3" cy="295.7" r="0.81"/><circle cx="658.2" cy="319.5" r="0.99"/><circle cx="639.5" cy="323.5" r="1.15"/><circle cx="662.2" cy="326.8" r="1.24"/><circle cx="640.9" cy="304.7" r="0.87"/><circle cx="660.9" cy="295.5" r="0.94"/><circle cx="648.7" cy="318.3" r="1.07"/><circle cx="650.7" cy="334.9" r="1.03"/><circle cx="660.2" cy="307.4" r="0.78"/><circle cx="660.7" cy="322.0" r="1.09"/><circle cx="631.6" cy="304.4" r="0.96"/><circle cx="625.9" cy="295.9" r="1.08"/></g></g><g fill="#454545" filter="url(#bl)"><circle cx="635.0" cy="310.1" r="1.95"/><circle cx="644.0" cy="290.2" r="1.83"/><circle cx="623.0" cy="319.7" r="1.54"/><circle cx="650.9" cy="294.0" r="1.56"/><circle cx="666.7" cy="318.9" r="1.78"/><circle cx="628.4" cy="303.7" r="1.84"/><circle cx="660.9" cy="324.5" r="1.80"/><circle cx="656.2" cy="307.7" r="1.80"/><circle cx="646.8" cy="296.7" r="2.30"/><circle cx="640.4" cy="316.6" r="1.76"/><circle cx="659.0" cy="301.7" r="2.38"/><circle cx="651.0" cy="326.6" r="1.52"/><circle cx="638.6" cy="322.3" r="2.34"/><circle cx="653.6" cy="314.0" r="2.13"/><circle cx="630.3" cy="322.3" r="2.24"/><circle cx="640.6" cy="302.2" r="2.17"/><circle cx="636.9" cy="295.7" r="1.95"/><circle cx="647.5" cy="306.6" r="1.55"/><circle cx="632.2" cy="297.4" r="1.97"/><circle cx="630.0" cy="327.3" r="2.00"/><circle cx="637.3" cy="289.8" r="2.19"/><circle cx="624.7" cy="311.1" r="1.76"/><circle cx="621.7" cy="304.7" r="1.61"/><circle cx="651.9" cy="321.1" r="1.75"/><circle cx="647.6" cy="330.8" r="1.88"/><circle cx="661.0" cy="311.2" r="1.69"/><circle cx="658.5" cy="331.1" r="2.10"/><circle cx="636.2" cy="304.0" r="1.55"/><circle cx="654.4" cy="298.4" r="1.61"/><circle cx="660.4" cy="317.0" r="1.84"/><circle cx="664.0" cy="303.7" r="2.14"/><circle cx="644.1" cy="311.3" r="1.76"/><circle cx="651.9" cy="333.4" r="1.55"/><circle cx="642.2" cy="306.6" r="2.19"/><circle cx="632.2" cy="292.5" r="2.26"/><circle cx="638.8" cy="330.0" r="2.27"/><circle cx="652.2" cy="302.9" r="1.98"/><circle cx="625.1" cy="324.8" r="1.95"/><circle cx="635.4" cy="325.9" r="2.25"/><circle cx="633.6" cy="316.1" r="2.40"/><circle cx="643.7" cy="322.2" r="1.93"/><circle cx="634.1" cy="330.6" r="1.83"/><circle cx="659.0" cy="296.8" r="2.11"/><circle cx="628.7" cy="313.5" r="2.33"/><circle cx="646.1" cy="316.6" r="2.03"/><circle cx="647.0" cy="302.0" r="1.60"/><circle cx="656.3" cy="327.0" r="1.77"/><circle cx="666.7" cy="308.3" r="1.51"/><circle cx="621.6" cy="314.7" r="2.06"/><circle cx="648.8" cy="290.0" r="2.37"/><circle cx="649.0" cy="311.5" r="2.21"/><circle cx="627.2" cy="299.1" r="1.82"/><circle cx="642.5" cy="334.9" r="2.21"/><circle cx="641.8" cy="295.3" r="1.90"/><circle cx="644.4" cy="326.9" r="1.75"/><circle cx="655.5" cy="291.6" r="2.34"/><circle cx="647.1" cy="335.4" r="2.24"/><circle cx="666.5" cy="313.5" r="1.69"/><circle cx="656.0" cy="318.8" r="1.62"/><circle cx="627.7" cy="318.4" r="1.81"/><circle cx="637.3" cy="335.3" r="1.76"/><circle cx="629.4" cy="308.3" r="2.07"/><circle cx="639.3" cy="312.0" r="1.99"/></g><g fill="#e4e4e4" filter="url(#bl)"><circle cx="634.4" cy="309.5" r="1.30"/><circle cx="643.4" cy="289.6" r="1.22"/><circle cx="622.4" cy="319.1" r="1.03"/><circle cx="650.3" cy="293.4" r="1.04"/><circle cx="666.1" cy="318.3" r="1.18"/><circle cx="627.8" cy="303.1" r="1.23"/><circle cx="660.3" cy="323.9" r="1.20"/><circle cx="655.6" cy="307.1" r="1.20"/><circle cx="646.2" cy="296.1" r="1.54"/><circle cx="639.8" cy="316.0" r="1.17"/><circle cx="658.4" cy="301.1" r="1.58"/><circle cx="650.4" cy="326.0" r="1.01"/><circle cx="638.0" cy="321.7" r="1.56"/><circle cx="653.0" cy="313.4" r="1.42"/><circle cx="629.7" cy="321.7" r="1.49"/><circle cx="640.0" cy="301.6" r="1.45"/><circle cx="636.3" cy="295.1" r="1.30"/><circle cx="646.9" cy="306.0" r="1.03"/><circle cx="631.6" cy="296.8" r="1.31"/><circle cx="629.4" cy="326.7" r="1.33"/><circle cx="636.7" cy="289.2" r="1.46"/><circle cx="624.1" cy="310.5" r="1.18"/><circle cx="621.1" cy="304.1" r="1.07"/><circle cx="651.3" cy="320.5" r="1.17"/><circle cx="647.0" cy="330.2" r="1.25"/><circle cx="660.4" cy="310.6" r="1.13"/><circle cx="657.9" cy="330.5" r="1.40"/><circle cx="635.6" cy="303.4" r="1.03"/><circle cx="653.8" cy="297.8" r="1.08"/><circle cx="659.8" cy="316.4" r="1.22"/><circle cx="663.4" cy="303.1" r="1.42"/><circle cx="643.5" cy="310.7" r="1.18"/><circle cx="651.3" cy="332.8" r="1.03"/><circle cx="641.6" cy="306.0" r="1.46"/><circle cx="631.6" cy="291.9" r="1.51"/><circle cx="638.2" cy="329.4" r="1.51"/><circle cx="651.6" cy="302.3" r="1.32"/><circle cx="624.5" cy="324.2" r="1.30"/><circle cx="634.8" cy="325.3" r="1.50"/><circle cx="633.0" cy="315.5" r="1.60"/><circle cx="643.1" cy="321.6" r="1.28"/><circle cx="633.5" cy="330.0" r="1.22"/><circle cx="658.4" cy="296.2" r="1.41"/><circle cx="628.1" cy="312.9" r="1.56"/><circle cx="645.5" cy="316.0" r="1.36"/><circle cx="646.4" cy="301.4" r="1.07"/><circle cx="655.7" cy="326.4" r="1.18"/><circle cx="666.1" cy="307.7" r="1.01"/><circle cx="621.0" cy="314.1" r="1.38"/><circle cx="648.2" cy="289.4" r="1.58"/><circle cx="648.4" cy="310.9" r="1.47"/><circle cx="626.6" cy="298.5" r="1.21"/><circle cx="641.9" cy="334.3" r="1.47"/><circle cx="641.2" cy="294.7" r="1.27"/><circle cx="643.8" cy="326.3" r="1.17"/><circle cx="654.9" cy="291.0" r="1.56"/><circle cx="646.5" cy="334.8" r="1.49"/><circle cx="665.9" cy="312.9" r="1.13"/><circle cx="655.4" cy="318.2" r="1.08"/><circle cx="627.1" cy="317.8" r="1.21"/><circle cx="636.7" cy="334.7" r="1.18"/><circle cx="628.8" cy="307.7" r="1.38"/><circle cx="638.7" cy="311.4" r="1.33"/></g></g><g font-family="Liberation Serif" font-size="18.5" fill="#fff" stroke="#fff" stroke-width="0.7"><text transform="translate(46.3,295.3) scale(0.89,1)">100%</text><text transform="translate(261.5,295.3) scale(0.89,1)">50%</text><text transform="translate(476.5,295.3) scale(0.89,1)">20%</text></g></svg></body></html>
